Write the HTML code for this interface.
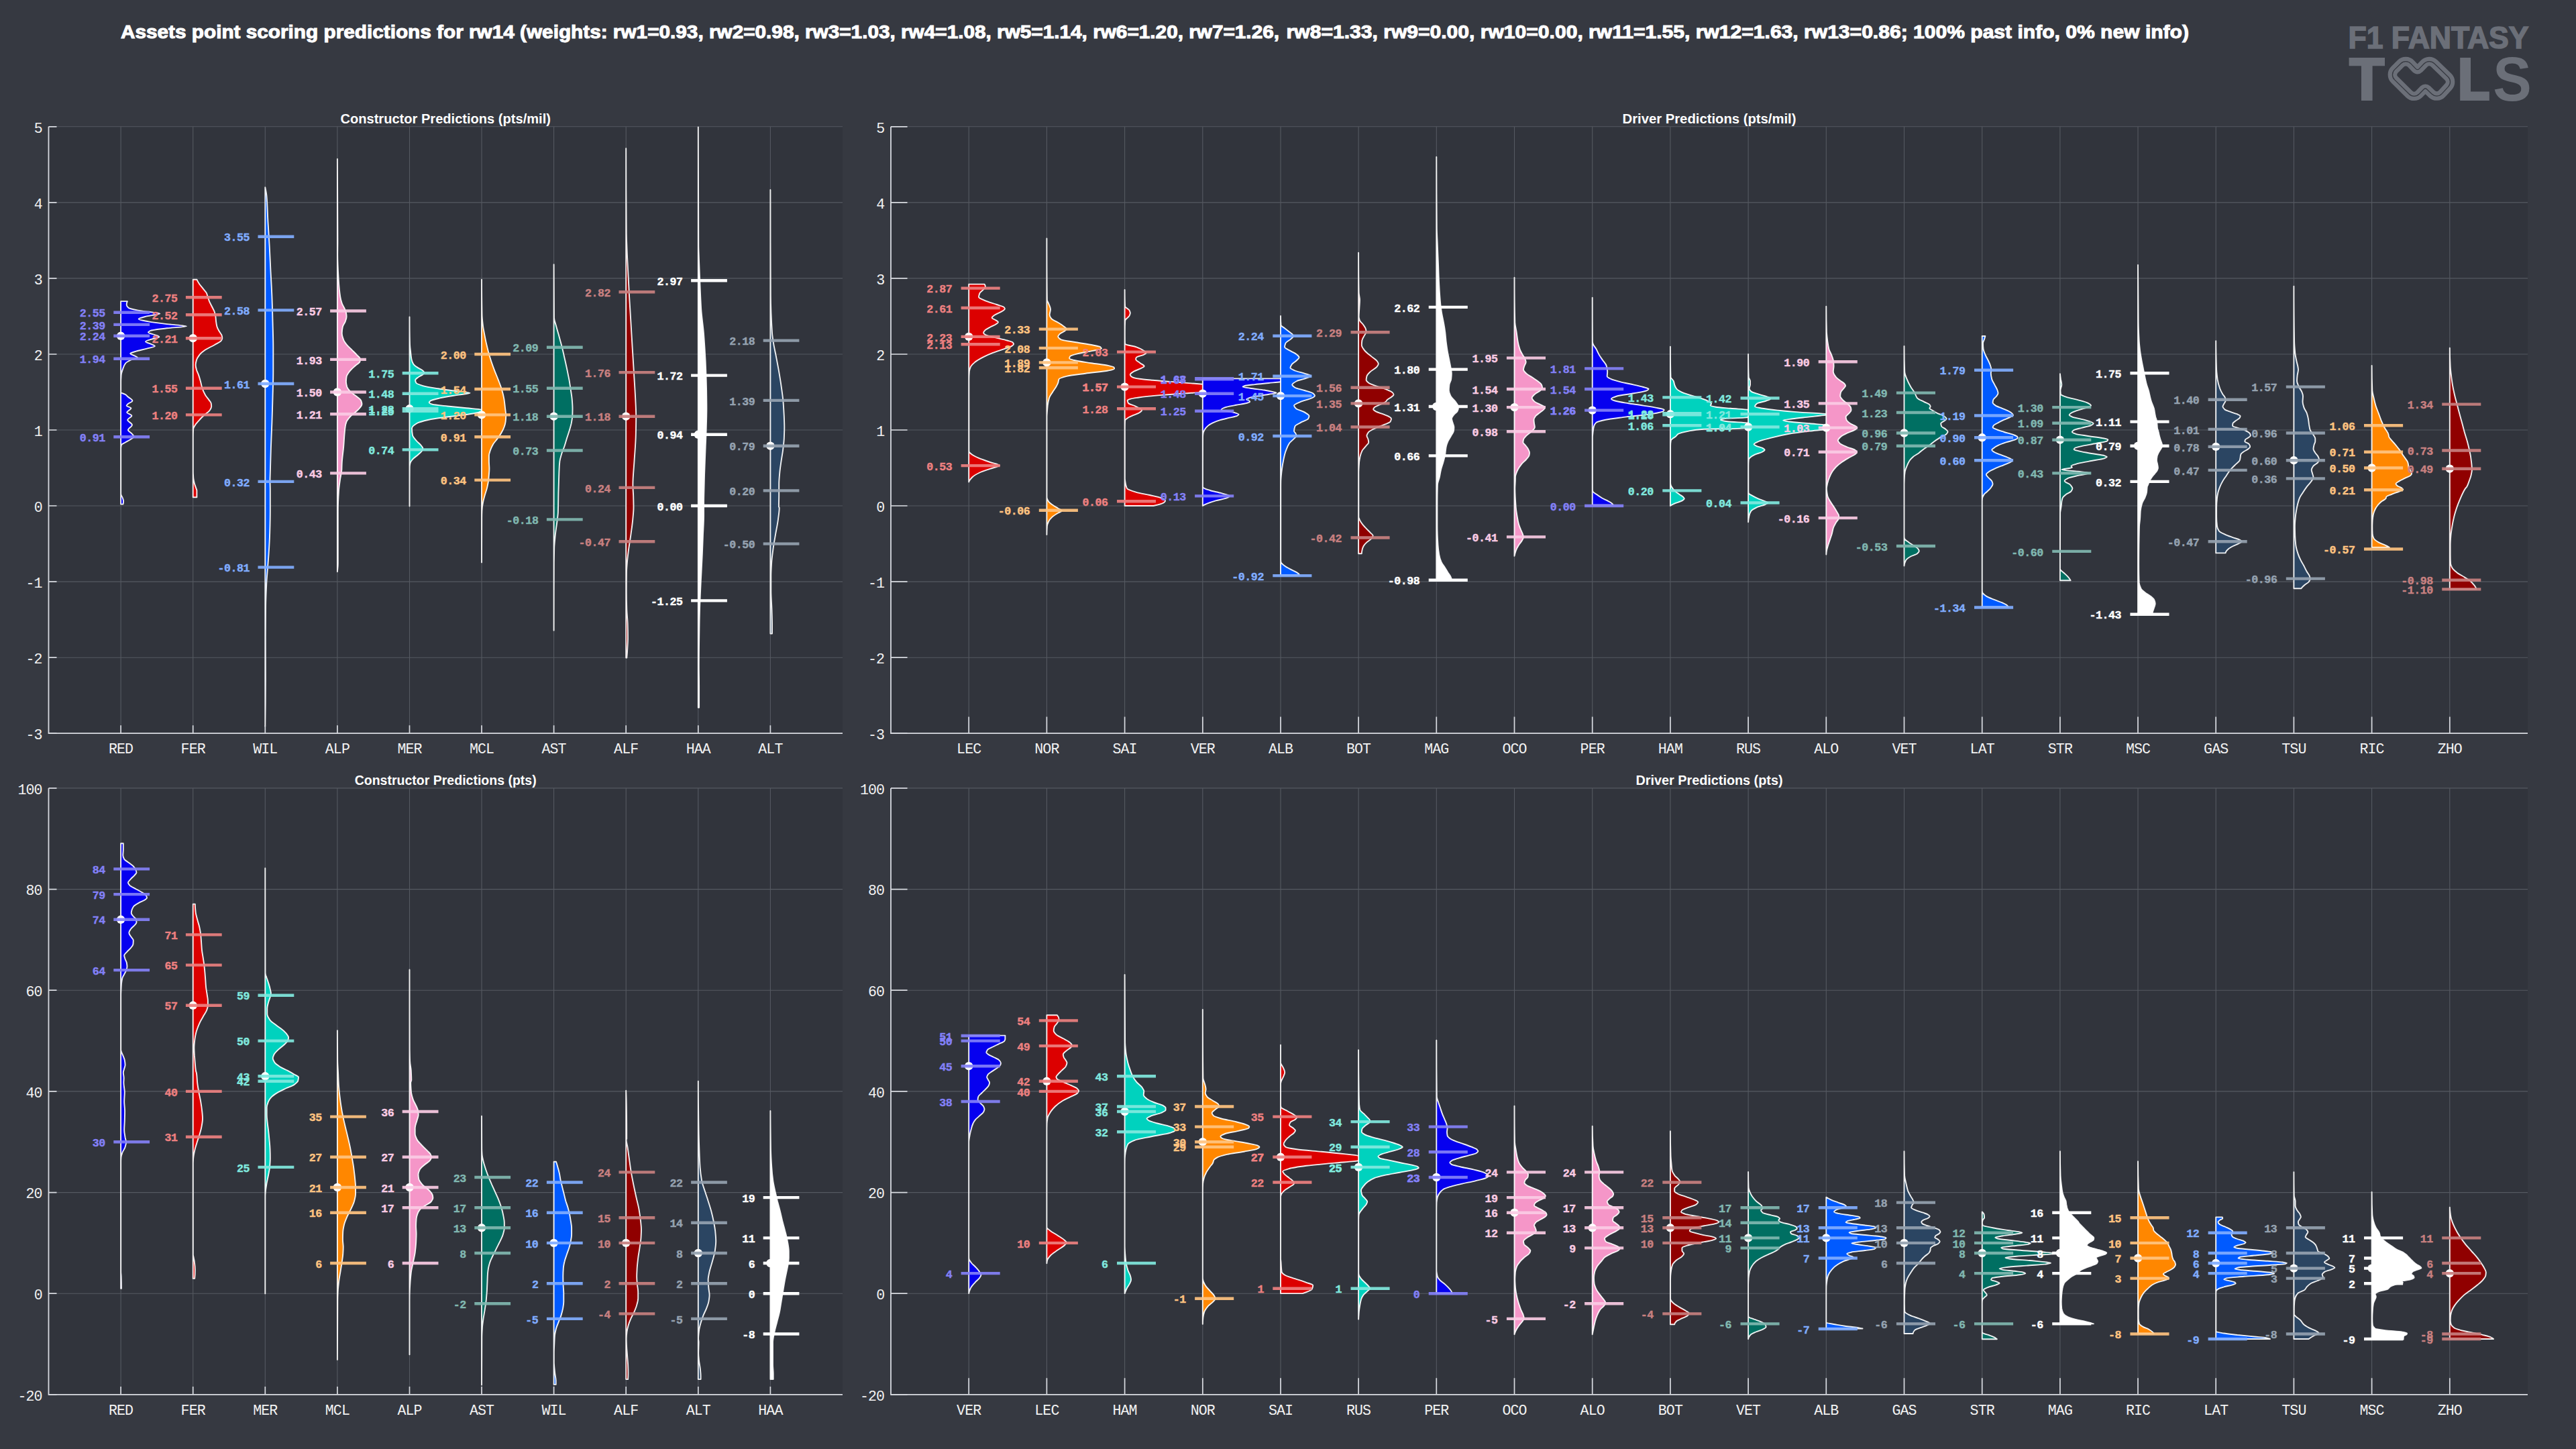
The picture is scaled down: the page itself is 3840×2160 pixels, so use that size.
<!DOCTYPE html><html><head><meta charset="utf-8"><title>F1 Fantasy Tools</title><style>html,body{margin:0;padding:0;background:#363941}svg{display:block}.q{font-family:"Liberation Mono",monospace;font-weight:bold;font-size:16.6px;letter-spacing:-0.45px;text-anchor:end;stroke-width:0.45px}.t{font-family:"Liberation Mono",monospace;font-size:21.6px;letter-spacing:-0.9px;fill:#f2f2f2}.st{font-family:"Liberation Sans",sans-serif;font-weight:bold;font-size:20px;fill:#fff}</style></head><body>
<svg width="3840" height="2160" viewBox="0 0 3840 2160">
<rect width="3840" height="2160" fill="#363941"/>
<g font-family="Liberation Sans" font-weight="bold" font-size="26.8" fill="#fff" stroke="#fff" stroke-width="1.0"><text x="180" y="56.7" textLength="1727" lengthAdjust="spacingAndGlyphs">Assets point scoring predictions for rw14 (weights: rw1=0.93, rw2=0.98, rw3=1.03, rw4=1.08, rw5=1.14, rw6=1.20, rw7=1.26,</text><text x="1917.6" y="56.7" textLength="1345.4" lengthAdjust="spacingAndGlyphs">rw8=1.33, rw9=0.00, rw10=0.00, rw11=1.55, rw12=1.63, rw13=0.86; 100% past info, 0% new info)</text></g>
<text x="3500.5" y="71.5" font-family="Liberation Sans" font-weight="bold" font-size="45.5" fill="#6b6f78" stroke="#6b6f78" stroke-width="1.6" textLength="269" lengthAdjust="spacingAndGlyphs">F1 FANTASY</text>
<path d="M3501.6 86H3555V98.2H3536.6V150H3520V98.2H3501.6Z" fill="#6b6f78"/>
<path d="M3667.2 86H3683V136.5H3710.8V150H3667.2Z" fill="#6b6f78"/>
<text x="3716.3" y="150.4" font-family="Liberation Sans" font-weight="bold" font-size="93" fill="#6b6f78" textLength="57.5" lengthAdjust="spacingAndGlyphs">S</text>
<path d="M3569.6 118.9A10.5 10.5 0 0 1 3569.5 103.9L3578.8 94.7A10.5 10.5 0 0 1 3593.8 94.9L3601.2 102.6A3.5 3.5 0 0 0 3606.2 102.6L3613.7 94.8A10.5 10.5 0 0 1 3628.6 94.5L3649.3 114.5A10.5 10.5 0 0 1 3649.8 129.1L3640.2 139.6A10.5 10.5 0 0 1 3625.2 140.2L3617.9 133.2A3.5 3.5 0 0 0 3613 133.2L3606.1 140.2A10.5 10.5 0 0 1 3591.3 140.3Z" fill="none" stroke="#6b6f78" stroke-width="13.6" stroke-linejoin="round"/>
<path d="M3569.6 118.9A10.5 10.5 0 0 1 3569.5 103.9L3578.8 94.7A10.5 10.5 0 0 1 3593.8 94.9L3601.2 102.6A3.5 3.5 0 0 0 3606.2 102.6L3613.7 94.8A10.5 10.5 0 0 1 3628.6 94.5L3649.3 114.5A10.5 10.5 0 0 1 3649.8 129.1L3640.2 139.6A10.5 10.5 0 0 1 3625.2 140.2L3617.9 133.2A3.5 3.5 0 0 0 3613 133.2L3606.1 140.2A10.5 10.5 0 0 1 3591.3 140.3Z" fill="none" stroke="#363941" stroke-width="1.3"/>
<rect x="72.5" y="188.8" width="1183.5" height="904.4" fill="#31343c"/>
<path d="M180.1 188.8V1093.2M287.7 188.8V1093.2M395.3 188.8V1093.2M502.9 188.8V1093.2M610.5 188.8V1093.2M718 188.8V1093.2M825.6 188.8V1093.2M933.2 188.8V1093.2M1040.8 188.8V1093.2M1148.4 188.8V1093.2M72.5 188.8H1256M72.5 301.9H1256M72.5 414.9H1256M72.5 528H1256M72.5 641H1256M72.5 754H1256M72.5 867.1H1256M72.5 980.2H1256M72.5 1093.2H1256" stroke="#555961" stroke-width="1.1" fill="none"/>
<clipPath id="cp1"><rect x="72.5" y="188.8" width="1223.5" height="904.4"/></clipPath>
<g clip-path="url(#cp1)">
<path d="M180.1 449.1L189.9 449.1C188.7 450.9 188.7 452.7 188.7 454.5C188.7 456 190 457.5 191.7 459C193.3 460.4 201.8 461.8 209.1 463.2C216.3 464.6 238.4 466 238.4 467.5C238.4 468.8 223.9 470.1 219 471.4C213.8 472.8 206.6 474.2 206.6 475.7C206.6 476.9 215.1 478.1 221.5 479.4C227.9 480.6 238.7 481.9 248.8 483.1C257.6 484.2 278.1 485.3 278.1 486.3C278.1 487.3 256.8 488.3 248.8 489.3C238.9 490.6 226.4 491.8 224 493C222.4 493.9 221 494.7 221 495.5C221 496.8 228.5 498 231.4 499.3C233.7 500.2 237.4 501.2 237.4 502.2C237.4 503.3 229.6 504.4 226.5 505.5C222.8 506.7 217 508 217 509.2C217 510.4 222.8 511.7 225.2 512.9C227.3 514 230.9 515.1 230.9 516.1C230.9 517.3 223.3 518.5 219 519.6C214.1 521 206.9 522.3 202.9 523.6C199.3 524.8 194.2 525.9 194.2 527.1C194.2 528.2 198.5 529.2 200.4 530.3C202.1 531.3 205.1 532.3 205.1 533.3C205.1 534.4 197.7 535.4 195.4 536.5C191.8 538.2 188.5 539.8 187.2 541.5C185.2 544 184.4 546.5 183.5 548.9C182.3 552.3 181 555.6 180.7 558.9C180.5 562.2 180.2 565.5 180.2 568.8C180.2 574.2 180.2 579.6 180.2 585C180.2 586 185.7 587.1 187.2 588.2C188.6 589.2 189.3 590.2 190.4 591.2C192.7 593.3 197.4 595.3 197.4 597.4C197.4 599 191.9 600.7 190.4 602.4C189.7 603.2 188.7 604 188.7 604.8C188.7 606.1 195.4 607.3 195.4 608.6C195.4 610.6 189.2 612.7 189.2 614.8C189.2 616.4 196.4 618.1 196.4 619.8C196.4 621.8 190.2 623.9 190.2 626C190.2 628.4 196.9 630.9 196.9 633.4C196.9 635.9 190.9 638.4 190.9 640.9C190.9 642.9 195.5 645 197.1 647.1C198.1 648.3 199.6 649.6 199.6 650.8C199.6 652 197.1 653.3 195.4 654.5C193.1 656.2 189.4 657.8 186.7 659.5C184.7 660.7 181.3 662 181 663.2C180.5 664.9 180.3 666.5 180.2 668.2C180.2 690.3 180.2 712.3 180.2 734.4C180.2 735.2 180.2 736 180.3 736.9C180.5 738.6 182.2 740.4 182.8 742.2C183.3 743.8 184.1 745.3 184.1 746.9C184.1 748.4 184 750 183.4 751.6L180.1 751.6Z" fill="#0600ef" stroke="rgba(255,255,255,0.92)" stroke-width="1.9" stroke-linejoin="round"/>
<circle cx="180.1" cy="500.8" r="6.2" fill="#fff"/>
<path d="M169.3 465.8H223.1M169.3 483.9H223.1M169.3 500.8H223.1M169.3 534.7H223.1M169.3 651.2H223.1" stroke="#8380f7" stroke-width="4.4" fill="none" opacity="0.92"/>
<g class="q" fill="#8380f7" stroke="#8380f7"><text x="156.9" y="472.4">2.55</text><text x="156.9" y="490.5">2.39</text><text x="156.9" y="507.4">2.24</text><text x="156.9" y="541.3">1.94</text><text x="156.9" y="657.8">0.91</text></g>
<path d="M287.7 416.8L293.5 416.8C294.5 419 295.8 421.2 297.3 423.5C298.6 425.5 300.6 427.6 302.2 429.7C304.2 432.2 306.8 434.7 308 437.1C308.7 438.8 309.1 440.5 309.7 442.1C310.5 444.6 311.2 447.1 312.2 449.6C313.2 452 314.7 454.5 315.9 457C317.1 459.5 318.8 462 319.6 464.5C320.4 467 321 469.4 321.4 471.9C321.7 474.4 321.8 476.9 322.1 479.4C322.4 481.9 322.7 484.3 323.4 486.8C324 489.3 325.7 491.8 327.1 494.3C328.2 496.4 330.4 498.4 330.8 500.5C331.1 501.7 331.3 503 331.3 504.2C331.3 505.5 330.4 506.7 329.6 508C328.1 510 323.2 512.1 319.6 514.2C315.4 516.6 309.5 519.1 306 521.6C302.4 524.1 299.2 526.6 297.3 529.1C295.4 531.6 293.8 534 293 536.5C292.3 539 291.6 541.5 291.6 544C291.6 546.5 292.4 548.9 293 551.4C293.7 553.9 295.2 556.4 296 558.9C297.2 562.2 298.1 565.5 299 568.8C299.9 572.1 300.4 575.4 301.5 578.8C302.6 582.1 304.1 585.4 306 588.7C307.4 591.2 309.7 593.7 311.4 596.1C312.6 597.8 314.4 599.5 314.7 601.1C314.9 602.8 315.2 604.4 315.2 606.1C315.2 608.2 313.6 610.2 312.2 612.3C310.8 614.4 307 616.4 304.7 618.5C302 621 299.5 623.5 297.3 626C295 628.4 292.6 630.9 291.1 633.4C289.8 635.5 288.2 637.6 288.1 639.6C287.9 644.2 287.8 648.7 287.8 653.3C287.8 669.9 287.8 686.4 287.8 703C287.8 706.3 288.1 709.6 288.3 712.9C288.5 715.4 289.2 717.9 289.8 720.4C290.4 722.9 291.5 725.3 292.3 727.8C292.7 729 293.4 730.1 293.4 731.2C293.4 734.6 293.4 737.9 293.4 741.2L287.7 741.2Z" fill="#dc0000" stroke="rgba(255,255,255,0.92)" stroke-width="1.9" stroke-linejoin="round"/>
<circle cx="287.7" cy="504.2" r="6.2" fill="#fff"/>
<path d="M276.9 443.2H330.7M276.9 469.2H330.7M276.9 504.2H330.7M276.9 578.8H330.7M276.9 618.4H330.7" stroke="#ed8080" stroke-width="4.4" fill="none" opacity="0.92"/>
<g class="q" fill="#ed8080" stroke="#ed8080"><text x="264.5" y="449.8">2.75</text><text x="264.5" y="475.8">2.52</text><text x="264.5" y="510.8">2.21</text><text x="264.5" y="585.4">1.55</text><text x="264.5" y="625">1.20</text></g>
<path d="M395.3 279.3L395.3 279.3C396.2 283.6 397.2 288 397.5 292.4C398.6 304.9 398.7 317.4 399.4 329.8C400.1 342.3 401 354.8 401.7 367.3C402.3 379.8 402.9 392.3 403.5 404.8C404.2 417.3 404.9 429.7 405.4 442.2C405.9 454.7 406.2 467.2 406.5 479.7C406.8 492.2 407.3 504.7 407.3 517.2C407.3 529.6 407.3 542.1 407.3 554.6C407.3 567.1 406.8 579.6 406.5 592.1C406.2 604.6 405.8 617 405.4 629.5C405 642 404.3 654.5 403.9 667C403.5 679.5 403.1 692 402.8 704.5C402.7 708.2 402.5 711.9 402.5 715.6C402.5 720.8 402.8 726 402.8 731.2C402.8 741.7 402.8 752.1 402.8 762.5C402.8 772.9 402.5 783.3 402.2 793.8C401.9 804.2 401.3 814.6 400.6 825C400.2 831.8 399.6 838.5 399.1 845.3C398.4 854.2 397.6 863 397.2 871.9C396.7 882.3 396.2 892.7 396.1 903.1C395.9 918.8 395.8 934.4 395.8 950C395.8 970.8 395.9 991.7 395.9 1012.5C395.9 1035.9 395.6 1059.4 395.3 1082.8L395.3 1082.8Z" fill="#005aff" stroke="rgba(255,255,255,0.92)" stroke-width="1.9" stroke-linejoin="round"/>
<circle cx="395.3" cy="572" r="6.2" fill="#fff"/>
<path d="M384.5 352.7H438.3M384.5 462.4H438.3M384.5 572H438.3M384.5 717.9H438.3M384.5 845.6H438.3" stroke="#80acff" stroke-width="4.4" fill="none" opacity="0.92"/>
<g class="q" fill="#80acff" stroke="#80acff"><text x="372.1" y="359.3">3.55</text><text x="372.1" y="469">2.58</text><text x="372.1" y="578.6">1.61</text><text x="372.1" y="724.5">0.32</text><text x="372.1" y="852.2">-0.81</text></g>
<path d="M502.9 236.9L502.9 236.9C503.4 277.9 503.4 318.9 503.4 359.8C503.4 366.5 503.2 373.3 503.2 380C503.2 392.4 504 404.8 504.7 417.3C505.2 425.5 505.9 433.8 507.2 442.1C507.7 445.4 508.6 448.7 509.7 452C510.5 454.5 512.3 457 513.4 459.5C514.3 461.6 515.5 463.6 515.9 465.7C516.3 467.8 516.6 469.9 516.6 471.9C516.6 474.4 515.5 476.9 514.7 479.4C513.8 481.9 511.4 484.3 510.9 486.8C510.2 490.1 509.7 493.5 509.7 496.8C509.7 500.1 510.9 503.4 512.2 506.7C513.1 509.2 515.2 511.7 517.1 514.2C519.1 516.6 522.1 519.1 524.6 521.6C527.1 524.1 529.8 526.6 532 529.1C533.9 531.1 537 533.2 537 535.3C537 536.5 536.8 537.8 536.5 539C536.1 541.1 531.8 543.1 529.6 545.2C526.5 548.1 523 551 520.9 553.9C519.1 556.4 517.1 558.9 516.6 561.4C516.2 563.9 515.9 566.3 515.9 568.8C515.9 571.3 516.5 573.8 517.1 576.3C517.8 578.8 519.9 581.2 522.1 583.7C524.3 586.2 529.2 588.7 532 591.2C534.4 593.3 537.5 595.3 538.3 597.4C538.9 599 539.5 600.7 539.5 602.4C539.5 604 538.1 605.7 537 607.3C535.7 609.4 533 611.5 530.8 613.5C528.1 616 524.3 618.5 522.1 621C519.9 623.5 517.6 626 516.6 628.4C515.7 630.9 515 633.4 514.7 635.9C514 640 513.8 644.2 513.4 648.3C512.9 654.1 512.7 659.9 512.2 665.7C511.5 674 510.1 682.3 509.7 690.6C509.5 693.7 509.5 696.9 509.4 700C509.1 705.2 507.6 710.4 506.9 715.6C506.2 720.8 505.3 726 505 731.2C504.3 741.7 503.8 752.1 503.8 762.5C503.8 778.1 503.8 793.8 503.8 809.4C503.8 819.8 503.8 830.2 503.8 840.6C503.8 844.5 503.2 848.3 502.9 852.2L502.9 852.2Z" fill="#f596c8" stroke="rgba(255,255,255,0.92)" stroke-width="1.9" stroke-linejoin="round"/>
<circle cx="502.9" cy="584.5" r="6.2" fill="#fff"/>
<path d="M492.1 463.5H545.9M492.1 535.9H545.9M492.1 584.5H545.9M492.1 617.3H545.9M492.1 705.4H545.9" stroke="#facbe4" stroke-width="4.4" fill="none" opacity="0.92"/>
<g class="q" fill="#facbe4" stroke="#facbe4"><text x="479.7" y="470.1">2.57</text><text x="479.7" y="542.5">1.93</text><text x="479.7" y="591.1">1.50</text><text x="479.7" y="623.9">1.21</text><text x="479.7" y="712">0.43</text></g>
<path d="M610.5 472.4L610.5 472.4C610.5 485.9 610.6 499.5 611 513C611.1 516.8 611.6 520.6 612.1 524.4C612.5 528.2 612.7 531.9 613.5 535.7C613.9 538 614.8 540.4 616.3 542.7C617.4 544.6 620.5 546.5 623.3 548.4C625.3 549.8 628.9 551.2 630.4 552.6C631.3 553.5 632.6 554.5 632.6 555.4C632.6 556.3 631.3 557.3 630.4 558.2C628.9 559.6 625 561 623.3 562.4C621.5 563.8 619.1 565.3 619.1 566.7C619.1 568.1 619.6 569.5 620.5 570.9C621.3 572.3 625.8 573.7 630.4 575.1C634.9 576.5 644 577.9 652.9 579.3C660.6 580.5 672 581.8 681 583C687.8 583.9 700.7 584.9 700.7 585.8C700.7 586.7 689.3 587.7 683.8 588.6C674.2 590.2 662.4 591.8 655.7 593.4C649.7 594.8 643.3 596.2 641.6 597.6C640.6 598.4 639.7 599.1 639.7 599.9C639.7 600.8 641.8 601.8 644.4 602.7C646.9 603.6 658.6 604.6 667 605.5C675.3 606.4 685.8 607.4 695.1 608.3C702.6 609.1 713.6 609.8 717.5 610.6C719.8 611.1 722.5 611.5 722.5 612C722.5 612.7 719.7 613.3 717.5 614C713.8 615.1 706.9 616.2 700 617.3C692.1 618.5 679.5 619.8 670.5 621C659 622.6 645.9 624.1 639 625.7C631.1 627.5 624.3 629.2 621.5 631C617.5 633.5 614 635.9 614 638.4C614 641.7 614.3 645 614.9 648.3C615.3 651.1 618.2 653.9 620.5 656.7C622.3 659.1 625.7 661.4 627.5 663.8C628.6 665.4 630.4 666.9 630.4 668.5C630.4 669.7 629.6 671 629 672.2C628 674.1 625.3 675.9 623.3 677.8C620.7 680.2 616.7 682.5 614.9 684.9C613.4 686.8 611.9 688.6 611.5 690.5C611 692.3 610.7 694.2 610.7 696C610.5 715.5 610.5 735.1 610.5 754.6L610.5 754.6Z" fill="#00d2be" stroke="rgba(255,255,255,0.92)" stroke-width="1.9" stroke-linejoin="round"/>
<circle cx="610.5" cy="609.3" r="6.2" fill="#fff"/>
<path d="M599.7 556.2H653.5M599.7 586.7H653.5M599.7 609.3H653.5M599.7 612.7H653.5M599.7 670.4H653.5" stroke="#80e8de" stroke-width="4.4" fill="none" opacity="0.92"/>
<g class="q" fill="#80e8de" stroke="#80e8de"><text x="587.2" y="562.8">1.75</text><text x="587.2" y="593.3">1.48</text><text x="587.2" y="615.9">1.28</text><text x="587.2" y="619.3">1.25</text><text x="587.2" y="677">0.74</text></g>
<path d="M718 416.8L718 416.8C718 433.9 718.2 451 718.5 468.1C718.5 473.8 719.2 479.4 719.9 485C720.3 488.8 721.1 492.5 721.8 496.3C722.7 501 723.6 505.7 724.6 510.4C725.7 515.1 726.8 519.7 728 524.4C729.3 529.1 730.7 533.8 732.2 538.5C733.8 543.2 735.5 547.9 737.3 552.6C739.1 557.3 741.2 562 742.9 566.6C744.7 571.3 746.7 576 748 580.7C749.4 585.4 750.6 590.1 751.4 594.8C752.1 599.5 752.6 604.2 753.1 608.9C753.5 612.6 754.2 616.4 754.2 620.1C754.2 622.9 753.9 625.8 753.6 628.6C753.3 631.4 752.4 634.2 751.4 637C750.4 639.8 748.8 642.6 747.2 645.5C745.6 648.3 743.5 651.1 741.5 653.9C739.5 656.7 736.7 659.5 735.1 662.3C733.4 665.2 732.1 668 731.1 670.8C730.2 673.6 728.9 676.4 728.9 679.2C728.9 682 728.9 684.9 728.9 687.7C728.9 691.4 729.4 695.2 729.4 698.9C729.4 701.7 729.1 704.6 728.9 707.4C728.6 710.7 728.4 713.9 728 717.2C727.6 720.5 726.8 723.8 726.1 727.1C725.2 730.8 723.7 734.6 722.7 738.3C721.7 742.1 720.5 745.8 719.9 749.6C719.2 753.3 718.6 757.1 718.5 760.8C718.3 764.6 718.2 768.4 718.2 772.1C718.1 794.2 718 816.3 718 838.4L718 838.4Z" fill="#ff8700" stroke="rgba(255,255,255,0.92)" stroke-width="1.9" stroke-linejoin="round"/>
<circle cx="718" cy="618.4" r="6.2" fill="#fff"/>
<path d="M707.3 528H761.1M707.3 580H761.1M707.3 618.4H761.1M707.3 651.2H761.1M707.3 715.6H761.1" stroke="#ffc380" stroke-width="4.4" fill="none" opacity="0.92"/>
<g class="q" fill="#ffc380" stroke="#ffc380"><text x="694.8" y="534.6">2.00</text><text x="694.8" y="586.6">1.54</text><text x="694.8" y="625">1.20</text><text x="694.8" y="657.8">0.91</text><text x="694.8" y="722.2">0.34</text></g>
<path d="M825.6 394.3L825.6 394.3C825.6 420.8 825.7 447.3 826 473.8C826 477.5 827.8 481.3 828.8 485C830.3 490.7 832 496.3 833.6 501.9C835.1 507.5 836.7 513.2 838.1 518.8C839.5 524.4 840.7 530.1 842 535.7C843.3 541.3 844.5 546.9 845.7 552.6C846.6 557.3 847.6 562 848.5 566.6C849.3 571.3 850 576 850.7 580.7C851.4 585.4 852.3 590.1 852.7 594.8C853.1 599.5 853.5 604.2 853.5 608.9C853.5 612.6 853.4 616.4 853.3 620.1C853.1 623.9 852.3 627.6 851.6 631.4C850.8 635.1 849.6 638.9 848.5 642.6C847.4 646.4 846 650.1 844.8 653.9C843.7 657.7 842.7 661.4 841.4 665.2C840.2 668.9 838.3 672.7 837.2 676.4C836.1 680.2 834.8 683.9 834.4 687.7C834 691.4 833.7 695.2 833.6 698.9C833.3 704.6 833.2 710.2 833 715.8C832.8 722.4 832.6 728.9 832.4 735.5C832.3 740.2 832.3 744.9 832.2 749.6C832.1 754.3 832 759 831.9 763.7C831.7 767.5 831.2 771.3 830.7 775.2C830 782.2 828.7 789.3 827.9 796.3C827.3 802.9 826.5 809.4 826.2 816C826 823.5 825.9 831 825.8 838.5C825.7 872.3 825.6 906 825.6 939.8L825.6 939.8Z" fill="#006f62" stroke="rgba(255,255,255,0.92)" stroke-width="1.9" stroke-linejoin="round"/>
<circle cx="825.6" cy="620.7" r="6.2" fill="#fff"/>
<path d="M814.9 517.8H868.7M814.9 578.8H868.7M814.9 620.7H868.7M814.9 671.5H868.7M814.9 774.4H868.7" stroke="#80b7b0" stroke-width="4.4" fill="none" opacity="0.92"/>
<g class="q" fill="#80b7b0" stroke="#80b7b0"><text x="802.4" y="524.4">2.09</text><text x="802.4" y="585.4">1.55</text><text x="802.4" y="627.3">1.18</text><text x="802.4" y="678.1">0.73</text><text x="802.4" y="781">-0.18</text></g>
<path d="M933.2 221.2L933.2 221.2C933.2 263.7 933.4 306.1 933.8 348.6C933.9 354.8 934.1 361.1 934.4 367.3C934.8 379.8 935.6 392.3 936.2 404.8C936.9 417.3 937.4 429.7 938.1 442.2C938.8 454.7 939.6 467.2 940.4 479.7C941.1 492.2 941.9 504.7 942.6 517.2C943.4 529.6 944.1 542.1 944.9 554.6C945.6 567.1 946.5 579.6 947.1 592.1C947.6 602.1 948.2 612.1 948.2 622C948.2 630.8 948 639.5 947.8 648.3C947.6 660.8 946.4 673.2 945.6 685.7C944.9 698.1 943.4 710.5 943.4 722.8C943.4 728.5 944 734.3 944.2 740C944.3 745.6 944.5 751.3 944.5 756.9C944.5 762.5 943.8 768.1 943.3 773.8C942.7 781.3 941.5 788.8 940.5 796.3C939.5 803.8 938.1 811.3 937.1 818.8C936.3 825.4 935.4 831.9 934.9 838.5C934.5 843.2 934.1 847.9 934 852.6C933.9 862 933.8 871.3 933.8 880.7C933.8 890.1 934 899.5 934.3 908.9C934.6 916.4 935.6 923.9 935.7 931.4C935.9 937.9 936 944.5 936 951.1C936 955.8 935.7 960.5 935.4 965.2C935.2 970.3 934.8 975.5 934.3 980.6L933.2 980.6Z" fill="#900000" stroke="rgba(255,255,255,0.92)" stroke-width="1.9" stroke-linejoin="round"/>
<circle cx="933.2" cy="620.7" r="6.2" fill="#fff"/>
<path d="M922.5 435.2H976.3M922.5 555.1H976.3M922.5 620.7H976.3M922.5 726.9H976.3M922.5 807.2H976.3" stroke="#c88080" stroke-width="4.4" fill="none" opacity="0.92"/>
<g class="q" fill="#c88080" stroke="#c88080"><text x="910" y="441.8">2.82</text><text x="910" y="561.7">1.76</text><text x="910" y="627.3">1.18</text><text x="910" y="733.5">0.24</text><text x="910" y="813.8">-0.47</text></g>
<path d="M1040.8 188.2L1040.8 188.2C1040.8 247.9 1040.9 307.6 1041.3 367.3C1041.4 373.5 1041.7 379.8 1041.9 386C1042.3 398.5 1042.8 411 1043.4 423.5C1043.9 436 1044.4 448.5 1045.2 461C1046 472.7 1047.9 484.5 1048.9 496.3C1049.6 505.7 1050.3 515.1 1050.8 524.4C1051.4 533.8 1051.9 543.2 1052.2 552.6C1052.6 562 1052.9 571.3 1053.1 580.7C1053.2 590.1 1053.4 599.5 1053.4 608.9C1053.4 618.2 1053.1 627.6 1052.8 637C1052.6 646.4 1052.1 655.8 1051.7 665.2C1051.3 674.5 1050.9 683.9 1050.6 693.3C1050.2 702.7 1049.9 712.1 1049.7 721.4C1049.5 730.8 1049.1 740.2 1049.1 749.6C1049.1 755.8 1049.1 762 1049.1 768.1C1049.1 777.5 1048.4 786.9 1048 796.3C1047.6 805.7 1047.3 815.1 1046.9 824.4C1046.5 833.8 1046 843.2 1045.5 852.6C1045 862 1044.5 871.3 1044.1 880.7C1043.7 890.1 1043.2 899.5 1043 908.9C1042.7 918.2 1042.5 927.6 1042.4 937C1042.1 955.8 1041.8 974.5 1041.8 993.3C1041.8 1002.7 1042.1 1012.1 1042.1 1021.4C1042.1 1032.5 1042.1 1043.6 1042.1 1054.7L1040.8 1054.7Z" fill="#ffffff" stroke="rgba(255,255,255,0.92)" stroke-width="1.9" stroke-linejoin="round"/>
<circle cx="1040.8" cy="647.8" r="6.2" fill="#fff"/>
<path d="M1030.1 418.3H1083.9M1030.1 559.6H1083.9M1030.1 647.8H1083.9M1030.1 754H1083.9M1030.1 895.4H1083.9" stroke="#ffffff" stroke-width="4.4" fill="none" opacity="1"/>
<g class="q" fill="#ffffff" stroke="#ffffff"><text x="1017.6" y="424.9">2.97</text><text x="1017.6" y="566.2">1.72</text><text x="1017.6" y="654.4">0.94</text><text x="1017.6" y="760.6">0.00</text><text x="1017.6" y="902">-1.25</text></g>
<path d="M1148.4 283L1148.4 283C1148.4 335.3 1148.5 387.7 1148.8 440C1148.9 458.8 1149.8 477.5 1151 496.3C1151.4 501.9 1152.4 507.5 1153.3 513.2C1154.2 518.8 1155.6 524.4 1156.7 530.1C1158.1 537.6 1159.6 545.1 1160.9 552.6C1162.2 560.1 1163.5 567.6 1164.5 575.1C1165.6 582.6 1166.7 590.1 1167.4 597.6C1168 605.1 1168.4 612.6 1168.8 620.1C1169 625.8 1169.3 631.4 1169.3 637C1169.3 642.6 1169 648.3 1168.8 653.9C1168.5 659.5 1167.8 665.2 1167.1 670.8C1166.4 676.4 1165.3 682 1164.5 687.7C1163.7 693.3 1162.8 698.9 1162.3 704.6C1161.8 710.2 1161.2 715.8 1161.2 721.4C1161.2 727.1 1161.2 732.7 1161.2 738.3C1161.2 744 1160.9 749.6 1160.9 755.2C1160.9 755.8 1161.7 756.3 1161.7 756.9C1161.7 762.5 1160.7 768.1 1160 773.8C1159.1 781.3 1157.4 788.8 1156.1 796.3C1154.8 803.8 1153.4 811.3 1152.4 818.8C1151.6 825.4 1150.6 831.9 1150.2 838.5C1149.8 845.1 1149.3 851.6 1149.3 858.2C1149.3 865.7 1149.3 873.2 1149.3 880.7C1149.3 890.1 1150.2 899.5 1150.5 908.9C1150.7 916.4 1151 923.9 1151 931.4C1151 935.8 1151 940.2 1151 944.6L1148.4 944.6Z" fill="#2b4562" stroke="rgba(255,255,255,0.92)" stroke-width="1.9" stroke-linejoin="round"/>
<circle cx="1148.4" cy="664.7" r="6.2" fill="#fff"/>
<path d="M1137.7 507.6H1191.4M1137.7 596.9H1191.4M1137.7 664.7H1191.4M1137.7 731.4H1191.4M1137.7 810.6H1191.4" stroke="#95a2b0" stroke-width="4.4" fill="none" opacity="0.92"/>
<g class="q" fill="#95a2b0" stroke="#95a2b0"><text x="1125.2" y="514.2">2.18</text><text x="1125.2" y="603.5">1.39</text><text x="1125.2" y="671.3">0.79</text><text x="1125.2" y="738">0.20</text><text x="1125.2" y="817.2">-0.50</text></g>
</g>
<path d="M72.5 188.8V1093.2H1256" stroke="#d8dae0" stroke-width="1.8" fill="none" stroke-linejoin="miter"/>
<path d="M72.5 188.8h12M72.5 301.9h12M72.5 414.9h12M72.5 528h12M72.5 641h12M72.5 754h12M72.5 867.1h12M72.5 980.2h12M72.5 1093.2h12M180.1 1093.2v-12M287.7 1093.2v-12M395.3 1093.2v-12M502.9 1093.2v-12M610.5 1093.2v-12M718 1093.2v-12M825.6 1093.2v-12M933.2 1093.2v-12M1040.8 1093.2v-12M1148.4 1093.2v-12" stroke="#d8dae0" stroke-width="1.7" fill="none"/>
<g class="t"><text x="62.7" y="197.6" text-anchor="end">5</text><text x="62.7" y="310.7" text-anchor="end">4</text><text x="62.7" y="423.7" text-anchor="end">3</text><text x="62.7" y="536.8" text-anchor="end">2</text><text x="62.7" y="649.8" text-anchor="end">1</text><text x="62.7" y="762.8" text-anchor="end">0</text><text x="62.7" y="875.9" text-anchor="end">-1</text><text x="62.7" y="989" text-anchor="end">-2</text><text x="62.7" y="1102" text-anchor="end">-3</text><text x="180.1" y="1122.8" text-anchor="middle">RED</text><text x="287.7" y="1122.8" text-anchor="middle">FER</text><text x="395.3" y="1122.8" text-anchor="middle">WIL</text><text x="502.9" y="1122.8" text-anchor="middle">ALP</text><text x="610.5" y="1122.8" text-anchor="middle">MER</text><text x="718" y="1122.8" text-anchor="middle">MCL</text><text x="825.6" y="1122.8" text-anchor="middle">AST</text><text x="933.2" y="1122.8" text-anchor="middle">ALF</text><text x="1040.8" y="1122.8" text-anchor="middle">HAA</text><text x="1148.4" y="1122.8" text-anchor="middle">ALT</text></g>
<text class="st" x="664.2" y="184.2" text-anchor="middle" textLength="313.4" lengthAdjust="spacingAndGlyphs">Constructor Predictions (pts/mil)</text>
<rect x="1328" y="188.8" width="2440" height="904.4" fill="#31343c"/>
<path d="M1444.2 188.8V1093.2M1560.4 188.8V1093.2M1676.6 188.8V1093.2M1792.8 188.8V1093.2M1909 188.8V1093.2M2025.1 188.8V1093.2M2141.3 188.8V1093.2M2257.5 188.8V1093.2M2373.7 188.8V1093.2M2489.9 188.8V1093.2M2606.1 188.8V1093.2M2722.3 188.8V1093.2M2838.5 188.8V1093.2M2954.7 188.8V1093.2M3070.9 188.8V1093.2M3187 188.8V1093.2M3303.2 188.8V1093.2M3419.4 188.8V1093.2M3535.6 188.8V1093.2M3651.8 188.8V1093.2M1328 188.8H3768M1328 301.9H3768M1328 414.9H3768M1328 528H3768M1328 641H3768M1328 754H3768M1328 867.1H3768M1328 980.2H3768M1328 1093.2H3768" stroke="#555961" stroke-width="1.1" fill="none"/>
<clipPath id="cp2"><rect x="1328" y="188.8" width="2480" height="904.4"/></clipPath>
<g clip-path="url(#cp2)">
<path d="M1444.2 423.6L1467.5 423.6C1468.5 424.8 1468.9 426 1468.9 427.2C1468.9 428.7 1467.2 430.1 1466.1 431.5C1464.6 433.3 1461.2 435.2 1460.4 437.1C1459.7 439 1459 440.9 1459 442.7C1459 444.6 1464.7 446.5 1468.9 448.4C1473 450.2 1480.5 452.1 1485.8 454C1489.7 455.4 1496.2 456.8 1497 458.2C1497.5 459 1497.9 459.7 1497.9 460.5C1497.9 461.6 1495.7 462.7 1494.2 463.8C1491.6 465.7 1485.4 467.6 1482.9 469.5C1481.1 470.9 1478.7 472.3 1478.7 473.7C1478.7 474.9 1482.6 476.1 1484.3 477.3C1485.7 478.3 1488 479.2 1488 480.2C1488 481.3 1485.9 482.4 1484.3 483.5C1482.4 484.9 1478.3 486.4 1475.9 487.8C1472.7 489.6 1468.8 491.5 1467.5 493.4C1466.8 494.3 1466.1 495.3 1466.1 496.2C1466.1 497.1 1467.5 498.1 1468.9 499C1471 500.4 1477.6 501.8 1482.9 503.2C1488.2 504.6 1496.3 506.1 1501.2 507.5C1504.5 508.4 1508.9 509.3 1509.7 510.3C1510.5 511.2 1511.1 512.1 1511.1 513.1C1511.1 514 1509.6 515 1508.3 515.9C1506.3 517.3 1501 518.7 1497 520.1C1491.7 522 1484.9 523.9 1480.1 525.8C1474.1 528.1 1469 530.4 1464.6 532.8C1460.3 535.1 1456.1 537.5 1453.4 539.8C1450.6 542.2 1447.9 544.5 1446.9 546.9C1445.9 549.2 1445.2 551.6 1444.9 553.9C1444.6 557.7 1444.4 561.4 1444.4 565.2C1444.4 600.8 1444.4 636.5 1444.4 672.1C1444.4 672.6 1444.5 673 1444.7 673.5C1445.1 674.9 1447.2 676.3 1449.2 677.7C1451.7 679.6 1456.1 681.5 1460.4 683.4C1464.8 685.2 1470.6 687.1 1475.9 689C1480.4 690.6 1490 692.2 1490 693.8C1490 695.5 1480.6 697.2 1475.9 698.8C1470.7 700.7 1464.3 702.6 1460.4 704.5C1455.6 706.8 1451.5 709.2 1449.2 711.5C1446.9 713.9 1444.8 716.2 1444.2 718.5L1444.2 718.5Z" fill="#dc0000" stroke="rgba(255,255,255,0.92)" stroke-width="1.9" stroke-linejoin="round"/>
<circle cx="1444.2" cy="501.9" r="6.2" fill="#fff"/>
<path d="M1432.6 429.6H1490.7M1432.6 459H1490.7M1432.6 501.9H1490.7M1432.6 513.3H1490.7M1432.6 694.1H1490.7" stroke="#ed8080" stroke-width="4.4" fill="none" opacity="0.92"/>
<g class="q" fill="#ed8080" stroke="#ed8080"><text x="1419.2" y="436.2">2.87</text><text x="1419.2" y="465.6">2.61</text><text x="1419.2" y="508.5">2.23</text><text x="1419.2" y="519.9">2.13</text><text x="1419.2" y="700.7">0.53</text></g>
<path d="M1560.4 355.5L1560.4 355.5C1560.4 386 1560.4 416.5 1560.9 446.9C1560.9 448.8 1562.5 450.7 1563.2 452.6C1564.2 455.4 1566 458.2 1566 461C1566 463.8 1564.6 466.6 1564.6 469.5C1564.6 471.3 1565.9 473.2 1567.4 475.1C1568.8 477 1574.2 478.8 1577.2 480.7C1580.3 482.6 1583.4 484.5 1585.7 486.4C1587.3 487.8 1589.9 489.2 1589.9 490.6C1589.9 491.5 1588.2 492.4 1587.1 493.4C1585.3 494.8 1581.4 496.2 1580 497.6C1578.7 499 1577.2 500.4 1577.2 501.8C1577.2 503.2 1579.1 504.6 1581.4 506.1C1583.8 507.5 1596 508.9 1604 510.3C1611.9 511.7 1622.6 513.1 1629.3 514.5C1633.7 515.4 1639.6 516.4 1640.5 517.3C1641.3 518.1 1642 518.8 1642 519.6C1642 520.7 1634.2 521.8 1629.3 522.9C1623.1 524.3 1611.9 525.8 1606.8 527.2C1601.6 528.6 1595.7 530 1595 531.4C1594.5 532.3 1594.1 533.3 1594.1 534.2C1594.1 535.1 1597.9 536.1 1601.1 537C1606 538.4 1617.4 539.8 1626.5 541.2C1634.3 542.5 1646.6 543.7 1651.8 544.9C1655.8 545.8 1660.6 546.8 1660.8 547.7C1661 548.4 1661.1 549 1661.1 549.7C1661.1 550.6 1656.1 551.6 1651.8 552.5C1645.4 553.9 1628.3 555.3 1618 556.7C1607.8 558.1 1595.2 559.5 1589.9 560.9C1584.5 562.3 1579.3 563.7 1578.6 565.2C1577.7 567 1577.8 568.9 1577.2 570.8C1576.6 572.7 1575.5 574.5 1574.4 576.4C1572.8 579.2 1570.5 582 1568.8 584.9C1567.1 587.7 1564.8 590.5 1564 593.3C1562.9 597.1 1562.2 600.8 1561.7 604.6C1561.4 607.8 1561.1 611.1 1560.9 614.4C1560.7 616.8 1560.5 619.1 1560.5 621.4C1560.5 660.8 1560.5 700.1 1560.5 739.4C1560.5 740.3 1560.5 741.3 1560.6 742.2C1560.8 744.1 1561.9 746 1563.2 747.8C1564.4 749.7 1567.5 751.6 1570.2 753.5C1572.2 754.9 1575 756.3 1577.2 757.7C1579.2 758.9 1582.9 760.1 1582.9 761.4C1582.9 762.5 1579 763.6 1577.2 764.7C1574.2 766.6 1570.8 768.5 1568.8 770.4C1566.3 772.7 1564.2 775.1 1563.2 777.4C1562.1 779.7 1561.1 782.1 1560.9 784.4C1560.6 788.7 1560.4 792.9 1560.4 797.1L1560.4 797.1Z" fill="#ff8700" stroke="rgba(255,255,255,0.92)" stroke-width="1.9" stroke-linejoin="round"/>
<circle cx="1560.4" cy="540.4" r="6.2" fill="#fff"/>
<path d="M1548.8 490.6H1606.9M1548.8 518.9H1606.9M1548.8 540.4H1606.9M1548.8 548.3H1606.9M1548.8 760.8H1606.9" stroke="#ffc380" stroke-width="4.4" fill="none" opacity="0.92"/>
<g class="q" fill="#ffc380" stroke="#ffc380"><text x="1535.3" y="497.2">2.33</text><text x="1535.3" y="525.5">2.08</text><text x="1535.3" y="547">1.89</text><text x="1535.3" y="554.9">1.82</text><text x="1535.3" y="767.4">-0.06</text></g>
<path d="M1676.6 432L1676.6 432C1676.6 440.3 1676.7 448.5 1677.1 456.8C1677.2 458.7 1682.5 460.5 1683.4 462.4C1684.1 463.8 1684.8 465.3 1684.8 466.7C1684.8 468.1 1684 469.5 1683.4 470.9C1682.3 473.2 1677.3 475.6 1677.2 477.9C1676.9 483.6 1676.8 489.3 1676.8 495C1676.8 500.6 1676.8 506.1 1677 511.7C1677 512.2 1677.3 512.6 1677.7 513.1C1678.8 514.5 1690.2 515.9 1694 517.3C1699 519.2 1702.9 521.1 1705.3 523C1706.7 524.1 1708.5 525.2 1708.5 526.3C1708.5 527.1 1706.6 527.8 1705.3 528.6C1702.8 530 1694.8 531.4 1694 532.8C1693.5 533.7 1693.1 534.5 1693.1 535.4C1693.1 537.3 1697.2 539.3 1699.6 541.2C1701.5 542.8 1705.7 544.3 1705.7 545.9C1705.7 546.7 1703.8 547.5 1702.5 548.3C1699.4 550.2 1692.6 552 1689.8 553.9C1687.5 555.4 1684.7 556.9 1684.7 558.4C1684.7 559.6 1685.9 560.7 1687.5 561.9C1688.7 562.8 1693.3 563.8 1698.7 564.7C1702.7 565.4 1710.8 566.1 1718.3 566.8C1725.8 567.5 1736 568.2 1744.8 568.9C1751.8 569.5 1758.8 570 1765.8 570.6C1774.8 571.3 1785.2 572.1 1792.8 572.8C1802.1 573.7 1812.4 574.6 1816.6 575.5C1821.6 576.6 1826.6 577.6 1826.6 578.7C1826.6 579.6 1821.2 580.6 1816.6 581.5C1811.5 582.5 1802.5 583.6 1791.6 584.6C1785.2 585.2 1774.1 585.8 1765.8 586.4C1756.1 587.1 1746.6 587.8 1737.8 588.5C1728.9 589.2 1719.4 589.9 1712.7 590.6C1706 591.3 1700.4 592 1695.9 592.7C1691.4 593.4 1686.7 594.1 1684.7 594.8C1682.7 595.5 1680.6 596.2 1680.6 596.9C1680.6 598.3 1681.2 599.6 1682 601C1682.8 602.4 1688.7 603.8 1691.7 605.2C1694.7 606.6 1698.3 608 1700.1 609.4C1701 610.1 1702.2 610.8 1702.2 611.5C1702.2 612.7 1700.3 613.8 1698.7 615C1696.7 616.4 1691.9 617.8 1688.9 619.2C1685.9 620.6 1682.4 622 1680.6 623.4C1679 624.6 1677.1 625.7 1677.1 626.9C1676.8 631.3 1676.8 635.6 1676.8 640C1676.8 664.3 1676.8 688.7 1676.8 713C1676.8 714.3 1677 715.6 1677.2 716.9C1677.7 720.6 1678.1 724.4 1680 728.1C1680.9 730 1687.7 731.9 1694 733.8C1698.6 735.2 1707.7 736.6 1713.8 738C1719.8 739.4 1727.4 740.8 1730.6 742.2C1733.7 743.6 1737.1 745 1737.1 746.4C1737.1 747.4 1736 748.3 1734.9 749.3C1733 750.9 1727 752.4 1719.4 754L1676.6 754Z" fill="#dc0000" stroke="rgba(255,255,255,0.92)" stroke-width="1.9" stroke-linejoin="round"/>
<circle cx="1676.6" cy="576.6" r="6.2" fill="#fff"/>
<path d="M1665 524.6H1723M1665 576.6H1723M1665 576.6H1723M1665 609.3H1723M1665 747.3H1723" stroke="#ed8080" stroke-width="4.4" fill="none" opacity="0.92"/>
<g class="q" fill="#ed8080" stroke="#ed8080"><text x="1651.5" y="531.2">2.03</text><text x="1651.5" y="583.2">1.57</text><text x="1651.5" y="583.2">1.57</text><text x="1651.5" y="615.9">1.28</text><text x="1651.5" y="753.9">0.06</text></g>
<path d="M1792.8 564.4L1926.8 564.4C1926.4 565.1 1924.7 565.8 1922.8 566.5C1920.3 567.4 1914.9 568.3 1908.8 569.2C1904.6 569.8 1897.4 570.4 1891.6 571C1884.7 571.7 1876.5 572.4 1870.6 573.1C1864.7 573.8 1857.4 574.5 1855.3 575.2C1853.9 575.7 1852.5 576.1 1852.5 576.6C1852.5 577.3 1859.3 578 1863.6 578.7C1869.3 579.6 1879 580.6 1884.6 581.5C1890.2 582.4 1895.2 583.4 1898.6 584.3C1900.3 584.8 1902.8 585.2 1902.8 585.7C1902.8 586.4 1895.7 587.1 1891.6 587.8C1887.4 588.5 1881.6 589.2 1877.6 589.9C1872.2 590.8 1866.2 591.8 1863.6 592.7C1860.9 593.6 1858.1 594.6 1858.1 595.5C1858.1 596.2 1861.6 596.9 1862.3 597.6C1862.7 598.1 1863.2 598.5 1863.2 599C1863.2 599.7 1860.3 600.3 1858.1 601C1854.9 601.9 1847.6 602.9 1842.7 603.8C1837.8 604.7 1831.8 605.7 1828.7 606.6C1825.6 607.5 1822.6 608.5 1821.7 609.4C1820.9 610.1 1820.3 610.8 1820.3 611.5C1820.3 612 1826 612.4 1828.7 612.9C1832.6 613.6 1837.5 614.3 1839.9 615C1843 615.9 1846.6 616.9 1846.6 617.8C1846.6 618.5 1845.3 619.2 1844.1 619.9C1842.4 620.8 1836.6 621.8 1832.9 622.7C1828.2 623.9 1822.6 625 1818.9 626.2C1814.4 627.6 1810.6 629 1807.8 630.4C1804.9 631.8 1802.4 633.2 1800.8 634.6C1798.6 636.5 1796.9 638.3 1795.9 640.2C1794.8 642.1 1793.7 643.9 1793.5 645.8C1793.2 647.9 1793 649.9 1793 652C1792.9 676.4 1792.9 700.9 1792.9 725.3C1792.9 725.8 1793.1 726.3 1793.4 726.7C1794.2 728.1 1799.5 729.6 1803.8 731C1808.1 732.4 1816 733.8 1820.7 735.2C1825.4 736.6 1832.8 738 1832.8 739.4C1832.8 740.3 1830.9 741.3 1829.1 742.2C1826.4 743.6 1817.1 745 1812.2 746.4C1807.4 747.8 1802.9 749.3 1799.6 750.7C1796.9 751.8 1794.5 752.9 1792.8 754L1792.8 754Z" fill="#0600ef" stroke="rgba(255,255,255,0.92)" stroke-width="1.9" stroke-linejoin="round"/>
<circle cx="1792.8" cy="586.7" r="6.2" fill="#fff"/>
<path d="M1781.1 564.1H1839.2M1781.1 565.3H1839.2M1781.1 586.7H1839.2M1781.1 612.7H1839.2M1781.1 739.4H1839.2" stroke="#8380f7" stroke-width="4.4" fill="none" opacity="0.92"/>
<g class="q" fill="#8380f7" stroke="#8380f7"><text x="1767.7" y="570.7">1.68</text><text x="1767.7" y="571.9">1.67</text><text x="1767.7" y="593.3">1.48</text><text x="1767.7" y="619.3">1.25</text><text x="1767.7" y="746">0.13</text></g>
<path d="M1909 470.9L1909 470.9C1909 475.6 1909.1 480.3 1909.6 484.9C1909.8 486.4 1913.2 487.8 1915 489.2C1917.3 491 1919.7 492.9 1922 494.8C1923.7 496.2 1926.6 497.6 1927.1 499C1927.4 500 1927.6 500.9 1927.6 501.8C1927.6 503.2 1925 504.6 1923.4 506.1C1921.3 507.9 1917.1 509.8 1916.4 511.7C1915.6 513.6 1915 515.4 1915 517.3C1915 519.2 1920.4 521.1 1923.4 522.9C1926.4 524.8 1931.2 526.7 1933.2 528.6C1934.8 530 1936.6 531.4 1936.6 532.8C1936.6 534.2 1934.6 535.6 1933.2 537C1931.4 538.9 1927.6 540.8 1926.2 542.6C1924.9 544.5 1923.4 546.4 1923.4 548.3C1923.4 549.7 1927.3 551.1 1930.4 552.5C1933.6 553.9 1940.3 555.3 1944.5 556.7C1948.1 557.9 1954.4 559.2 1954.4 560.4C1954.4 561.5 1950.2 562.6 1947.3 563.7C1943.7 565.2 1935.9 566.6 1933.2 568C1929.8 569.8 1926.2 571.7 1926.2 573.6C1926.2 575 1928.3 576.4 1930.4 577.8C1932.6 579.2 1940.1 580.6 1944.5 582C1949 583.4 1955.5 584.9 1957.2 586.3C1958.6 587.5 1960 588.7 1960 589.9C1960 591 1957.7 592.2 1955.8 593.3C1952.6 595.2 1943 597.1 1938.9 598.9C1934.7 600.8 1929 602.7 1929 604.6C1929 606 1930.4 607.4 1931.8 608.8C1933.7 610.7 1941.5 612.5 1944.5 614.4C1947.5 616.3 1951.5 618.2 1951.5 620C1951.5 621.4 1950.9 622.9 1950.1 624.3C1949.1 626.1 1942.1 628 1938.9 629.9C1935.7 631.8 1931.1 633.6 1930.4 635.5C1929.6 637.9 1929 640.2 1929 642.6C1929 644 1931.3 645.4 1931.8 646.8C1932.2 647.7 1932.7 648.7 1932.7 649.6C1932.7 651 1930.3 652.4 1929 653.8C1926.9 656.2 1923.6 658.5 1922 660.8C1920.1 663.7 1918.9 666.5 1917.8 669.3C1916.6 672.1 1915.7 674.9 1915 677.7C1913.8 682.4 1912.9 687.1 1912.1 691.8C1911.4 696.5 1910.6 701.2 1910.2 705.9C1909.8 709.6 1909.4 713.4 1909.3 717.1C1909.2 720.8 1909.2 724.5 1909.2 728.1C1909.2 763.8 1909.2 799.4 1909.2 835.1C1909.2 836 1909.4 837 1909.6 837.9C1910.1 839.8 1912.6 841.7 1915 843.5C1917.3 845.4 1921.3 847.3 1924.8 849.2C1927.4 850.6 1931.2 852 1933.2 853.4C1935 854.6 1936.5 855.8 1937.5 857L1909 857Z" fill="#005aff" stroke="rgba(255,255,255,0.92)" stroke-width="1.9" stroke-linejoin="round"/>
<circle cx="1909" cy="590.1" r="6.2" fill="#fff"/>
<path d="M1897.3 500.8H1955.4M1897.3 560.7H1955.4M1897.3 590.1H1955.4M1897.3 650H1955.4M1897.3 858.1H1955.4" stroke="#80acff" stroke-width="4.4" fill="none" opacity="0.92"/>
<g class="q" fill="#80acff" stroke="#80acff"><text x="1883.9" y="507.4">2.24</text><text x="1883.9" y="567.3">1.71</text><text x="1883.9" y="596.7">1.45</text><text x="1883.9" y="656.6">0.92</text><text x="1883.9" y="864.7">-0.92</text></g>
<path d="M2025.1 376.6L2025.1 376.6C2025.1 396.3 2025.2 416 2025.6 435.7C2025.6 439.4 2027 443.2 2027 446.9C2027 450.7 2026.6 454.5 2026.4 458.2C2026.2 462.9 2025.6 467.6 2025.6 472.3C2025.6 474.2 2026.3 476 2027 477.9C2027.7 479.8 2030.4 481.7 2031.8 483.5C2033.4 485.9 2035.5 488.2 2036 490.6C2036.3 492 2036.6 493.4 2036.6 494.8C2036.6 496.7 2034.7 498.5 2033.7 500.4C2032.6 502.8 2030.7 505.1 2030.4 507.5C2030 509.8 2029.8 512.1 2029.8 514.5C2029.8 517.3 2032.4 520.1 2034.6 522.9C2036.7 525.8 2041.1 528.6 2044.4 531.4C2047.2 533.7 2051.4 536.1 2052.9 538.4C2053.8 539.8 2054.8 541.2 2054.8 542.6C2054.8 544 2053.4 545.5 2052.3 546.9C2050.4 549.2 2045.4 551.6 2043 553.9C2040.7 556.2 2038 558.6 2037.4 560.9C2036.9 562.8 2036.6 564.7 2036.6 566.6C2036.6 568 2038.4 569.4 2040.2 570.8C2042.4 572.5 2048.3 574.2 2052.9 575.9C2057.2 577.4 2063.2 579 2066.9 580.6C2070.3 582 2074 583.4 2075.4 584.9C2076.5 586 2077.6 587.1 2077.6 588.2C2077.6 589.5 2075.5 590.7 2074 591.9C2072.5 593.1 2069.7 594.3 2068.4 595.6C2067.1 596.7 2066.8 597.8 2065.5 598.9C2063.9 600.3 2059.9 601.7 2057.1 603.2C2054.3 604.6 2049.7 606 2048.7 607.4C2047.9 608.3 2047.2 609.2 2047.2 610.2C2047.2 611.3 2049.6 612.4 2051.5 613.6C2053.5 614.8 2058.3 616 2061.3 617.2C2064.8 618.6 2069.3 620 2071.2 621.4C2072.4 622.4 2074 623.3 2074 624.3C2074 625.7 2073.4 627.1 2072.6 628.5C2071.8 629.9 2067.2 631.3 2064.1 632.7C2060 634.6 2053.9 636.5 2050.1 638.3C2046.2 640.2 2041.7 642.1 2040.2 644C2038.8 645.8 2037.4 647.7 2037.4 649.6C2037.4 651.5 2039.3 653.3 2039.6 655.2C2039.9 656.6 2040.2 658 2040.2 659.4C2040.2 661.3 2037.4 663.2 2036 665.1C2034.2 667.4 2031.5 669.8 2030.4 672.1C2029 674.9 2028.2 677.7 2027.5 680.5C2026.9 683.4 2026.4 686.2 2026.1 689C2025.7 694.6 2025.3 700.2 2025.3 705.9C2025.3 713.3 2025.3 720.7 2025.3 728.1C2025.3 742.2 2025.3 756.3 2025.3 770.4C2025.3 770.8 2025.5 771.3 2025.6 771.8C2026.2 774.1 2027.5 776.5 2029 778.8C2030.7 781.6 2033.4 784.4 2036 787.2C2038.1 789.6 2040.9 791.9 2043 794.3C2044.3 795.7 2046.7 797.1 2046.7 798.5C2046.7 799.9 2045.5 801.3 2044.4 802.7C2043.1 804.6 2039.3 806.5 2037.4 808.4C2035.5 810.2 2033.6 812.1 2032.6 814C2031.9 815.4 2031.3 816.8 2030.9 818.2C2030.4 820.6 2029.8 822.9 2029.8 825.2L2025.1 825.2Z" fill="#900000" stroke="rgba(255,255,255,0.92)" stroke-width="1.9" stroke-linejoin="round"/>
<circle cx="2025.1" cy="601.4" r="6.2" fill="#fff"/>
<path d="M2013.5 495.2H2071.6M2013.5 577.7H2071.6M2013.5 601.4H2071.6M2013.5 636.5H2071.6M2013.5 801.5H2071.6" stroke="#c88080" stroke-width="4.4" fill="none" opacity="0.92"/>
<g class="q" fill="#c88080" stroke="#c88080"><text x="2000.1" y="501.8">2.29</text><text x="2000.1" y="584.3">1.56</text><text x="2000.1" y="608">1.35</text><text x="2000.1" y="643.1">1.04</text><text x="2000.1" y="808.1">-0.42</text></g>
<path d="M2141.3 234L2141.3 234C2141.3 269.3 2141.5 304.7 2141.8 340C2141.9 349.4 2142.6 358.8 2142.9 368.1C2143.3 377.5 2143.7 386.9 2144.1 396.3C2144.4 405.7 2144.7 415.1 2145.2 424.4C2145.7 433.8 2146.3 443.2 2147.2 452.6C2147.6 457.3 2148.4 462 2149.1 466.6C2149.9 471.3 2151.1 476 2151.9 480.7C2152.8 485.4 2153.6 490.1 2154.2 494.8C2154.8 499.5 2155.1 504.2 2155.6 508.9C2156.2 513.6 2156.8 518.2 2157.6 522.9C2158.3 527.6 2159.5 532.3 2160.4 537C2161.1 540.8 2162 544.5 2162.6 548.3C2163.1 551.1 2163.8 553.9 2163.8 556.7C2163.8 559.5 2163.5 562.3 2163.2 565.2C2162.9 568 2160.7 570.8 2160.4 573.6C2160.1 576.4 2159.8 579.2 2159.8 582C2159.8 584.9 2161.3 587.7 2162.6 590.5C2164 593.3 2167.6 596.1 2169.7 598.9C2171 600.8 2172.9 602.7 2173.3 604.6C2173.6 606 2173.9 607.4 2173.9 608.8C2173.9 610.2 2173.2 611.6 2172.5 613C2171.6 614.9 2168.1 616.8 2166.9 618.6C2165.6 620.5 2164 622.4 2164 624.3C2164 626.1 2165 628 2165.5 629.9C2166.1 632.2 2167.4 634.6 2167.4 636.9C2167.4 638.8 2167.2 640.7 2166.9 642.6C2166.5 644.9 2164.5 647.2 2163.2 649.6C2161.7 652.4 2159.6 655.2 2158.4 658C2157.2 660.8 2156.1 663.7 2155.6 666.5C2154.9 670.2 2154.8 674 2154.2 677.7C2153.6 681.5 2152.4 685.2 2151.4 689C2150.4 692.7 2148.9 696.5 2148 700.2C2147.1 704 2146.6 707.8 2145.8 711.5C2144.9 715.2 2143.1 718.8 2142.9 722.5C2142.5 733.8 2142.4 745 2142.4 756.3C2142.4 765.7 2142.4 775.1 2142.4 784.4C2142.4 793.8 2142.9 803.2 2143.5 812.6C2143.8 817.3 2144.4 822 2145.2 826.6C2145.8 830.4 2147 834.2 2148.6 837.9C2149.8 840.7 2152.4 843.5 2154.2 846.4C2155.7 848.7 2157 851 2158.4 853.4C2159.6 855.3 2161.2 857.1 2162.1 859C2162.9 860.7 2163.6 862.4 2164 864.1L2141.3 864.1Z" fill="#ffffff" stroke="rgba(255,255,255,0.92)" stroke-width="1.9" stroke-linejoin="round"/>
<circle cx="2141.3" cy="606" r="6.2" fill="#fff"/>
<path d="M2129.7 457.9H2187.8M2129.7 550.6H2187.8M2129.7 606H2187.8M2129.7 679.4H2187.8M2129.7 864.8H2187.8" stroke="#ffffff" stroke-width="4.4" fill="none" opacity="1"/>
<g class="q" fill="#ffffff" stroke="#ffffff"><text x="2116.3" y="464.5">2.62</text><text x="2116.3" y="557.2">1.80</text><text x="2116.3" y="612.6">1.31</text><text x="2116.3" y="686">0.66</text><text x="2116.3" y="871.4">-0.98</text></g>
<path d="M2257.5 413.7L2257.5 413.7C2257.5 436 2257.7 458.4 2258.3 480.7C2258.5 485.4 2259.9 490.1 2260.6 494.8C2261.3 499.5 2261.7 504.2 2262.6 508.9C2263.2 512.6 2264.1 516.4 2265.4 520.1C2266.3 522.9 2268 525.8 2269.6 528.6C2270.6 530.4 2272.2 532.3 2273 534.2C2273.7 536.1 2274.7 537.9 2274.7 539.8C2274.7 541.7 2273 543.6 2272.4 545.5C2271.8 547.3 2271 549.2 2271 551.1C2271 553 2273.3 554.8 2275.2 556.7C2277.1 558.6 2280.8 560.5 2283.7 562.3C2286.5 564.2 2289.7 566.1 2292.1 568C2294.3 569.7 2297 571.3 2297.7 573C2298.5 574.6 2299.1 576.2 2299.1 577.8C2299.1 579.2 2297.6 580.6 2296.3 582C2294.6 583.9 2289.8 585.8 2287.9 587.7C2286 589.5 2283.7 591.4 2283.7 593.3C2283.7 595.2 2285.8 597.1 2287.9 598.9C2289.5 600.3 2293.7 601.7 2296.3 603.2C2298.6 604.4 2302.8 605.6 2302.8 606.8C2302.8 607.7 2302.4 608.7 2302 609.6C2301.2 611.2 2298.3 612.8 2296.3 614.4C2294.1 616.3 2290.6 618.2 2289.3 620C2287.9 621.9 2286.5 623.8 2286.5 625.7C2286.5 627.5 2286.8 629.4 2287 631.3C2287.3 633.2 2287.9 635 2287.9 636.9C2287.9 638.8 2285.4 640.7 2283.7 642.6C2281.5 644.9 2277.4 647.2 2275.2 649.6C2273.5 651.5 2271.4 653.3 2271 655.2C2270.7 656.6 2270.4 658 2270.4 659.4C2270.4 660.8 2272.7 662.3 2273.8 663.7C2275.3 665.5 2277.1 667.4 2278 669.3C2278.9 671.2 2280 673 2280 674.9C2280 676.3 2279.7 677.7 2279.4 679.1C2279 681 2276.8 682.9 2275.2 684.8C2273.2 687.1 2270.1 689.5 2268.2 691.8C2265.9 694.6 2263.8 697.4 2262.6 700.2C2260.9 704 2258.9 707.8 2258.9 711.5C2258.9 712.4 2258.9 713.2 2258.9 714.1C2258.9 718.8 2258.3 723.5 2258.3 728.1C2258.3 737.5 2259 746.9 2259.7 756.3C2260.1 761 2260.9 765.7 2261.7 770.4C2262.3 774.1 2262.9 777.9 2264 781.6C2264.7 784.4 2266.2 787.2 2267.3 790.1C2268.3 792.4 2269.5 794.8 2270.2 797.1C2270.5 798.3 2271 799.5 2271 800.8C2271 802.4 2269.8 803.9 2269 805.5C2267.8 807.9 2265.4 810.2 2264 812.6C2262.3 815.4 2260.7 818.2 2259.7 821C2258.8 823.6 2258 826.3 2257.5 828.9L2257.5 828.9Z" fill="#f596c8" stroke="rgba(255,255,255,0.92)" stroke-width="1.9" stroke-linejoin="round"/>
<circle cx="2257.5" cy="607.1" r="6.2" fill="#fff"/>
<path d="M2245.9 533.6H2304M2245.9 580H2304M2245.9 607.1H2304M2245.9 643.3H2304M2245.9 800.4H2304" stroke="#facbe4" stroke-width="4.4" fill="none" opacity="0.92"/>
<g class="q" fill="#facbe4" stroke="#facbe4"><text x="2232.5" y="540.2">1.95</text><text x="2232.5" y="586.6">1.54</text><text x="2232.5" y="613.7">1.30</text><text x="2232.5" y="649.9">0.98</text><text x="2232.5" y="807">-0.41</text></g>
<path d="M2373.7 443.6L2373.7 443.6C2373.7 465.4 2373.7 487.1 2373.9 508.9C2373.9 509.8 2374.1 510.7 2374.3 511.7C2374.9 514.5 2377.8 517.3 2379.4 520.1C2380.9 522.9 2382 525.8 2383.6 528.6C2385.2 531.4 2387.3 534.2 2389.2 537C2391.1 539.8 2394.1 542.6 2394.8 545.5C2395.6 548.3 2396.2 551.1 2396.2 553.9C2396.2 556.2 2395.7 558.6 2395.7 560.9C2395.7 562.3 2399 563.7 2401.9 565.2C2404.7 566.6 2410.5 568 2415.9 569.4C2421.4 570.8 2429.5 572.2 2435.6 573.6C2440.6 574.7 2446 575.9 2449.7 577C2452.8 577.9 2457.6 578.9 2457.6 579.8C2457.6 580.5 2456.5 581.3 2455.3 582C2453.2 583.4 2443 584.9 2435.6 586.3C2428.3 587.7 2414.5 589.1 2410.3 590.5C2406.1 591.9 2401.9 593.3 2401.9 594.7C2401.9 595.6 2404.8 596.6 2407.5 597.5C2411 598.7 2419.9 600 2427.2 601.2C2433.9 602.3 2442.7 603.4 2449.7 604.6C2456.7 605.7 2464.1 606.8 2469.4 607.9C2473.8 608.9 2480.7 609.8 2480.7 610.7C2480.7 611.5 2480 612.3 2479.3 613C2477.8 614.4 2469.1 615.8 2461 617.2C2452.8 618.6 2435.6 620 2424.4 621.4C2413.2 622.9 2399.9 624.3 2393.4 625.7C2387 627.1 2380.8 628.5 2379.4 629.9C2377.4 631.8 2376.5 633.6 2376 635.5C2375.2 638.3 2374.9 641.1 2374.6 644C2374.3 646.8 2373.9 649.6 2373.9 652.4C2373.9 678.1 2373.9 703.8 2373.9 729.6C2373.9 730.5 2374 731.4 2374.3 732.4C2374.6 733.8 2377.5 735.2 2379.4 736.6C2381.8 738.5 2384.6 740.3 2387.8 742.2C2390.2 743.6 2393.6 745 2396.2 746.4C2398 747.4 2400.1 748.3 2401.3 749.3C2402.8 750.4 2404 751.5 2404.7 752.6L2373.7 752.6Z" fill="#0600ef" stroke="rgba(255,255,255,0.92)" stroke-width="1.9" stroke-linejoin="round"/>
<circle cx="2373.7" cy="611.6" r="6.2" fill="#fff"/>
<path d="M2362.1 549.4H2420.2M2362.1 580H2420.2M2362.1 611.6H2420.2M2362.1 611.6H2420.2M2362.1 754H2420.2" stroke="#8380f7" stroke-width="4.4" fill="none" opacity="0.92"/>
<g class="q" fill="#8380f7" stroke="#8380f7"><text x="2348.7" y="556">1.81</text><text x="2348.7" y="586.6">1.54</text><text x="2348.7" y="618.2">1.26</text><text x="2348.7" y="618.2">1.26</text><text x="2348.7" y="760.6">0.00</text></g>
<path d="M2489.9 516.7L2489.9 516.7C2489.9 531.9 2490 547.1 2490.5 562.3C2490.6 564.2 2494.1 566.1 2494.8 568C2495.5 569.9 2495.6 571.7 2496.2 573.6C2496.8 575.5 2497.6 577.3 2499 579.2C2500.4 581.1 2503.6 583 2507.4 584.9C2510.2 586.3 2515.7 587.7 2520.1 589.1C2524.6 590.5 2530 591.9 2534.2 593.3C2538.4 594.7 2542.9 596.1 2545.4 597.5C2547.9 598.9 2551.1 600.3 2551.1 601.7C2551.1 602.7 2549.7 603.6 2549.7 604.6C2549.7 605.3 2553.8 606.1 2557.9 606.8C2561.6 607.5 2572 608.1 2579.9 608.8C2587.8 609.5 2599.9 610.1 2605.9 610.8C2614.4 611.7 2622.6 612.7 2624.9 613.6C2627.7 614.7 2629.9 615.9 2629.9 617C2629.9 618.1 2625 619.2 2619.9 620.3C2616.4 621.1 2609 621.8 2599.9 622.6C2593.2 623.2 2572.8 623.7 2569.9 624.3C2567 624.9 2564.9 625.4 2564.9 626C2564.9 626.7 2569.9 627.5 2574.9 628.2C2580.1 629 2599.3 629.7 2605.9 630.5C2612.2 631.2 2617 632 2619.9 632.7C2622.1 633.3 2624.9 633.8 2624.9 634.4C2624.9 635.2 2619.7 635.9 2614.9 636.7C2610.3 637.4 2605.7 638.2 2589.9 638.9C2584.2 639.2 2544.2 639.4 2539.9 639.7C2524.2 640.7 2522.3 641.6 2517.3 642.6C2510.1 644 2504 645.4 2501.8 646.8C2499.6 648.2 2499.3 649.6 2497.6 651C2496.5 651.9 2494.5 652.9 2493.4 653.8C2492.3 654.7 2491 655.7 2490.8 656.6C2490.3 659.4 2490.1 662.2 2490.1 665C2490.1 683.3 2490.1 701.7 2490.1 720C2490.1 720.9 2490.3 721.9 2490.5 722.8C2491 725.1 2492.9 727.5 2494.8 729.8C2496.7 732.1 2500.1 734.5 2503.2 736.8C2505.1 738.2 2508.3 739.7 2509.4 741.1C2510.1 741.9 2510.8 742.8 2510.8 743.6C2510.8 744.5 2508.9 745.5 2507.4 746.4C2505.1 747.8 2499.3 749.3 2496.2 750.7C2493.8 751.8 2491.7 752.9 2489.9 754L2489.9 754Z" fill="#00d2be" stroke="rgba(255,255,255,0.92)" stroke-width="1.9" stroke-linejoin="round"/>
<circle cx="2489.9" cy="617.3" r="6.2" fill="#fff"/>
<path d="M2478.3 592.4H2536.4M2478.3 616.1H2536.4M2478.3 618.4H2536.4M2478.3 634.2H2536.4M2478.3 731.4H2536.4" stroke="#80e8de" stroke-width="4.4" fill="none" opacity="0.92"/>
<g class="q" fill="#80e8de" stroke="#80e8de"><text x="2464.9" y="599">1.43</text><text x="2464.9" y="622.7">1.22</text><text x="2464.9" y="625">1.20</text><text x="2464.9" y="640.8">1.06</text><text x="2464.9" y="738">0.20</text></g>
<path d="M2606.1 528L2606.1 528C2606.1 539.4 2606.2 550.9 2606.7 562.3C2606.8 564.2 2609 566.1 2609 568C2609 569.9 2609 571.7 2609 573.6C2609 575.5 2607.6 577.3 2607.6 579.2C2607.6 580.6 2608.9 582.1 2610.4 583.5C2611.9 584.9 2617.4 586.3 2621.6 587.7C2625.8 589.1 2633.3 590.5 2635.7 591.9C2637.3 592.8 2639.1 593.8 2639.1 594.7C2639.1 595.6 2635.4 596.6 2632.9 597.5C2629.2 598.9 2620.3 600.3 2618.8 601.7C2617.2 603.1 2616 604.6 2616 606C2616 606.9 2622.3 607.9 2627.3 608.8C2632.3 609.7 2641.1 610.7 2649.8 611.6C2658.5 612.5 2668.1 613.5 2680.7 614.4C2689.7 615.1 2704.8 615.7 2714.1 616.4C2720.6 616.9 2731.1 617.3 2731.1 617.8C2731.1 618.4 2719.4 618.9 2714.1 619.5C2708.2 620.1 2703.1 620.8 2697.6 621.4C2689.2 622.4 2679.4 623.3 2672.3 624.3C2666.9 625 2658.1 625.8 2658.1 626.5C2658.1 627.2 2662.7 627.8 2666.7 628.5C2672.3 629.4 2687.5 630.4 2697.6 631.3C2705.9 632.1 2717.3 632.8 2722.1 633.6C2728.9 634.7 2736.1 635.8 2736.1 636.9C2736.1 637.9 2728.5 639 2722.1 640C2716.7 640.9 2704.8 641.7 2697.6 642.6C2685.9 644 2674.6 645.4 2666.7 646.8C2656.1 648.7 2648.7 650.5 2641.3 652.4C2633.9 654.3 2625.7 656.1 2621.6 658C2618.5 659.4 2614.6 660.9 2614.6 662.3C2614.6 663.2 2616.9 664.2 2618.8 665.1C2620.7 666 2625.7 667 2627.3 667.9C2628.9 668.8 2630.6 669.8 2630.6 670.7C2630.6 671.6 2628.8 672.6 2627.3 673.5C2625.1 674.9 2618.8 676.3 2616 677.7C2613.1 679.1 2610.5 680.6 2609 682C2608 682.9 2606.8 683.9 2606.7 684.8C2606.4 688.2 2606.3 691.6 2606.3 695C2606.3 707.3 2606.3 719.7 2606.3 732C2606.3 733.1 2606.4 734.1 2606.6 735.2C2606.8 736.6 2610.6 738 2613 739.4C2615.4 740.8 2618.3 742.2 2621.5 743.6C2624.3 744.8 2628.6 746.1 2631.3 747.3C2632.9 748 2635.5 748.8 2635.5 749.5C2635.5 750.4 2633.1 751.2 2631.3 752.1C2628.4 753.5 2621.6 754.9 2618.7 756.3C2614.9 758.2 2611.4 760 2610.2 761.9C2608.7 764.3 2607.9 766.6 2607.4 769C2606.7 772.1 2606.1 775.1 2606.1 778.2L2606.1 778.2Z" fill="#00d2be" stroke="rgba(255,255,255,0.92)" stroke-width="1.9" stroke-linejoin="round"/>
<circle cx="2606.1" cy="636.5" r="6.2" fill="#fff"/>
<path d="M2594.5 593.5H2652.6M2594.5 617.3H2652.6M2594.5 636.5H2652.6M2594.5 636.5H2652.6M2594.5 749.5H2652.6" stroke="#80e8de" stroke-width="4.4" fill="none" opacity="0.92"/>
<g class="q" fill="#80e8de" stroke="#80e8de"><text x="2581.1" y="600.1">1.42</text><text x="2581.1" y="623.9">1.21</text><text x="2581.1" y="643.1">1.04</text><text x="2581.1" y="643.1">1.04</text><text x="2581.1" y="756.1">0.04</text></g>
<path d="M2722.3 456.8L2722.3 456.8C2722.3 469.5 2722.5 482.1 2722.9 494.8C2723.1 499.5 2723.7 504.2 2724.3 508.9C2724.8 512.6 2725.4 516.4 2726.3 520.1C2727 522.9 2728.9 525.8 2730 528.6C2731 531.4 2732.4 534.2 2732.8 537C2733.2 539.8 2733.6 542.6 2733.6 545.5C2733.6 548.3 2732.8 551.1 2732.8 553.9C2732.8 556.7 2734.9 559.5 2737 562.3C2738.4 564.2 2741.6 566.1 2744 568C2745.9 569.4 2748.7 570.8 2749.7 572.2C2750.3 573.1 2751.1 574.1 2751.1 575C2751.1 576.4 2749.3 577.8 2748.3 579.2C2746.9 581.1 2744.5 583 2744 584.9C2743.6 586.7 2743.2 588.6 2743.2 590.5C2743.2 592.4 2745.3 594.2 2746.9 596.1C2748.5 598 2751.9 599.9 2753.9 601.7C2755.9 603.6 2758.5 605.5 2759 607.4C2759.3 608.8 2759.5 610.2 2759.5 611.6C2759.5 613 2757.8 614.4 2756.7 615.8C2755.3 617.7 2751.6 619.6 2751.6 621.4C2751.6 622.9 2752 624.3 2752.5 625.7C2753.1 627.5 2755.6 629.4 2758.1 631.3C2760 632.7 2764.9 634.1 2766.6 635.5C2767.4 636.3 2768.5 637 2768.5 637.8C2768.5 638.7 2766.6 639.6 2765.2 640.6C2762.7 642.2 2757.1 643.8 2753.9 645.4C2750.1 647.2 2746 649.1 2744 651C2742.1 652.9 2739.8 654.7 2739.8 656.6C2739.8 658 2741.3 659.4 2742.6 660.8C2744.5 662.7 2749.6 664.6 2753.9 666.5C2757.1 667.9 2763.2 669.3 2765.2 670.7C2766.5 671.6 2768 672.6 2768 673.5C2768 674.4 2767.2 675.4 2766.6 676.3C2765.2 678.2 2759.9 680.1 2756.7 682C2752.8 684.3 2748.7 686.6 2745.5 689C2742.2 691.3 2739.3 693.7 2737 696C2734.8 698.4 2732.8 700.7 2731.4 703.1C2729.6 705.9 2728.3 708.7 2727.2 711.5C2726 714.3 2725 717.1 2724.3 719.9C2723.7 722.8 2722.9 725.6 2722.9 728.4C2722.9 732.1 2723.6 735.7 2724.3 739.4C2724.9 742.2 2727 745 2728.6 747.8C2730.2 750.7 2732.4 753.5 2734.2 756.3C2735.7 758.6 2737.1 761 2738.4 763.3C2739.4 765.2 2741.2 767.1 2741.2 769C2741.2 770.4 2741 771.8 2740.7 773.2C2740.3 775.1 2738.1 776.9 2737 778.8C2735.4 781.6 2733.7 784.4 2732.8 787.2C2731.9 790.1 2731.6 792.9 2730.8 795.7C2730 798.5 2728.9 801.3 2728 804.1C2727.1 806.9 2726 809.8 2725.2 812.6C2724.4 815.4 2723.4 818.2 2722.9 821C2722.6 822.9 2722.4 824.8 2722.3 826.6L2722.3 826.6Z" fill="#f596c8" stroke="rgba(255,255,255,0.92)" stroke-width="1.9" stroke-linejoin="round"/>
<circle cx="2722.3" cy="637.6" r="6.2" fill="#fff"/>
<path d="M2710.7 539.3H2768.8M2710.7 601.4H2768.8M2710.7 637.6H2768.8M2710.7 673.8H2768.8M2710.7 772.1H2768.8" stroke="#facbe4" stroke-width="4.4" fill="none" opacity="0.92"/>
<g class="q" fill="#facbe4" stroke="#facbe4"><text x="2697.3" y="545.9">1.90</text><text x="2697.3" y="608">1.35</text><text x="2697.3" y="644.2">1.03</text><text x="2697.3" y="680.4">0.71</text><text x="2697.3" y="778.7">-0.16</text></g>
<path d="M2838.5 515.9L2838.5 515.9C2838.5 528.6 2838.7 541.2 2839.2 553.9C2839.3 557.7 2841.1 561.4 2842.6 565.2C2844 568.9 2846 572.7 2848.2 576.4C2849.8 579.2 2852.2 582 2853.8 584.9C2855.4 587.7 2855.8 590.5 2858 593.3C2859.5 595.2 2864.4 597.1 2867.9 598.9C2870.5 600.3 2875.2 601.7 2876.3 603.2C2877 604.1 2877.7 605 2877.7 606C2877.7 606.9 2876.3 607.8 2876.3 608.8C2876.3 609.7 2879.1 610.7 2880.5 611.6C2882.8 613 2884.8 614.4 2887.6 615.8C2890.3 617.2 2895.5 618.6 2897.4 620C2899.4 621.4 2901.7 622.9 2901.7 624.3C2901.7 625.2 2899.9 626.1 2898.8 627.1C2897.2 628.5 2893.2 629.9 2893.2 631.3C2893.2 632.7 2893.6 634.1 2894.1 635.5C2894.6 636.9 2898.7 638.3 2900.2 639.7C2901.6 641 2903.6 642.2 2903.6 643.4C2903.6 644.5 2902.6 645.6 2901.7 646.8C2900.1 648.7 2894.8 650.5 2891.8 652.4C2888.8 654.3 2885.9 656.2 2883.4 658C2880.8 659.9 2878.9 661.8 2876.3 663.7C2873.8 665.5 2870.4 667.4 2867.9 669.3C2865.3 671.2 2863.4 673 2860.8 674.9C2858.3 676.8 2854.7 678.7 2852.4 680.5C2850.2 682.4 2848.1 684.3 2846.8 686.2C2844.9 689 2843.7 691.8 2842.6 694.6C2841.4 697.4 2840.2 700.2 2839.7 703.1C2839.3 705.9 2839 708.7 2838.9 711.5C2838.7 715.3 2838.5 719 2838.5 722.8C2838.5 748.5 2838.5 774.2 2838.5 799.9C2838.5 800.9 2838.7 801.8 2838.9 802.7C2839.3 804.6 2842.9 806.5 2845.4 808.4C2847.8 810.2 2851.2 812.1 2853.8 814C2855.8 815.4 2858.6 816.8 2859.4 818.2C2860.1 819.3 2860.8 820.5 2860.8 821.6C2860.8 822.8 2859.4 824 2858 825.2C2856.4 826.6 2850.5 828.1 2848.2 829.5C2845.1 831.3 2842.1 833.2 2841.1 835.1C2839.7 837.9 2838.5 840.7 2838.5 843.5L2838.5 843.5Z" fill="#006f62" stroke="rgba(255,255,255,0.92)" stroke-width="1.9" stroke-linejoin="round"/>
<circle cx="2838.5" cy="645.5" r="6.2" fill="#fff"/>
<path d="M2826.9 585.6H2885M2826.9 615H2885M2826.9 645.5H2885M2826.9 664.7H2885M2826.9 814H2885" stroke="#80b7b0" stroke-width="4.4" fill="none" opacity="0.92"/>
<g class="q" fill="#80b7b0" stroke="#80b7b0"><text x="2813.4" y="592.2">1.49</text><text x="2813.4" y="621.6">1.23</text><text x="2813.4" y="652.1">0.96</text><text x="2813.4" y="671.3">0.79</text><text x="2813.4" y="820.6">-0.53</text></g>
<path d="M2954.7 501L2959.4 501C2958.9 502.7 2958.5 504.4 2957.9 506.1C2957.4 507.9 2956 509.8 2956 511.7C2956 514.5 2956.2 517.3 2956.5 520.1C2956.8 522.9 2958.2 525.8 2959.4 528.6C2960.5 531.4 2962.3 534.2 2963.6 537C2964.9 539.8 2966.5 542.6 2967.2 545.5C2967.7 547.3 2968.4 549.2 2968.4 551.1C2968.4 553 2967.8 554.8 2967.8 556.7C2967.8 559.5 2968.5 562.3 2969.2 565.2C2969.9 568 2972 570.8 2973.4 573.6C2974.8 576.4 2976.9 579.2 2977.6 582C2978 583.4 2978.5 584.9 2978.5 586.3C2978.5 587.7 2977.2 589.1 2976.2 590.5C2975 592.4 2971.6 594.2 2971.2 596.1C2970.9 597.5 2970.6 598.9 2970.6 600.3C2970.6 601.7 2972.9 603.2 2974.8 604.6C2976.8 606 2981.4 607.4 2984.7 608.8C2988 610.2 2992.1 611.6 2994.5 613C2996.9 614.4 2999.3 615.8 3000.2 617.2C3000.6 617.9 3001 618.5 3001 619.2C3001 619.9 2998.8 620.7 2997.3 621.4C2994.7 622.9 2990.5 624.3 2987.5 625.7C2984.5 627.1 2981.6 628.5 2979.1 629.9C2976.5 631.3 2973.1 632.7 2972 634.1C2971.3 635 2970.6 636 2970.6 636.9C2970.6 637.9 2973 638.8 2974.8 639.7C2977.6 641.1 2983.1 642.6 2987.5 644C2991.9 645.4 2998.1 646.8 3001.6 648.2C3003.9 649.1 3006.7 650.1 3007.2 651C3007.5 651.7 3007.8 652.3 3007.8 653C3007.8 653.7 3005.9 654.5 3004.4 655.2C3001.6 656.6 2994.5 658 2990.3 659.4C2986.1 660.8 2981.9 662.3 2979.1 663.7C2976.2 665.1 2973.7 666.5 2972 667.9C2970.9 668.8 2969.2 669.8 2969.2 670.7C2969.2 671.6 2970.7 672.6 2972 673.5C2973.9 674.9 2978.4 676.3 2981.9 677.7C2985.4 679.1 2990.2 680.5 2993.1 682C2995.6 683.2 2999.3 684.4 2999.3 685.6C2999.3 686.3 2999.1 686.9 2998.8 687.6C2998.1 689 2993.4 690.4 2990.3 691.8C2986.2 693.7 2980.4 695.6 2976.2 697.4C2972.1 699.3 2967.4 701.2 2965 703.1C2963.1 704.5 2960.8 705.9 2960.8 707.3C2960.8 708.7 2962.5 710.1 2963.6 711.5C2965.1 713.4 2968.3 715.3 2969.2 717.1C2969.9 718.5 2970.6 719.9 2970.6 721.4C2970.6 723.2 2969 725.1 2967.8 727C2966.3 729.3 2963.2 731.7 2960.8 734C2959.9 734.9 2958.6 735.7 2957.9 736.6C2956.6 738.5 2955.4 740.3 2955.1 742.2C2954.9 744.1 2954.7 746 2954.7 747.8C2954.7 791.9 2954.7 836 2954.7 880.1C2954.7 881.1 2954.9 882 2955.1 882.9C2955.6 884.8 2958.2 886.7 2960.8 888.6C2963.4 890.4 2968.8 892.3 2973.4 894.2C2976.9 895.6 2981.5 897 2984.7 898.4C2987.4 899.6 2990.4 900.9 2991.7 902.1C2992.6 902.9 2993.4 903.8 2993.7 904.6L2954.7 904.6Z" fill="#005aff" stroke="rgba(255,255,255,0.92)" stroke-width="1.9" stroke-linejoin="round"/>
<circle cx="2954.7" cy="652.3" r="6.2" fill="#fff"/>
<path d="M2943 551.7H3001.1M2943 619.5H3001.1M2943 652.3H3001.1M2943 686.2H3001.1M2943 905.5H3001.1" stroke="#80acff" stroke-width="4.4" fill="none" opacity="0.92"/>
<g class="q" fill="#80acff" stroke="#80acff"><text x="2929.6" y="558.3">1.79</text><text x="2929.6" y="626.1">1.19</text><text x="2929.6" y="658.9">0.90</text><text x="2929.6" y="692.8">0.60</text><text x="2929.6" y="912.1">-1.34</text></g>
<path d="M3070.9 557.3L3070.9 557.3C3071.2 559.9 3071.5 562.5 3071.9 565.2C3072.4 568 3073.3 570.8 3073.3 573.6C3073.3 576.4 3071.4 579.2 3071.4 582C3071.4 583.9 3071.6 585.8 3071.9 587.7C3072.2 589.1 3076.6 590.5 3080.4 591.9C3084.1 593.3 3092.1 594.7 3097.3 596.1C3102.4 597.5 3108.7 598.9 3111.3 600.3C3114 601.7 3117 603.2 3117 604.6C3117 605.5 3113.6 606.4 3111.3 607.4C3107.9 608.8 3101.1 610.2 3097.3 611.6C3093.4 613 3089.3 614.4 3087.4 615.8C3086.1 616.8 3084.6 617.7 3084.6 618.6C3084.6 619.6 3086.8 620.5 3088.8 621.4C3091.3 622.6 3098.6 623.7 3102.9 624.8C3107.5 626 3112.7 627.3 3115.6 628.5C3117.7 629.4 3120.6 630.4 3120.6 631.3C3120.6 632.2 3118.7 633.2 3117 634.1C3114.6 635.3 3107.2 636.5 3102.9 637.8C3098.9 638.9 3093.3 640 3091.6 641.1C3090.2 642.1 3088.8 643 3088.8 644C3088.8 644.9 3091.7 645.8 3094.4 646.8C3097.7 647.9 3107 649 3114.1 650.2C3120.1 651.1 3129.3 652 3133.8 653C3137.5 653.7 3142.3 654.5 3142.3 655.2C3142.3 656 3141.7 656.7 3140.9 657.5C3139.7 658.6 3130.9 659.7 3125.4 660.8C3118.5 662.3 3108.8 663.7 3102.9 665.1C3099 666 3094.1 666.9 3093 667.9C3092.3 668.5 3091.6 669.2 3091.6 669.9C3091.6 670.8 3096.5 671.7 3100.1 672.7C3104.7 673.9 3112.8 675.1 3119.8 676.3C3125.1 677.3 3133.8 678.2 3136.7 679.1C3138.7 679.8 3140.9 680.5 3140.9 681.1C3140.9 681.9 3138.6 682.6 3136.7 683.4C3132.9 684.8 3121.2 686.2 3114.1 687.6C3107.1 689 3098.9 690.4 3094.4 691.8C3091.5 692.7 3087.4 693.7 3087.4 694.6C3087.4 695.4 3088.8 696.1 3088.8 696.9C3088.8 697.9 3073.3 699 3073.3 700C3073.3 700.9 3089.5 701.9 3097.3 702.8C3103.5 703.6 3115.6 704.3 3115.6 705.1C3115.6 706.2 3104.9 707.3 3100.1 708.4C3094 709.9 3086 711.3 3083.2 712.7C3080.4 714.1 3077.6 715.5 3077.6 716.9C3077.6 718.8 3084.4 720.6 3086 722.5C3087.6 724.4 3089.4 726.3 3089.4 728.1C3089.4 729.6 3088.4 731 3087.4 732.4C3086.4 733.8 3082.2 735.2 3080.4 736.6C3078 738.5 3075.5 740.3 3074.7 742.2C3074 744.1 3073.6 746 3073.3 747.8C3073.1 749.7 3073 751.6 3072.8 753.5C3072.5 755.4 3072.2 757.2 3071.9 759.1C3071.6 761 3071.1 762.9 3071.1 764.7C3071 792.4 3070.9 820.1 3070.9 847.8C3070.9 848.2 3071.2 848.7 3071.4 849.2C3072.2 851 3075.6 852.9 3077.6 854.8C3079.5 856.7 3081.6 858.5 3083.2 860.4C3084.5 862 3085.7 863.6 3086.6 865.2L3070.9 865.2Z" fill="#006f62" stroke="rgba(255,255,255,0.92)" stroke-width="1.9" stroke-linejoin="round"/>
<circle cx="3070.9" cy="655.7" r="6.2" fill="#fff"/>
<path d="M3059.2 607.1H3117.3M3059.2 630.8H3117.3M3059.2 655.7H3117.3M3059.2 705.4H3117.3M3059.2 821.9H3117.3" stroke="#80b7b0" stroke-width="4.4" fill="none" opacity="0.92"/>
<g class="q" fill="#80b7b0" stroke="#80b7b0"><text x="3045.8" y="613.7">1.30</text><text x="3045.8" y="637.4">1.09</text><text x="3045.8" y="662.3">0.87</text><text x="3045.8" y="712">0.43</text><text x="3045.8" y="828.5">-0.60</text></g>
<path d="M3187 394.9L3187 394.9C3187 423.5 3187.2 452.1 3187.6 480.7C3187.7 490.1 3188.2 499.5 3188.7 508.9C3189 513.6 3189.6 518.2 3190.1 522.9C3190.7 527.6 3191.6 532.3 3192.4 537C3193.2 541.7 3194.3 546.4 3195.2 551.1C3196.1 555.8 3197 560.5 3198 565.2C3198.6 568 3199.2 570.8 3200 573.6C3200.8 576.4 3202 579.2 3202.8 582C3203.6 584.9 3204.1 587.7 3204.8 590.5C3205.5 593.3 3206.1 596.1 3207 598.9C3207.6 600.8 3208.6 602.7 3209.3 604.6C3210 606.4 3210.9 608.3 3211.2 610.2C3211.6 612.1 3211.8 613.9 3212.1 615.8C3212.4 617.7 3212.8 619.6 3213.2 621.4C3213.7 623.3 3214.6 625.2 3214.9 627.1C3215.2 628.9 3215.3 630.8 3215.5 632.7C3215.7 634.6 3215.7 636.5 3216 638.3C3216.3 640.2 3217.3 642.1 3217.7 644C3218.2 645.8 3218.4 647.7 3218.8 649.6C3219.3 651.5 3219.9 653.3 3220.5 655.2C3221.1 657.1 3222 659 3222.5 660.8C3222.9 662.3 3223.3 663.7 3223.3 665.1C3223.3 666.5 3221.9 667.9 3221.1 669.3C3220 671.2 3218.6 673 3217.7 674.9C3216.8 676.8 3215.8 678.7 3215.5 680.5C3215.2 682.4 3214.9 684.3 3214.9 686.2C3214.9 688.1 3215.7 689.9 3216 691.8C3216.4 693.7 3216.9 695.6 3216.9 697.4C3216.9 698.8 3216.1 700.2 3215.5 701.7C3214.8 703.1 3213.2 704.5 3212.1 705.9C3210.6 707.8 3208.9 709.6 3207.6 711.5C3206.3 713.4 3205.1 715.3 3204.2 717.1C3203.3 719 3202.7 720.9 3202 722.8C3201.6 723.6 3201 724.5 3200.8 725.3C3200.3 728.1 3200.4 731 3200 733.8C3199.6 736.6 3198.3 739.4 3197.2 742.2C3196 745 3193.8 747.8 3193 750.7C3191.9 754.4 3191 758.2 3190.7 761.9C3190.4 765.7 3190.4 769.4 3190.1 773.2C3189.9 776.9 3189.1 780.7 3189 784.4C3188.7 793.8 3188.6 803.2 3188.4 812.6C3188.3 822 3188.2 831.3 3188.2 840.7C3188.2 850.1 3188.3 859.5 3188.7 868.9C3188.9 871.7 3190.1 874.5 3191.5 877.3C3192.5 879.2 3194.9 881.1 3197.2 882.9C3199.4 884.8 3203.4 886.7 3205.6 888.6C3207.9 890.4 3210.5 892.3 3211.2 894.2C3212 896.1 3212.7 897.9 3212.7 899.8C3212.7 901.7 3211.8 903.6 3211.2 905.5C3210.7 907.3 3209.8 909.2 3209.3 911.1C3209 912.2 3208.7 913.3 3208.4 914.5L3187 914.5Z" fill="#ffffff" stroke="rgba(255,255,255,0.92)" stroke-width="1.9" stroke-linejoin="round"/>
<circle cx="3187" cy="664.7" r="6.2" fill="#fff"/>
<path d="M3175.4 556.2H3233.5M3175.4 628.6H3233.5M3175.4 664.7H3233.5M3175.4 717.9H3233.5M3175.4 915.7H3233.5" stroke="#ffffff" stroke-width="4.4" fill="none" opacity="1"/>
<g class="q" fill="#ffffff" stroke="#ffffff"><text x="3162" y="562.8">1.75</text><text x="3162" y="635.2">1.11</text><text x="3162" y="671.3">0.79</text><text x="3162" y="724.5">0.32</text><text x="3162" y="922.3">-1.43</text></g>
<path d="M3303.2 508.3L3303.2 508.3C3303.2 522.6 3303.6 536.8 3304.1 551.1C3304.3 555.8 3304.9 560.5 3305.5 565.2C3306.2 569.8 3307.5 574.5 3309.2 579.2C3310.2 582 3311.8 584.9 3313.4 587.7C3314.5 589.5 3316.7 591.4 3317.1 593.3C3317.4 594.7 3317.6 596.1 3317.6 597.5C3317.6 598.9 3316.1 600.3 3315.4 601.7C3314.7 603.2 3313.4 604.6 3313.4 606C3313.4 607.4 3314.8 608.8 3316.2 610.2C3317.7 611.6 3322.4 613 3326.1 614.4C3328.6 615.3 3332.4 616.3 3334.5 617.2C3336.6 618.2 3339.6 619.1 3339.6 620C3339.6 621 3339.2 621.9 3338.7 622.9C3338.1 624.3 3334.8 625.7 3333.1 627.1C3331.4 628.5 3328.5 629.9 3328.3 631.3C3328.2 632.5 3328.1 633.7 3328.1 635C3328.1 636.1 3334.3 637.2 3337.3 638.3C3341.2 639.7 3346.1 641.1 3348.6 642.6C3351.1 644 3353.8 645.4 3354.2 646.8C3354.5 647.7 3354.8 648.7 3354.8 649.6C3354.8 650.5 3352.7 651.5 3351.4 652.4C3350.2 653.3 3347.7 654.3 3347.2 655.2C3346.7 656.2 3346.3 657.1 3346.3 658C3346.3 659.4 3352 660.8 3352.8 662.3C3353.6 663.5 3354.2 664.7 3354.2 665.9C3354.2 667 3352.6 668.2 3351.4 669.3C3349.9 670.7 3346.1 672.1 3344.4 673.5C3342.6 674.9 3340.5 676.3 3340.2 677.7C3339.8 679.1 3339.8 680.5 3339.6 682C3339.4 683.4 3339.2 684.8 3338.7 686.2C3338.1 688.1 3335 689.9 3333.1 691.8C3331.2 693.7 3329.2 695.6 3327.5 697.4C3325.8 699.3 3324.1 701.2 3322.7 703.1C3321.3 704.9 3320.3 706.8 3319 708.7C3317.2 711.5 3315 714.3 3313.4 717.1C3311.8 719.9 3310.3 722.8 3309.2 725.6C3308.1 728.4 3307 731.2 3306.4 734C3305.8 736.8 3305.2 739.5 3305 742.2C3304.5 746.9 3304.1 751.6 3304.1 756.3C3304.1 761 3304.1 765.7 3304.1 770.4C3304.1 775.1 3304.4 779.7 3305 784.4C3305.2 786.8 3306.2 789.1 3307.8 791.5C3309 793.3 3313.6 795.2 3317.6 797.1C3320.6 798.5 3325 799.9 3328.9 801.3C3332 802.4 3336.8 803.6 3338.7 804.7C3340 805.4 3341.6 806.2 3341.6 806.9C3341.6 808.1 3339.2 809.2 3337.3 810.3C3335.4 811.5 3331.3 812.8 3328.9 814C3326.2 815.4 3323.5 816.8 3321.9 818.2C3320.3 819.6 3318.8 821 3318.2 822.4C3317.9 823.1 3317.7 823.7 3317.6 824.4L3303.2 824.4Z" fill="#2b4562" stroke="rgba(255,255,255,0.92)" stroke-width="1.9" stroke-linejoin="round"/>
<circle cx="3303.2" cy="665.9" r="6.2" fill="#fff"/>
<path d="M3291.6 595.8H3349.7M3291.6 639.9H3349.7M3291.6 665.9H3349.7M3291.6 700.9H3349.7M3291.6 807.2H3349.7" stroke="#95a2b0" stroke-width="4.4" fill="none" opacity="0.92"/>
<g class="q" fill="#95a2b0" stroke="#95a2b0"><text x="3278.2" y="602.4">1.40</text><text x="3278.2" y="646.5">1.01</text><text x="3278.2" y="672.5">0.78</text><text x="3278.2" y="707.5">0.47</text><text x="3278.2" y="813.8">-0.47</text></g>
<path d="M3419.4 426.7L3419.4 426.7C3419.4 454.1 3419.6 481.5 3420.1 508.9C3420.2 514.5 3420.7 520.1 3421.2 525.8C3421.6 529.5 3422.4 533.3 3423.2 537C3423.7 539.8 3424.6 542.6 3425.2 545.5C3425.5 547.3 3426 549.2 3426 551.1C3426 553.9 3424.9 556.7 3424.6 559.5C3424.3 562.3 3424 565.2 3424 568C3424 570.8 3425.7 573.6 3426.8 576.4C3428 579.2 3430.7 582 3431.6 584.9C3432.3 586.7 3433 588.6 3433 590.5C3433 593.3 3432.5 596.1 3432.5 598.9C3432.5 601.7 3433.5 604.6 3434.4 607.4C3435.3 610.2 3437.7 613 3438.7 615.8C3439.6 618.6 3440.4 621.4 3440.9 624.3C3441.4 627.1 3441.6 629.9 3442 632.7C3442.5 635.5 3442.8 638.3 3443.7 641.1C3444.5 643.5 3447.2 645.8 3448.5 648.2C3449.6 650.1 3451.3 651.9 3451.3 653.8C3451.3 655.2 3451.3 656.6 3451.3 658C3451.3 659.9 3449.7 661.8 3449.4 663.7C3449 665.5 3448.5 667.4 3448.5 669.3C3448.5 671.2 3450.2 673 3451.3 674.9C3452.5 676.8 3454.7 678.7 3455.5 680.5C3456.2 682 3457 683.4 3457 684.8C3457 686.2 3456.3 687.6 3455.5 689C3454.6 690.9 3449.9 692.7 3448.5 694.6C3447.2 696.5 3445.7 698.4 3445.7 700.2C3445.7 702.1 3446.6 704 3447.1 705.9C3447.6 707.8 3448.5 709.6 3448.5 711.5C3448.5 713.4 3446.9 715.3 3445.7 717.1C3444 719.9 3440.7 722.8 3438.7 725.6C3436.6 728.4 3434.8 731.2 3433 734C3431.3 736.8 3429.1 739.5 3428 742.2C3426.1 746.9 3425 751.6 3424 756.3C3423.1 761 3422.2 765.7 3421.8 770.4C3421.4 775.1 3420.9 779.7 3420.9 784.4C3420.9 789.1 3421.1 793.8 3421.2 798.5C3421.4 803.2 3421.8 807.9 3422.3 812.6C3422.9 817.3 3424.4 822 3426 826.6C3426.9 829.5 3428.3 832.3 3429.7 835.1C3431 837.9 3432.9 840.7 3434.4 843.5C3435.9 846.4 3437.1 849.2 3438.7 852C3439.9 854.3 3442.2 856.7 3442.9 859C3443.3 860.4 3443.7 861.8 3443.7 863.2C3443.7 864.6 3442.5 866.1 3441.5 867.5C3440.4 868.9 3437.5 870.3 3435.8 871.7C3433.7 873.6 3431.7 875.4 3430.2 877.3L3419.4 877.3Z" fill="#2b4562" stroke="rgba(255,255,255,0.92)" stroke-width="1.9" stroke-linejoin="round"/>
<circle cx="3419.4" cy="686.2" r="6.2" fill="#fff"/>
<path d="M3407.8 576.6H3465.9M3407.8 645.5H3465.9M3407.8 686.2H3465.9M3407.8 713.4H3465.9M3407.8 862.6H3465.9" stroke="#95a2b0" stroke-width="4.4" fill="none" opacity="0.92"/>
<g class="q" fill="#95a2b0" stroke="#95a2b0"><text x="3394.4" y="583.2">1.57</text><text x="3394.4" y="652.1">0.96</text><text x="3394.4" y="692.8">0.60</text><text x="3394.4" y="720">0.36</text><text x="3394.4" y="869.2">-0.96</text></g>
<path d="M3535.6 544.9L3535.6 544.9C3535.6 557.3 3535.8 569.7 3536.3 582C3536.5 585.8 3537.7 589.5 3538.6 593.3C3539.4 597.1 3540.3 600.8 3541.4 604.6C3542.5 608.3 3544.2 612.1 3545.6 615.8C3547 619.6 3548.3 623.3 3549.8 627.1C3551 629.9 3552.1 632.7 3553.5 635.5C3554.4 637.4 3555.7 639.3 3556.9 641.1C3558 643 3559.7 644.9 3560.2 646.8C3560.7 648.2 3560.7 649.6 3561.1 651C3561.7 652.9 3563.8 654.7 3565.3 656.6C3566.8 658.5 3568.8 660.4 3570.4 662.3C3571.6 663.7 3572.7 665.1 3573.8 666.5C3575.2 668.4 3576.7 670.2 3578 672.1C3579.3 674 3580.4 675.9 3581.6 677.7C3582.9 679.6 3584.3 681.5 3585.6 683.4C3586.8 685.2 3588.7 687.1 3589.2 689C3589.7 690.4 3589.9 691.8 3590.1 693.2C3590.3 694.6 3590.3 696 3590.6 697.4C3591 698.8 3592.8 700.2 3593.5 701.7C3594.2 703.1 3595.1 704.5 3595.1 705.9C3595.1 706.8 3594.3 707.8 3593.5 708.7C3592.2 710.1 3587.8 711.5 3585 712.9C3582.2 714.3 3578.7 715.7 3576.6 717.1C3574.5 718.5 3571.5 719.9 3571.5 721.4C3571.5 722.3 3572.7 723.2 3573.8 724.2C3575.1 725.4 3579.6 726.6 3580.8 727.8C3581.4 728.5 3582.2 729.1 3582.2 729.8C3582.2 730.7 3578.7 731.7 3576.6 732.6C3573.4 734 3568.5 735.4 3565.3 736.8C3562.1 738.2 3556.9 739.7 3556.9 741.1C3556.9 741.4 3556.9 741.8 3556.9 742.2C3556.9 744.1 3551.9 746 3549.8 747.8C3547.7 749.7 3545.6 751.6 3544.2 753.5C3542.4 755.8 3541 758.2 3540 760.5C3539 762.9 3538.2 765.2 3537.7 767.5C3537.2 770.4 3536.8 773.2 3536.6 776C3536.5 778.8 3536.3 781.6 3536.3 784.4C3536.3 788.2 3536.4 791.9 3536.6 795.7C3536.7 798 3537.5 800.4 3538.6 802.7C3539.5 804.6 3542.5 806.5 3545.6 808.4C3547.9 809.8 3552.5 811.2 3555.5 812.6C3557.8 813.7 3560 814.8 3561.9 816L3535.6 816Z" fill="#ff8700" stroke="rgba(255,255,255,0.92)" stroke-width="1.9" stroke-linejoin="round"/>
<circle cx="3535.6" cy="697.5" r="6.2" fill="#fff"/>
<path d="M3524 634.2H3582.1M3524 673.8H3582.1M3524 697.5H3582.1M3524 730.3H3582.1M3524 818.5H3582.1" stroke="#ffc380" stroke-width="4.4" fill="none" opacity="0.92"/>
<g class="q" fill="#ffc380" stroke="#ffc380"><text x="3510.6" y="640.8">1.06</text><text x="3510.6" y="680.4">0.71</text><text x="3510.6" y="704.1">0.50</text><text x="3510.6" y="736.9">0.21</text><text x="3510.6" y="825.1">-0.57</text></g>
<path d="M3651.8 518.7L3651.8 518.7C3651.8 527.6 3652.1 536.5 3652.6 545.5C3652.8 550.1 3653.4 554.8 3654 559.5C3654.5 564.2 3655.2 568.9 3655.9 573.6C3656.7 578.3 3657.7 583 3658.8 587.7C3659.8 592.4 3661.2 597.1 3662.4 601.7C3663.6 606.4 3664.8 611.1 3666.1 615.8C3667.3 620.5 3668.7 625.2 3670 629.9C3671.3 634.6 3672.4 639.3 3673.7 644C3675 648.7 3676.6 653.3 3677.9 658C3678.9 661.8 3679.9 665.5 3680.7 669.3C3681.5 673 3682.4 676.8 3683 680.5C3683.5 684.3 3684 688.1 3684.4 691.8C3684.6 694.6 3684.9 697.4 3684.9 700.2C3684.9 703.1 3684.1 705.9 3683.5 708.7C3682.9 711.5 3681.7 714.3 3680.7 717.1C3679.7 719.9 3679 722.8 3677.3 725.6C3676.8 726.4 3675.7 727.3 3675.1 728.1C3671.9 732.8 3670.1 737.5 3668 742.2C3666 746.9 3664 751.6 3662.4 756.3C3660.8 761 3659.3 765.7 3658.2 770.4C3657.1 775.1 3656.1 779.7 3655.4 784.4C3654.6 789.1 3653.8 793.8 3653.4 798.5C3653 803.2 3652.6 807.9 3652.6 812.6C3652.6 817.3 3652.6 822 3652.6 826.6C3652.6 831.3 3652.7 836 3653.1 840.7C3653.3 842.6 3654.3 844.5 3655.4 846.4C3656.7 848.7 3659.5 851 3662.4 853.4C3665.3 855.7 3670 858.1 3673.7 860.4C3676.6 862.3 3679.9 864.2 3682.1 866.1C3684.4 867.9 3686.3 869.8 3687.7 871.7C3688.9 873.1 3689.9 874.5 3690.6 875.9C3690.9 876.7 3691.2 877.4 3691.4 878.2L3651.8 878.2Z" fill="#900000" stroke="rgba(255,255,255,0.92)" stroke-width="1.9" stroke-linejoin="round"/>
<circle cx="3651.8" cy="698.7" r="6.2" fill="#fff"/>
<path d="M3640.2 602.6H3698.3M3640.2 671.5H3698.3M3640.2 698.7H3698.3M3640.2 864.8H3698.3M3640.2 878.4H3698.3" stroke="#c88080" stroke-width="4.4" fill="none" opacity="0.92"/>
<g class="q" fill="#c88080" stroke="#c88080"><text x="3626.8" y="609.2">1.34</text><text x="3626.8" y="678.1">0.73</text><text x="3626.8" y="705.3">0.49</text><text x="3626.8" y="871.4">-0.98</text><text x="3626.8" y="885">-1.10</text></g>
</g>
<path d="M1328 188.8V1093.2H3768" stroke="#d8dae0" stroke-width="1.8" fill="none" stroke-linejoin="miter"/>
<path d="M1328 188.8h24.6M1328 301.9h24.6M1328 414.9h24.6M1328 528h24.6M1328 641h24.6M1328 754h24.6M1328 867.1h24.6M1328 980.2h24.6M1328 1093.2h24.6M1444.2 1093.2v-24.6M1560.4 1093.2v-24.6M1676.6 1093.2v-24.6M1792.8 1093.2v-24.6M1909 1093.2v-24.6M2025.1 1093.2v-24.6M2141.3 1093.2v-24.6M2257.5 1093.2v-24.6M2373.7 1093.2v-24.6M2489.9 1093.2v-24.6M2606.1 1093.2v-24.6M2722.3 1093.2v-24.6M2838.5 1093.2v-24.6M2954.7 1093.2v-24.6M3070.9 1093.2v-24.6M3187 1093.2v-24.6M3303.2 1093.2v-24.6M3419.4 1093.2v-24.6M3535.6 1093.2v-24.6M3651.8 1093.2v-24.6" stroke="#d8dae0" stroke-width="1.7" fill="none"/>
<g class="t"><text x="1318.2" y="197.6" text-anchor="end">5</text><text x="1318.2" y="310.7" text-anchor="end">4</text><text x="1318.2" y="423.7" text-anchor="end">3</text><text x="1318.2" y="536.8" text-anchor="end">2</text><text x="1318.2" y="649.8" text-anchor="end">1</text><text x="1318.2" y="762.8" text-anchor="end">0</text><text x="1318.2" y="875.9" text-anchor="end">-1</text><text x="1318.2" y="989" text-anchor="end">-2</text><text x="1318.2" y="1102" text-anchor="end">-3</text><text x="1444.2" y="1122.8" text-anchor="middle">LEC</text><text x="1560.4" y="1122.8" text-anchor="middle">NOR</text><text x="1676.6" y="1122.8" text-anchor="middle">SAI</text><text x="1792.8" y="1122.8" text-anchor="middle">VER</text><text x="1909" y="1122.8" text-anchor="middle">ALB</text><text x="2025.1" y="1122.8" text-anchor="middle">BOT</text><text x="2141.3" y="1122.8" text-anchor="middle">MAG</text><text x="2257.5" y="1122.8" text-anchor="middle">OCO</text><text x="2373.7" y="1122.8" text-anchor="middle">PER</text><text x="2489.9" y="1122.8" text-anchor="middle">HAM</text><text x="2606.1" y="1122.8" text-anchor="middle">RUS</text><text x="2722.3" y="1122.8" text-anchor="middle">ALO</text><text x="2838.5" y="1122.8" text-anchor="middle">VET</text><text x="2954.7" y="1122.8" text-anchor="middle">LAT</text><text x="3070.9" y="1122.8" text-anchor="middle">STR</text><text x="3187" y="1122.8" text-anchor="middle">MSC</text><text x="3303.2" y="1122.8" text-anchor="middle">GAS</text><text x="3419.4" y="1122.8" text-anchor="middle">TSU</text><text x="3535.6" y="1122.8" text-anchor="middle">RIC</text><text x="3651.8" y="1122.8" text-anchor="middle">ZHO</text></g>
<text class="st" x="2548" y="184.2" text-anchor="middle" textLength="259" lengthAdjust="spacingAndGlyphs">Driver Predictions (pts/mil)</text>
<rect x="72.5" y="1174.9" width="1183.5" height="904" fill="#31343c"/>
<path d="M180.1 1174.9V2078.9M287.7 1174.9V2078.9M395.3 1174.9V2078.9M502.9 1174.9V2078.9M610.5 1174.9V2078.9M718 1174.9V2078.9M825.6 1174.9V2078.9M933.2 1174.9V2078.9M1040.8 1174.9V2078.9M1148.4 1174.9V2078.9M72.5 1174.9H1256M72.5 1325.6H1256M72.5 1476.2H1256M72.5 1626.9H1256M72.5 1777.6H1256M72.5 1928.2H1256M72.5 2078.9H1256" stroke="#555961" stroke-width="1.1" fill="none"/>
<clipPath id="cp3"><rect x="72.5" y="1174.9" width="1223.5" height="904"/></clipPath>
<g clip-path="url(#cp3)">
<path d="M180.1 1257.3L183.8 1257.3C183.8 1260.4 183.8 1263.5 183.8 1266.6C183.8 1269.4 183.3 1272.2 183.3 1275C183.3 1276.9 184.2 1278.8 185.2 1280.7C186.3 1282.5 189.9 1284.4 192.3 1286.3C194.6 1288.2 197.7 1290 199.3 1291.9C200.5 1293.3 201.5 1294.7 202.1 1296.1C202.8 1297.5 203.5 1299 203.5 1300.4C203.5 1301.8 201.8 1303.2 200.7 1304.6C199.2 1306.5 196.7 1308.3 195.1 1310.2C193.5 1312.1 190.9 1314 190.9 1315.8C190.9 1317.2 192.4 1318.7 193.7 1320.1C195.5 1321.9 200.3 1323.8 203.5 1325.7C206.8 1327.6 210.8 1329.4 213.4 1331.3C215.3 1332.7 217.5 1334.1 218.2 1335.5C218.6 1336.5 219 1337.4 219 1338.4C219 1339.3 217.4 1340.2 216.2 1341.2C214.4 1342.6 210.2 1344 207.8 1345.4C204.5 1347.3 200.7 1349.1 199.3 1351C197.9 1352.9 197 1354.8 196.5 1356.6C196.1 1358.1 195.7 1359.5 195.7 1360.9C195.7 1362.3 197 1363.7 197.9 1365.1C199.1 1367 202.6 1368.8 203 1370.7C203.3 1372.1 203.5 1373.5 203.5 1374.9C203.5 1376.4 201.8 1377.8 200.7 1379.2C199.2 1381 196.3 1382.9 195.1 1384.8C193.8 1386.7 192.3 1388.5 192.3 1390.4C192.3 1392.3 194 1394.2 195.1 1396.1C196.2 1397.9 198.8 1399.8 198.8 1401.7C198.8 1403.6 198.6 1405.4 198.5 1407.3C198.3 1409.2 196.5 1411.1 195.1 1412.9C193.7 1414.8 191.1 1416.7 189.5 1418.6C187.9 1420.4 185.2 1422.3 185.2 1424.2C185.2 1426.1 186.1 1427.9 186.6 1429.8C187.2 1431.7 188.6 1433.6 188.9 1435.5C189.2 1437.3 189.5 1439.2 189.5 1441.1C189.5 1443 188.7 1444.8 188.1 1446.7C187.4 1448.6 186.2 1450.5 185.2 1452.3C184.3 1454.2 182.9 1456.1 182.4 1458C181.7 1460.8 181.3 1463.6 181 1466.4C180.8 1469.2 180.6 1472 180.5 1474.9C180.4 1477.7 180.2 1480.5 180.2 1483.3C180.2 1510.5 180.2 1537.7 180.2 1564.9C180.2 1565.4 180.4 1565.9 180.5 1566.3C180.9 1568.7 182.4 1571 183.3 1573.4C184.2 1575.7 185.4 1578.1 185.8 1580.4C186.2 1582.7 186.6 1585.1 186.6 1587.4C186.6 1589.3 185.7 1591.2 185.2 1593.1C184.8 1594.9 183.8 1596.8 183.8 1598.7C183.8 1601.5 184.7 1604.3 184.7 1607.1C184.7 1609.4 184.4 1611.8 184.4 1614.1C184.4 1618.8 185.8 1623.5 185.8 1628.1C185.8 1632.8 185.2 1637.5 185.2 1642.2C185.2 1646.9 186.1 1651.6 186.1 1656.3C186.1 1661 185.9 1665.7 185.8 1670.4C185.7 1675.1 185.2 1679.7 185.2 1684.4C185.2 1688.2 186.1 1691.9 186.6 1695.7C187 1698 188.1 1700.4 188.1 1702.7C188.1 1705.1 187.3 1707.4 186.6 1709.8C185.9 1712.6 183.4 1715.4 182.4 1718.2C181.6 1720.6 180.6 1722.9 180.5 1725.2C180.3 1727.6 180.2 1729.9 180.2 1732.3C180.2 1786.7 180.2 1841.1 180.2 1895.5C180.2 1898.3 180.7 1901.1 180.7 1904C180.9 1909.6 181 1915.2 181 1920.8L180.1 1920.8Z" fill="#0600ef" stroke="rgba(255,255,255,0.92)" stroke-width="1.9" stroke-linejoin="round"/>
<circle cx="180.1" cy="1370.8" r="6.2" fill="#fff"/>
<path d="M169.3 1295.4H223.1M169.3 1333.1H223.1M169.3 1370.8H223.1M169.3 1446.1H223.1M169.3 1702.2H223.1" stroke="#8380f7" stroke-width="4.4" fill="none" opacity="0.92"/>
<g class="q" fill="#8380f7" stroke="#8380f7"><text x="156.9" y="1302">84</text><text x="156.9" y="1339.7">79</text><text x="156.9" y="1377.4">74</text><text x="156.9" y="1452.7">64</text><text x="156.9" y="1708.8">30</text></g>
<path d="M287.7 1347.6L290.8 1347.6C290.8 1351.6 291.2 1355.5 291.6 1359.5C292 1363.2 293.2 1367 294.2 1370.7C295.1 1374.5 296.5 1378.2 297.3 1382C298.1 1385.7 298.8 1389.5 299.2 1393.2C299.6 1397 299.8 1400.7 300.1 1404.5C300.4 1408.2 300.5 1412 300.9 1415.8C301.3 1419.5 302 1423.3 302.6 1427C303.2 1430.8 303.8 1434.5 304.3 1438.3C304.7 1442 305.1 1445.8 305.4 1449.5C305.7 1453.3 306 1457 306.3 1460.8C306.5 1464.5 306.7 1468.3 307.1 1472C307.5 1475.8 308.3 1479.5 308.8 1483.3C309.2 1486.1 309.9 1488.9 309.9 1491.7C309.9 1494.1 309.9 1496.4 309.9 1498.8C309.9 1501.1 309 1503.5 308.2 1505.8C307.3 1508.6 305 1511.4 303.4 1514.3C301.9 1517.1 300 1519.9 298.7 1522.7C297.3 1525.5 296.1 1528.3 295 1531.1C293.9 1534 292.8 1536.8 292.2 1539.6C291.3 1543.3 290.6 1547.1 290.2 1550.8C289.8 1554.6 289.4 1558.4 289.4 1562.1C289.4 1565.9 289.7 1569.6 289.9 1573.4C290.2 1577.1 290.5 1580.9 290.8 1584.6C291.1 1588.4 291.3 1592.1 291.9 1595.9C292.1 1597.3 292.8 1598.6 293 1600C293.7 1604.7 293.7 1609.4 294.2 1614.1C294.7 1618.8 295.6 1623.5 296.4 1628.1C297.2 1632.8 298.5 1637.5 299.2 1642.2C300 1646.9 300.7 1651.6 301.2 1656.3C301.6 1660 302 1663.8 302 1667.5C302 1671.3 301.3 1675.1 300.6 1678.8C300 1682.6 298.9 1686.3 297.8 1690.1C296.8 1693.8 295.3 1697.6 294.2 1701.3C293 1705.1 291.7 1708.8 290.8 1712.6C289.9 1716.3 289 1720.1 288.5 1723.8C288.3 1725.7 288 1727.6 288 1729.5C287.9 1731.3 287.8 1733.2 287.8 1735.1C287.8 1780.1 287.8 1825.2 287.8 1870.2C287.8 1871.1 288.1 1872.1 288.3 1873C288.7 1875.8 289.6 1878.6 289.9 1881.4C290.4 1885.2 290.8 1888.9 290.8 1892.7C290.8 1897.1 290.7 1901.5 290.2 1905.9L287.7 1905.9Z" fill="#dc0000" stroke="rgba(255,255,255,0.92)" stroke-width="1.9" stroke-linejoin="round"/>
<circle cx="287.7" cy="1498.8" r="6.2" fill="#fff"/>
<path d="M276.9 1393.4H330.7M276.9 1438.6H330.7M276.9 1498.8H330.7M276.9 1626.9H330.7M276.9 1694.7H330.7" stroke="#ed8080" stroke-width="4.4" fill="none" opacity="0.92"/>
<g class="q" fill="#ed8080" stroke="#ed8080"><text x="264.5" y="1400">71</text><text x="264.5" y="1445.2">65</text><text x="264.5" y="1505.4">57</text><text x="264.5" y="1633.5">40</text><text x="264.5" y="1701.3">31</text></g>
<path d="M395.3 1294.2L395.3 1294.2C395.3 1346 395.3 1397.7 395.5 1449.5C395.5 1450.5 395.6 1451.4 395.8 1452.3C396 1454.2 397.1 1456.1 397.7 1458C398.7 1460.8 399.7 1463.6 400.5 1466.4C401.4 1469.2 402.2 1472 402.8 1474.9C403.2 1476.7 403.9 1478.6 403.9 1480.5C403.9 1482.4 403.3 1484.2 402.8 1486.1C402.1 1488.9 400.7 1491.7 400 1494.6C399.3 1497.4 398.3 1500.2 398.3 1503C398.3 1505.8 398.3 1508.6 398.3 1511.4C398.3 1514.3 400.2 1517.1 402 1519.9C403.7 1522.7 408.3 1525.5 411.8 1528.3C415.3 1531.1 420.1 1534 423.1 1536.8C425.1 1538.7 427 1540.5 428.1 1542.4C429 1543.8 430.1 1545.2 430.1 1546.6C430.1 1548 429.7 1549.4 429.3 1550.8C428.7 1552.7 426.3 1554.6 424.5 1556.5C421.7 1559.3 417.4 1562.1 414.6 1564.9C412.3 1567.3 409.5 1569.6 408.4 1572C407.6 1573.8 406.7 1575.7 406.7 1577.6C406.7 1579.5 407.9 1581.3 409 1583.2C410.4 1585.6 413.9 1587.9 417.4 1590.2C420.3 1592.1 425.2 1594 428.7 1595.9C432.2 1597.8 435.4 1599.6 438.5 1601.5C440.8 1602.9 445 1604.3 445 1605.6C445 1607.5 444.7 1609.4 444.2 1611.3C443.7 1613.1 441.1 1615 438.5 1616.9C435.9 1618.8 429.9 1620.6 425.9 1622.5C421.9 1624.4 417.7 1626.3 414.6 1628.1C410.7 1630.5 406.9 1632.8 404.8 1635.2C402.6 1637.5 400.9 1639.9 400 1642.2C398.9 1645 397.7 1647.8 397.7 1650.7C397.7 1654.4 397.7 1658.2 397.7 1661.9C397.7 1665.7 398.2 1669.4 398.6 1673.2C398.9 1676.9 399.6 1680.7 400 1684.4C400.5 1689.1 401 1693.8 401.4 1698.5C401.8 1703.2 402.4 1707.9 402.5 1712.6C402.7 1717.3 402.8 1722 402.8 1726.6C402.8 1731.3 402.4 1736 402 1740.7C401.6 1744.5 400.7 1748.2 400 1752C399.3 1755.7 398.4 1759.5 397.7 1763.2C397.1 1767 396.4 1770.7 396 1774.5C395.8 1777.3 395.4 1780.1 395.4 1782.9C395.3 1831.4 395.3 1879.9 395.3 1928.4L395.3 1928.4Z" fill="#00d2be" stroke="rgba(255,255,255,0.92)" stroke-width="1.9" stroke-linejoin="round"/>
<circle cx="395.3" cy="1604.3" r="6.2" fill="#fff"/>
<path d="M384.5 1483.8H438.3M384.5 1551.6H438.3M384.5 1604.3H438.3M384.5 1611.8H438.3M384.5 1739.9H438.3" stroke="#80e8de" stroke-width="4.4" fill="none" opacity="0.92"/>
<g class="q" fill="#80e8de" stroke="#80e8de"><text x="372.1" y="1490.4">59</text><text x="372.1" y="1558.2">50</text><text x="372.1" y="1610.9">43</text><text x="372.1" y="1618.4">42</text><text x="372.1" y="1746.5">25</text></g>
<path d="M502.9 1536.1L502.9 1536.1C502.9 1551.3 503 1566.4 503.2 1581.5C503.3 1587.7 503.8 1593.8 504.1 1600C504.3 1604.7 504.4 1609.4 504.7 1614.1C504.9 1618.8 505.4 1623.5 505.8 1628.1C506.3 1632.8 506.9 1637.5 507.5 1642.2C508.1 1646.9 508.9 1651.6 509.7 1656.3C510.6 1661 511.5 1665.7 512.6 1670.4C513.6 1675.1 514.8 1679.7 515.9 1684.4C517.1 1689.1 518.2 1693.8 519.3 1698.5C520.4 1703.2 521.5 1707.9 522.4 1712.6C523.3 1717.3 524.2 1722 524.9 1726.6C525.7 1731.3 526.6 1736 527.2 1740.7C527.8 1745.4 528.4 1750.1 528.9 1754.8C529.3 1759.5 530 1764.2 530 1768.9C530 1772.6 530 1776.4 530 1780.1C530 1783.9 528.8 1787.6 527.8 1791.4C526.7 1795.1 524.7 1798.9 523 1802.6C521.3 1806.4 519 1810.1 517.3 1813.9C515.7 1817.7 514 1821.4 513.1 1825.2C512.2 1828.9 511.3 1832.7 511.2 1836.4C511 1840.2 510.9 1843.9 510.9 1847.7C510.9 1851.4 511.7 1855.2 511.7 1858.9C511.7 1862.7 511.4 1866.4 511.2 1870.2C510.9 1873.9 510.3 1877.7 509.7 1881.4C509.1 1886.1 508.2 1890.8 507.5 1895.5C506.7 1900.2 505.8 1904.9 505.2 1909.6C504.7 1914.3 504.1 1919 503.8 1923.7C503.6 1928.4 503.3 1933 503.3 1937.7C503 1967.5 502.9 1997.2 502.9 2026.9L502.9 2026.9Z" fill="#ff8700" stroke="rgba(255,255,255,0.92)" stroke-width="1.9" stroke-linejoin="round"/>
<circle cx="502.9" cy="1770" r="6.2" fill="#fff"/>
<path d="M492.1 1664.6H545.9M492.1 1724.8H545.9M492.1 1770H545.9M492.1 1807.7H545.9M492.1 1883H545.9" stroke="#ffc380" stroke-width="4.4" fill="none" opacity="0.92"/>
<g class="q" fill="#ffc380" stroke="#ffc380"><text x="479.7" y="1671.2">35</text><text x="479.7" y="1731.4">27</text><text x="479.7" y="1776.6">21</text><text x="479.7" y="1814.3">16</text><text x="479.7" y="1889.6">6</text></g>
<path d="M610.5 1445.5L610.5 1445.5C610.5 1485.2 610.5 1525 610.7 1564.7C610.8 1570.4 610.9 1576.1 611.1 1581.8C611.2 1586.5 612.5 1591.2 612.8 1595.9C613 1600.6 613.3 1605.3 613.3 1609.9C613.3 1611.3 612.2 1612.7 612.2 1614.1C612.2 1618.8 612.6 1623.5 613 1628.1C613.4 1631.9 614.6 1635.6 615.9 1639.4C616.8 1642.2 618.8 1645 620.1 1647.8C621.1 1650.2 622.5 1652.5 622.9 1654.9C623.3 1657.2 623.7 1659.6 623.7 1661.9C623.7 1664.7 622.2 1667.5 621.5 1670.4C620.5 1674.1 618.7 1677.9 618.7 1681.6C618.7 1684.4 618.7 1687.2 618.7 1690.1C618.7 1692.9 620.1 1695.7 621.5 1698.5C622.8 1701.3 626 1704.1 628.5 1706.9C631.1 1709.8 634.3 1712.6 637 1715.4C638.7 1717.3 641.3 1719.1 642 1721C642.6 1722.4 643.2 1723.8 643.2 1725.2C643.2 1726.6 642.1 1728.1 641.2 1729.5C639.7 1731.8 635.3 1734.2 632.7 1736.5C630.2 1738.8 626.8 1741.2 625.7 1743.5C624.6 1745.9 623.5 1748.2 623.5 1750.6C623.5 1752.9 623.8 1755.3 624.3 1757.6C624.9 1760.4 627.5 1763.2 629.9 1766.1C632.3 1768.9 637.3 1771.7 639.8 1774.5C641.8 1776.8 644.3 1779.2 644.8 1781.5C645.1 1782.9 645.4 1784.3 645.4 1785.8C645.4 1787.6 644 1789.5 642.6 1791.4C641.2 1793.3 636.9 1795.1 634.1 1797C631.4 1798.9 627.8 1800.8 626.3 1802.6C624.4 1805 623.1 1807.3 622.3 1809.7C621.5 1812 620.8 1814.4 620.6 1816.7C620.3 1820.5 620.1 1824.2 620.1 1828C620.1 1831.7 620.6 1835.5 620.6 1839.2C620.6 1843.9 620.3 1848.6 620.1 1853.3C619.8 1858 619.3 1862.7 618.7 1867.4C618 1872.1 616.8 1876.8 615.9 1881.4C614.9 1886.1 613.7 1890.8 613 1895.5C612.4 1900.2 612 1904.9 611.6 1909.6C611.3 1914.3 610.9 1919 610.8 1923.7C610.6 1928.4 610.5 1933 610.5 1937.7C610.5 1964.9 610.5 1992 610.5 2019.2L610.5 2019.2Z" fill="#f596c8" stroke="rgba(255,255,255,0.92)" stroke-width="1.9" stroke-linejoin="round"/>
<circle cx="610.5" cy="1770" r="6.2" fill="#fff"/>
<path d="M599.7 1657H653.5M599.7 1724.8H653.5M599.7 1770H653.5M599.7 1800.2H653.5M599.7 1883H653.5" stroke="#facbe4" stroke-width="4.4" fill="none" opacity="0.92"/>
<g class="q" fill="#facbe4" stroke="#facbe4"><text x="587.2" y="1663.6">36</text><text x="587.2" y="1731.4">27</text><text x="587.2" y="1776.6">21</text><text x="587.2" y="1806.8">17</text><text x="587.2" y="1889.6">6</text></g>
<path d="M718 1663.7L718 1663.7C718 1680 718.1 1696.3 718.2 1712.6C718.2 1715.4 718.4 1718.2 718.6 1721C718.9 1724.8 719.9 1728.5 720.8 1732.3C721.7 1736 723 1739.8 724.2 1743.5C725.5 1747.3 726.9 1751 728.4 1754.8C729.9 1758.5 731.6 1762.3 733.2 1766.1C734.9 1769.8 736.6 1773.6 738.3 1777.3C740 1781.1 741.9 1784.8 743.3 1788.6C744.8 1792.3 746.2 1796.1 747.3 1799.8C748.4 1803.6 749.4 1807.3 750.1 1811.1C750.8 1814.8 751.8 1818.6 751.8 1822.3C751.8 1825.2 751.8 1828 751.8 1830.8C751.8 1833.6 750.9 1836.4 750.1 1839.2C749.4 1842 748 1844.9 746.7 1847.7C745.5 1850.5 743.9 1853.3 742.5 1856.1C741.1 1858.9 739.7 1861.7 738.3 1864.6C736.9 1867.4 735.4 1870.2 734.1 1873C732.8 1875.8 731.3 1878.6 730.4 1881.4C729.5 1884.3 728.6 1887.1 728.1 1889.9C727.6 1892.7 727.2 1895.5 727 1898.3C726.7 1902.1 726.6 1905.8 726.5 1909.6C726.3 1914.3 726.1 1919 725.9 1923.7C725.6 1928.4 725.2 1933 724.8 1937.7C724.3 1942.4 723.5 1947.1 722.8 1951.8C722.1 1956.5 721.2 1961.2 720.5 1965.9C719.9 1970.6 719.1 1975.3 718.9 1979.9C718.6 1984.6 718.3 1989.3 718.3 1994C718.1 2017.5 718 2041 718 2064.5L718 2064.5Z" fill="#006f62" stroke="rgba(255,255,255,0.92)" stroke-width="1.9" stroke-linejoin="round"/>
<circle cx="718" cy="1830.3" r="6.2" fill="#fff"/>
<path d="M707.3 1755H761.1M707.3 1800.2H761.1M707.3 1830.3H761.1M707.3 1868H761.1M707.3 1943.3H761.1" stroke="#80b7b0" stroke-width="4.4" fill="none" opacity="0.92"/>
<g class="q" fill="#80b7b0" stroke="#80b7b0"><text x="694.8" y="1761.6">23</text><text x="694.8" y="1806.8">17</text><text x="694.8" y="1836.9">13</text><text x="694.8" y="1874.6">8</text><text x="694.8" y="1949.9">-2</text></g>
<path d="M825.6 1731.8L829 1731.8C829.9 1734.6 830.8 1737.3 831.5 1740.1C832.5 1743.4 833.4 1746.8 834.1 1750.1C834.7 1753.4 835.1 1756.8 835.8 1760.1C836.5 1763.4 837.5 1766.8 838.3 1770.1C839.1 1773.5 840 1776.8 840.8 1780.1C841.6 1783.5 842.4 1786.8 843.3 1790.2C844.3 1793.5 845.6 1796.8 846.6 1800.2C847.5 1803.5 848.4 1806.8 849.1 1810.2C849.8 1813.5 850.3 1816.9 850.8 1820.2C851.3 1823.5 852.1 1826.9 852.1 1830.2C852.1 1833.6 852.1 1836.9 852.1 1840.2C852.1 1843.6 851.4 1846.9 850.8 1850.2C850.3 1853.6 849.3 1856.9 848.3 1860.3C847.3 1863.6 845.9 1866.9 844.8 1870.3C843.7 1873.6 842.3 1877 841.6 1880.3C840.8 1883.6 840 1887 839.8 1890.3C839.5 1894.5 839.3 1898.7 839.3 1902.8C839.3 1907 839.4 1911.2 839.6 1915.3C839.7 1919.5 840.3 1923.7 840.3 1927.9C840.3 1932 840.3 1936.2 840.3 1940.4C840.3 1943.7 839.6 1947.1 839.1 1950.4C838.5 1953.7 837.6 1957.1 836.6 1960.4C835.6 1963.8 834.1 1967.1 832.8 1970.4C831.5 1973.8 829.9 1977.1 829 1980.5C828.2 1983.8 827.4 1987.1 827 1990.5C826.6 1994.6 826.5 1998.8 826.3 2003C826.1 2007.8 825.8 2012.7 825.8 2017.5C825.8 2022 825.8 2026.5 825.8 2031C825.8 2032.1 825.9 2033.2 826 2034.3C826.3 2038.8 826.8 2043.3 827.3 2047.7C827.7 2051.1 828.7 2054.5 828.7 2057.8C828.7 2059.8 828.7 2061.9 828.7 2063.9L825.6 2063.9Z" fill="#005aff" stroke="rgba(255,255,255,0.92)" stroke-width="1.9" stroke-linejoin="round"/>
<circle cx="825.6" cy="1852.9" r="6.2" fill="#fff"/>
<path d="M814.9 1762.5H868.7M814.9 1807.7H868.7M814.9 1852.9H868.7M814.9 1913.2H868.7M814.9 1965.9H868.7" stroke="#80acff" stroke-width="4.4" fill="none" opacity="0.92"/>
<g class="q" fill="#80acff" stroke="#80acff"><text x="802.4" y="1769.1">22</text><text x="802.4" y="1814.3">16</text><text x="802.4" y="1859.5">10</text><text x="802.4" y="1919.8">2</text><text x="802.4" y="1972.5">-5</text></g>
<path d="M933.2 1625.8L933.2 1625.8C934.2 1649.7 934.2 1673.6 934.2 1697.5C934.2 1698 933.6 1698.5 933.6 1699C933.6 1702.7 934.9 1706.4 935.5 1710C936.4 1715.9 937.1 1721.7 938 1727.6C938.8 1733.4 939.5 1739.2 940.5 1745.1C941.5 1751.8 942.9 1758.4 944.2 1765.1C945.6 1771.8 947 1778.5 948.5 1785.1C949.8 1791 951.5 1796.8 952.5 1802.7C953.5 1808.5 954.4 1814.4 955 1820.2C955.4 1824.4 956 1828.5 956 1832.7C956 1836.9 955.7 1841.1 955.5 1845.2C955.2 1850.2 954.2 1855.3 953.5 1860.3C952.8 1865.3 951.8 1870.3 951.2 1875.3C950.6 1880.3 950 1885.3 949.7 1890.3C949.5 1894.5 949.2 1898.7 949.2 1902.8C949.2 1907 949.6 1911.2 950 1915.3C950.3 1918.7 951.2 1922 951.2 1925.4C951.2 1928.7 951.2 1932 951.2 1935.4C951.2 1938.7 950.1 1942.1 949.2 1945.4C948.4 1948.7 946.9 1952.1 945.5 1955.4C944 1958.8 941.9 1962.1 940.5 1965.4C939 1968.8 937.6 1972.1 936.7 1975.4C935.8 1978.8 934.8 1982.1 934.5 1985.5C934.1 1988.8 933.7 1992.1 933.7 1995.5C933.7 1999.5 933.9 2003.5 934.1 2007.5C934.3 2011.9 934.8 2016.4 935.1 2020.9C935.4 2025.4 935.9 2029.8 936.1 2034.3C936.3 2038.8 936.4 2043.3 936.4 2047.7C936.4 2050.5 936.3 2053.3 936.1 2056.1L933.2 2056.1Z" fill="#900000" stroke="rgba(255,255,255,0.92)" stroke-width="1.9" stroke-linejoin="round"/>
<circle cx="933.2" cy="1852.9" r="6.2" fill="#fff"/>
<path d="M922.5 1747.4H976.3M922.5 1815.2H976.3M922.5 1852.9H976.3M922.5 1913.2H976.3M922.5 1958.4H976.3" stroke="#c88080" stroke-width="4.4" fill="none" opacity="0.92"/>
<g class="q" fill="#c88080" stroke="#c88080"><text x="910" y="1754">24</text><text x="910" y="1821.8">15</text><text x="910" y="1859.5">10</text><text x="910" y="1919.8">2</text><text x="910" y="1965">-4</text></g>
<path d="M1040.8 1611.7L1040.8 1611.7C1040.8 1637.8 1041.2 1663.9 1041.6 1690C1041.8 1698.3 1042.1 1706.7 1042.4 1715C1042.7 1723.4 1043 1731.7 1043.6 1740.1C1044.1 1746.8 1044.9 1753.4 1046.1 1760.1C1047 1765.1 1049.1 1770.1 1050.6 1775.1C1052.2 1780.1 1054.1 1785.1 1055.6 1790.2C1057.2 1795.2 1058.8 1800.2 1060.2 1805.2C1061.5 1810.2 1062.7 1815.2 1063.7 1820.2C1064.6 1825.2 1065.7 1830.2 1066.2 1835.2C1066.6 1840.2 1067.2 1845.2 1067.2 1850.2C1067.2 1855.3 1066.4 1860.3 1065.7 1865.3C1064.9 1870.3 1063.2 1875.3 1061.9 1880.3C1060.6 1885.3 1058.7 1890.3 1057.6 1895.3C1056.8 1899.5 1055.6 1903.7 1055.6 1907.8C1055.6 1912 1056.1 1916.2 1056.4 1920.4C1056.7 1923.7 1057.6 1927 1057.6 1930.4C1057.6 1933.7 1057 1937 1056.4 1940.4C1055.8 1943.7 1054.4 1947.1 1053.1 1950.4C1051.9 1953.7 1049.9 1957.1 1048.6 1960.4C1047.3 1963.8 1046.1 1967.1 1045.1 1970.4C1043.9 1974.6 1042.6 1978.8 1042.1 1983C1041.6 1987.1 1041.1 1991.3 1041.1 1995.5C1041.1 1997.2 1041.6 1999 1041.6 2000.7C1041.6 2006.3 1041.2 2011.9 1041.2 2017.5C1041.2 2020.9 1041.6 2024.2 1041.9 2027.6C1042.3 2032.1 1043.5 2036.6 1043.9 2041C1044.2 2044.4 1044.6 2047.7 1044.6 2051.1C1044.6 2052.8 1044.6 2054.5 1044.6 2056.1L1040.8 2056.1Z" fill="#2b4562" stroke="rgba(255,255,255,0.92)" stroke-width="1.9" stroke-linejoin="round"/>
<circle cx="1040.8" cy="1868" r="6.2" fill="#fff"/>
<path d="M1030.1 1762.5H1083.9M1030.1 1822.8H1083.9M1030.1 1868H1083.9M1030.1 1913.2H1083.9M1030.1 1965.9H1083.9" stroke="#95a2b0" stroke-width="4.4" fill="none" opacity="0.92"/>
<g class="q" fill="#95a2b0" stroke="#95a2b0"><text x="1017.6" y="1769.1">22</text><text x="1017.6" y="1829.4">14</text><text x="1017.6" y="1874.6">8</text><text x="1017.6" y="1919.8">2</text><text x="1017.6" y="1972.5">-5</text></g>
<path d="M1148.4 1656L1148.4 1656C1148.4 1675.7 1148.7 1695.4 1149 1715C1149.2 1723.4 1149.7 1731.7 1150.3 1740.1C1150.7 1746.8 1151.4 1753.4 1152.3 1760.1C1153 1765.1 1154.2 1770.1 1155.3 1775.1C1156.4 1780.1 1157.6 1785.1 1158.8 1790.2C1160.1 1795.2 1161.6 1800.2 1162.8 1805.2C1164.1 1810.2 1165.1 1815.2 1166.3 1820.2C1167.6 1825.2 1169.1 1830.2 1170.3 1835.2C1171.6 1840.2 1173 1845.2 1173.8 1850.2C1174.7 1855.3 1175.8 1860.3 1175.8 1865.3C1175.8 1868.6 1175.8 1871.9 1175.8 1875.3C1175.8 1878.6 1175.1 1882 1174.6 1885.3C1173.9 1889.5 1172.9 1893.6 1172.1 1897.8C1171.2 1902 1170.3 1906.2 1169.6 1910.3C1168.7 1915.3 1167.9 1920.4 1167.1 1925.4C1166.2 1930.4 1165.4 1935.4 1164.6 1940.4C1163.7 1945.4 1163.1 1950.4 1162.1 1955.4C1161.1 1960.4 1159.6 1965.4 1158.3 1970.4C1157.1 1975.4 1155.5 1980.5 1154.5 1985.5C1153.5 1990.5 1152.1 1995.5 1152 2000.5C1152 2006.2 1152 2011.8 1152 2017.5C1152 2023.1 1152 2028.7 1152 2034.3C1152 2038.8 1152.7 2043.3 1152.7 2047.7C1152.7 2050.5 1152.7 2053.3 1152.7 2056.1L1148.4 2056.1Z" fill="#ffffff" stroke="rgba(255,255,255,0.92)" stroke-width="1.9" stroke-linejoin="round"/>
<circle cx="1148.4" cy="1883" r="6.2" fill="#fff"/>
<path d="M1137.7 1785.1H1191.4M1137.7 1845.4H1191.4M1137.7 1883H1191.4M1137.7 1928.2H1191.4M1137.7 1988.5H1191.4" stroke="#ffffff" stroke-width="4.4" fill="none" opacity="1"/>
<g class="q" fill="#ffffff" stroke="#ffffff"><text x="1125.2" y="1791.7">19</text><text x="1125.2" y="1852">11</text><text x="1125.2" y="1889.6">6</text><text x="1125.2" y="1934.8">0</text><text x="1125.2" y="1995.1">-8</text></g>
</g>
<path d="M72.5 1174.9V2078.9H1256" stroke="#d8dae0" stroke-width="1.8" fill="none" stroke-linejoin="miter"/>
<path d="M72.5 1174.9h12M72.5 1325.6h12M72.5 1476.2h12M72.5 1626.9h12M72.5 1777.6h12M72.5 1928.2h12M72.5 2078.9h12M180.1 2078.9v-12M287.7 2078.9v-12M395.3 2078.9v-12M502.9 2078.9v-12M610.5 2078.9v-12M718 2078.9v-12M825.6 2078.9v-12M933.2 2078.9v-12M1040.8 2078.9v-12M1148.4 2078.9v-12" stroke="#d8dae0" stroke-width="1.7" fill="none"/>
<g class="t"><text x="62.7" y="1183.7" text-anchor="end">100</text><text x="62.7" y="1334.4" text-anchor="end">80</text><text x="62.7" y="1485" text-anchor="end">60</text><text x="62.7" y="1635.7" text-anchor="end">40</text><text x="62.7" y="1786.4" text-anchor="end">20</text><text x="62.7" y="1937" text-anchor="end">0</text><text x="62.7" y="2087.7" text-anchor="end">-20</text><text x="180.1" y="2108.5" text-anchor="middle">RED</text><text x="287.7" y="2108.5" text-anchor="middle">FER</text><text x="395.3" y="2108.5" text-anchor="middle">MER</text><text x="502.9" y="2108.5" text-anchor="middle">MCL</text><text x="610.5" y="2108.5" text-anchor="middle">ALP</text><text x="718" y="2108.5" text-anchor="middle">AST</text><text x="825.6" y="2108.5" text-anchor="middle">WIL</text><text x="933.2" y="2108.5" text-anchor="middle">ALF</text><text x="1040.8" y="2108.5" text-anchor="middle">ALT</text><text x="1148.4" y="2108.5" text-anchor="middle">HAA</text></g>
<text class="st" x="664.2" y="1170.3" text-anchor="middle" textLength="271" lengthAdjust="spacingAndGlyphs">Constructor Predictions (pts)</text>
<rect x="1328" y="1174.9" width="2440" height="904" fill="#31343c"/>
<path d="M1444.2 1174.9V2078.9M1560.4 1174.9V2078.9M1676.6 1174.9V2078.9M1792.8 1174.9V2078.9M1909 1174.9V2078.9M2025.1 1174.9V2078.9M2141.3 1174.9V2078.9M2257.5 1174.9V2078.9M2373.7 1174.9V2078.9M2489.9 1174.9V2078.9M2606.1 1174.9V2078.9M2722.3 1174.9V2078.9M2838.5 1174.9V2078.9M2954.7 1174.9V2078.9M3070.9 1174.9V2078.9M3187 1174.9V2078.9M3303.2 1174.9V2078.9M3419.4 1174.9V2078.9M3535.6 1174.9V2078.9M3651.8 1174.9V2078.9M1328 1174.9H3768M1328 1325.6H3768M1328 1476.2H3768M1328 1626.9H3768M1328 1777.6H3768M1328 1928.2H3768M1328 2078.9H3768" stroke="#555961" stroke-width="1.1" fill="none"/>
<clipPath id="cp4"><rect x="1328" y="1174.9" width="2480" height="904"/></clipPath>
<g clip-path="url(#cp4)">
<path d="M1444.2 1543.6L1498.4 1543.6C1498.4 1545.5 1498.4 1547.4 1498.4 1549.3C1498.4 1550.2 1497.7 1551.1 1497 1552.1C1495.9 1553.5 1491.4 1554.9 1488.6 1556.3C1485.8 1557.7 1482.8 1559.1 1480.1 1560.5C1477.4 1561.9 1473.3 1563.3 1472.2 1564.7C1471.2 1566.1 1470.3 1567.5 1470.3 1569C1470.3 1569.9 1471.9 1570.8 1473.1 1571.8C1474.9 1573.2 1478.9 1574.6 1481.5 1576C1484.2 1577.4 1487.8 1578.8 1489.1 1580.2C1490.5 1581.6 1491.9 1583 1491.9 1584.4C1491.9 1585.4 1491.7 1586.3 1491.4 1587.2C1490.9 1588.7 1488.8 1590.1 1487.2 1591.5C1484.9 1593.3 1481.4 1595.2 1478.7 1597.1C1476.7 1598.5 1474.1 1599.9 1473.1 1601.3C1472.1 1602.7 1471.1 1604.1 1471.1 1605.5C1471.1 1606.9 1472.4 1608.4 1473.1 1609.8C1473.7 1611.2 1475.1 1612.6 1475.1 1614C1475.1 1615.4 1474.5 1616.8 1473.9 1618.2C1473.2 1620.1 1470.6 1622 1468.9 1623.8C1467.1 1625.7 1465 1627.6 1463.2 1629.5C1461.5 1631.3 1458.6 1633.2 1458.2 1635.1C1457.9 1636.5 1457.6 1637.9 1457.6 1639.3C1457.6 1640.7 1459.3 1642.1 1460.4 1643.5C1461.9 1645.4 1465.1 1647.3 1466.1 1649.2C1466.7 1650.6 1467.5 1652 1467.5 1653.4C1467.5 1654.8 1466.7 1656.2 1466.1 1657.6C1465.1 1659.5 1462.4 1661.4 1460.4 1663.2C1458.5 1665.1 1455.8 1667 1454.2 1668.9C1452.7 1670.7 1451.4 1672.6 1450.6 1674.5C1449.3 1677.3 1448.5 1680.1 1447.8 1682.9C1447 1685.8 1446.3 1688.6 1445.8 1691.4C1445.1 1695.1 1444.3 1698.9 1444.2 1702.6C1444.2 1706.4 1444.2 1710.1 1444.2 1713.9C1444.2 1767.2 1444.2 1820.5 1444.2 1873.8C1444.2 1874.7 1444.3 1875.6 1444.4 1876.6C1444.6 1878.5 1446.4 1880.3 1447.8 1882.2C1449.5 1884.6 1452.7 1886.9 1454.8 1889.3C1456.9 1891.6 1459.1 1893.9 1460.4 1896.3C1461.2 1897.7 1462.4 1899.1 1462.4 1900.5C1462.4 1901.9 1461.3 1903.3 1460.4 1904.7C1459 1907.1 1455.4 1909.4 1453.4 1911.8C1450.9 1914.6 1448.2 1917.4 1446.9 1920.2C1445.7 1922.8 1444.6 1925.5 1444.2 1928.1L1444.2 1928.1Z" fill="#0600ef" stroke="rgba(255,255,255,0.92)" stroke-width="1.9" stroke-linejoin="round"/>
<circle cx="1444.2" cy="1589.2" r="6.2" fill="#fff"/>
<path d="M1432.6 1544H1490.7M1432.6 1551.6H1490.7M1432.6 1589.2H1490.7M1432.6 1642H1490.7M1432.6 1898.1H1490.7" stroke="#8380f7" stroke-width="4.4" fill="none" opacity="0.92"/>
<g class="q" fill="#8380f7" stroke="#8380f7"><text x="1419.2" y="1550.6">51</text><text x="1419.2" y="1558.2">50</text><text x="1419.2" y="1595.8">45</text><text x="1419.2" y="1648.6">38</text><text x="1419.2" y="1904.7">4</text></g>
<path d="M1560.4 1513.2L1575.8 1513.2C1577.8 1515.4 1578.6 1517.5 1578.6 1519.7C1578.6 1521.6 1576.9 1523.5 1575.8 1525.3C1574.7 1527.2 1572.1 1529.1 1571.6 1531C1571.1 1532.8 1570.7 1534.7 1570.7 1536.6C1570.7 1538.5 1572.6 1540.3 1574.4 1542.2C1576.2 1544.1 1581 1546 1584.3 1547.8C1587.5 1549.7 1592 1551.6 1594.1 1553.5C1595.7 1554.9 1597.8 1556.3 1597.8 1557.7C1597.8 1558.6 1597.3 1559.6 1596.9 1560.5C1596.1 1562.4 1591.9 1564.3 1589.9 1566.1C1587.9 1568 1584.8 1569.9 1584.8 1571.8C1584.8 1573.2 1585.2 1574.6 1585.7 1576C1586.1 1577.4 1587.7 1578.8 1588.5 1580.2C1589.3 1581.6 1590.5 1583 1590.5 1584.4C1590.5 1586.3 1589.5 1588.2 1588.5 1590.1C1587.5 1591.9 1584.7 1593.8 1582.9 1595.7C1581 1597.6 1578.7 1599.4 1577.2 1601.3C1576.1 1602.7 1574.4 1604.1 1574.4 1605.5C1574.4 1606.5 1575.1 1607.4 1575.8 1608.4C1576.9 1609.8 1581.3 1611.2 1584.3 1612.6C1588.2 1614.5 1593 1616.3 1596.9 1618.2C1599.9 1619.6 1603.8 1621 1605.4 1622.4C1606.7 1623.6 1608.2 1624.9 1608.2 1626.1C1608.2 1627.2 1607.2 1628.3 1606.2 1629.5C1604.6 1631.3 1599.2 1633.2 1595.5 1635.1C1591.9 1637 1587.3 1638.8 1584.3 1640.7C1579.7 1643.5 1575.9 1646.4 1573 1649.2C1570.1 1652 1567.7 1654.8 1566 1657.6C1564.2 1660.4 1562.3 1663.2 1561.7 1666.1C1561.2 1668.9 1560.7 1671.7 1560.6 1674.5C1560.5 1678.2 1560.4 1682 1560.4 1685.8C1560.4 1733.1 1560.4 1780.5 1560.4 1827.9C1560.4 1828.5 1560.5 1829.2 1560.6 1829.9C1560.9 1831.5 1563.8 1833.2 1566 1834.9C1568.9 1837.3 1573.7 1839.6 1577.2 1842C1580.7 1844.3 1584.7 1846.6 1587.1 1849C1588.2 1850.1 1589.9 1851.2 1589.9 1852.4C1589.9 1853.6 1588.2 1854.8 1587.1 1856C1584.8 1858.4 1580.4 1860.7 1577.2 1863.1C1573.4 1865.9 1568.5 1868.7 1566 1871.5C1563.9 1873.9 1561.8 1876.2 1561.2 1878.5C1560.8 1880.1 1560.4 1881.7 1560.4 1883.3L1560.4 1883.3Z" fill="#dc0000" stroke="rgba(255,255,255,0.92)" stroke-width="1.9" stroke-linejoin="round"/>
<circle cx="1560.4" cy="1611.8" r="6.2" fill="#fff"/>
<path d="M1548.8 1521.4H1606.9M1548.8 1559.1H1606.9M1548.8 1611.8H1606.9M1548.8 1626.9H1606.9M1548.8 1852.9H1606.9" stroke="#ed8080" stroke-width="4.4" fill="none" opacity="0.92"/>
<g class="q" fill="#ed8080" stroke="#ed8080"><text x="1535.3" y="1528">54</text><text x="1535.3" y="1565.7">49</text><text x="1535.3" y="1618.4">42</text><text x="1535.3" y="1633.5">40</text><text x="1535.3" y="1859.5">10</text></g>
<path d="M1676.6 1452.9L1676.6 1452.9C1676.6 1486.4 1676.7 1519.9 1677.1 1553.5C1677.2 1559.1 1677.9 1564.7 1678.5 1570.4C1679.1 1575.1 1680.2 1579.7 1681.4 1584.4C1682.3 1588.2 1683.7 1591.9 1685 1595.7C1686 1598.5 1687 1601.3 1688.4 1604.1C1689.8 1606.9 1691.8 1609.8 1694 1612.6C1696.3 1615.4 1700.6 1618.2 1702.5 1621C1703.7 1622.9 1705.3 1624.8 1705.3 1626.6C1705.3 1628.5 1704.7 1630.4 1704.7 1632.3C1704.7 1634.2 1707.3 1636 1709.5 1637.9C1711.7 1639.8 1716.2 1641.7 1720.8 1643.5C1724.2 1644.9 1731.1 1646.4 1733.4 1647.8C1735.4 1649 1737.6 1650.2 1737.6 1651.4C1737.6 1652.5 1737.6 1653.7 1737.6 1654.8C1737.6 1656.2 1733.7 1657.6 1730.6 1659C1727.5 1660.4 1719.7 1661.8 1716.5 1663.2C1713.4 1664.6 1709.5 1666.1 1709.5 1667.5C1709.5 1668.4 1711 1669.3 1712.3 1670.3C1714.4 1671.7 1720.2 1673.1 1725 1674.5C1729.8 1675.9 1737.6 1677.3 1741.9 1678.7C1745.6 1679.9 1750.2 1681.2 1750.9 1682.4C1751.4 1683.3 1751.7 1684.3 1751.7 1685.2C1751.7 1686.3 1747.9 1687.4 1744.7 1688.6C1739.3 1690.4 1725.4 1692.3 1716.5 1694.2C1707.6 1696.1 1695.9 1697.9 1691.2 1699.8C1686.5 1701.7 1682.5 1703.6 1681.4 1705.5C1679.7 1708.3 1679.2 1711.1 1678.5 1713.9C1677.9 1716.7 1677.4 1719.5 1677.1 1722.3C1676.9 1724.2 1676.7 1726.1 1676.7 1728C1676.6 1732.7 1676.6 1737.4 1676.6 1742C1676.6 1780.3 1676.6 1818.6 1676.6 1856.9C1676.6 1860.6 1676.9 1864.4 1677.1 1868.1C1677.4 1872.8 1677.9 1877.5 1678.5 1882.2C1679.1 1886 1680.2 1889.7 1681.4 1893.5C1682.3 1896.3 1684.3 1899.1 1685 1901.9C1685.5 1903.8 1686.1 1905.7 1686.1 1907.5C1686.1 1909.4 1685 1911.3 1684.2 1913.2C1683.1 1915.5 1681.1 1917.9 1679.9 1920.2C1678.6 1922.8 1677.5 1925.5 1676.6 1928.1L1676.6 1928.1Z" fill="#00d2be" stroke="rgba(255,255,255,0.92)" stroke-width="1.9" stroke-linejoin="round"/>
<circle cx="1676.6" cy="1657" r="6.2" fill="#fff"/>
<path d="M1665 1604.3H1723M1665 1649.5H1723M1665 1657H1723M1665 1687.2H1723M1665 1883H1723" stroke="#80e8de" stroke-width="4.4" fill="none" opacity="0.92"/>
<g class="q" fill="#80e8de" stroke="#80e8de"><text x="1651.5" y="1610.9">43</text><text x="1651.5" y="1656.1">37</text><text x="1651.5" y="1663.6">36</text><text x="1651.5" y="1693.8">32</text><text x="1651.5" y="1889.6">6</text></g>
<path d="M1792.8 1505L1792.8 1505C1792.8 1539 1792.8 1573 1793.4 1606.9C1793.4 1609.8 1795.2 1612.6 1795.9 1615.4C1796.6 1618.2 1797.6 1621 1797.6 1623.8C1797.6 1625.7 1796.7 1627.6 1796.7 1629.5C1796.7 1631.3 1798.2 1633.2 1799.6 1635.1C1801 1637 1805.2 1638.8 1808 1640.7C1810.8 1642.6 1815.6 1644.5 1816.4 1646.4C1816.9 1647.3 1817.3 1648.2 1817.3 1649.2C1817.3 1650.6 1813.8 1652 1812.2 1653.4C1810.2 1655.3 1806.6 1657.1 1806.6 1659C1806.6 1660.4 1807.6 1661.8 1808.9 1663.2C1810.1 1664.6 1815.7 1666.1 1820.7 1667.5C1825.6 1668.9 1834.6 1670.3 1840.4 1671.7C1846.2 1673.1 1852.4 1674.5 1855.9 1675.9C1858.7 1677 1862.3 1678.2 1862.3 1679.3C1862.3 1680 1862 1680.8 1861.5 1681.5C1860.6 1682.9 1851.8 1684.3 1846 1685.8C1840.2 1687.2 1829.8 1688.6 1826.3 1690C1822.8 1691.4 1819.3 1692.8 1819.3 1694.2C1819.3 1695.1 1820.6 1696.1 1822.1 1697C1823.9 1698.1 1831.8 1699.3 1837.6 1700.4C1843.8 1701.6 1852.4 1702.8 1858.7 1704C1864.4 1705.2 1871.7 1706.3 1874.1 1707.4C1875.8 1708.2 1877.5 1708.9 1877.5 1709.7C1877.5 1710.6 1875.9 1711.6 1874.1 1712.5C1871.6 1713.9 1861.8 1715.3 1854.4 1716.7C1847.1 1718.1 1835.1 1719.5 1829.1 1720.9C1823.1 1722.3 1817.7 1723.7 1815 1725.2C1812.4 1726.6 1810.2 1728 1809.4 1729.4C1808.7 1730.8 1808.6 1732.2 1808 1733.6C1807.2 1735.5 1805.1 1737.4 1803.8 1739.2C1801.8 1742 1799.6 1744.9 1798.2 1747.7C1796.7 1750.5 1795.5 1753.3 1794.8 1756.1C1794 1758.9 1793.2 1761.7 1793.1 1764.6C1792.9 1768.3 1792.8 1772.1 1792.8 1775.8C1792.8 1818.8 1792.8 1861.8 1792.8 1904.7C1792.8 1905.7 1793 1906.6 1793.1 1907.5C1793.5 1910.4 1795.1 1913.2 1796.7 1916C1798.4 1918.8 1801.4 1921.6 1803.8 1924.4C1805.8 1926.8 1808.7 1929.1 1810 1931.5C1810.7 1932.9 1811.7 1934.3 1811.7 1935.7C1811.7 1937.1 1810 1938.5 1808.9 1939.9C1806.9 1942.3 1802.9 1944.6 1801 1946.9C1798.6 1949.8 1796.3 1952.6 1795.3 1955.4C1794.4 1958.2 1793.7 1961 1793.4 1963.8C1793 1967.1 1792.8 1970.4 1792.8 1973.7L1792.8 1973.7Z" fill="#ff8700" stroke="rgba(255,255,255,0.92)" stroke-width="1.9" stroke-linejoin="round"/>
<circle cx="1792.8" cy="1702.2" r="6.2" fill="#fff"/>
<path d="M1781.1 1649.5H1839.2M1781.1 1679.6H1839.2M1781.1 1702.2H1839.2M1781.1 1709.8H1839.2M1781.1 1935.8H1839.2" stroke="#ffc380" stroke-width="4.4" fill="none" opacity="0.92"/>
<g class="q" fill="#ffc380" stroke="#ffc380"><text x="1767.7" y="1656.1">37</text><text x="1767.7" y="1686.2">33</text><text x="1767.7" y="1708.8">30</text><text x="1767.7" y="1716.4">29</text><text x="1767.7" y="1942.4">-1</text></g>
<path d="M1909 1557.7L1909 1557.7C1909 1566.6 1909 1575.5 1909 1584.4C1909 1584.9 1909.4 1585.4 1909.6 1585.8C1910.7 1588.2 1912.6 1590.5 1913.5 1592.9C1914.3 1594.8 1915.2 1596.6 1915.2 1598.5C1915.2 1600.4 1914.2 1602.3 1913.5 1604.1C1912.5 1606.9 1910.3 1609.8 1909.6 1612.6C1909.4 1613.5 1909 1614.5 1909 1615.4C1909 1626.2 1909 1637 1909 1647.8C1909 1648.7 1909.3 1649.6 1909.6 1650.6C1910.2 1652.4 1915.9 1654.3 1919.2 1656.2C1922.4 1658.1 1926.7 1660 1929 1661.8C1930.8 1663.2 1933.2 1664.6 1933.2 1666.1C1933.2 1667 1931.6 1667.9 1930.4 1668.9C1928.7 1670.3 1924.2 1671.7 1923.4 1673.1C1922.6 1674.5 1922 1675.9 1922 1677.3C1922 1678.7 1926.1 1680.1 1927.6 1681.5C1928.9 1682.8 1931 1684 1931 1685.2C1931 1686.3 1929.9 1687.4 1929 1688.6C1927.6 1690.4 1924.1 1692.3 1922 1694.2C1919.9 1696.1 1917.6 1697.9 1916.4 1699.8C1915.1 1701.7 1913.5 1703.6 1913.5 1705.5C1913.5 1706.9 1914.7 1708.3 1916.4 1709.7C1917.8 1710.9 1925.3 1712.1 1933.2 1713.3C1940.6 1714.5 1958.1 1715.6 1969.8 1716.7C1981.5 1717.8 1993.9 1719 2003.6 1720.1C2011.7 1721 2022.4 1722 2025 1722.9C2028.3 1724.1 2030.9 1725.3 2030.9 1726.6C2030.9 1727.8 2028.4 1729 2025 1730.2C2021.8 1731.3 2001.1 1732.5 1989.5 1733.6C1975.1 1735 1957.9 1736.4 1947.3 1737.8C1936.8 1739.2 1926.7 1740.6 1922 1742C1917.3 1743.4 1912.1 1744.9 1912.1 1746.3C1912.1 1747.7 1913.7 1749.1 1915 1750.5C1916.6 1752.4 1919.8 1754.2 1922 1756.1C1924.2 1758 1927.4 1759.9 1928.2 1761.7C1928.6 1762.7 1929 1763.6 1929 1764.6C1929 1766 1925.4 1767.4 1923.4 1768.8C1920.8 1770.7 1917 1772.5 1915 1774.4C1912.9 1776.3 1910.9 1778.2 1910.2 1780C1909.6 1781.4 1909 1782.9 1909 1784.3C1909 1815 1909 1845.8 1909 1876.6C1909 1877.5 1909.2 1878.5 1909.3 1879.4C1909.6 1882.2 1909.7 1885 1909.9 1887.8C1910.1 1890.7 1910.2 1893.5 1910.7 1896.3C1911 1897.7 1912.9 1899.1 1915 1900.5C1917.6 1902.4 1925.1 1904.3 1930.4 1906.1C1935.8 1908 1942.4 1909.9 1947.3 1911.8C1951 1913.2 1957.2 1914.6 1957.2 1916C1957.2 1917.9 1956.6 1919.7 1955.8 1921.6C1954.8 1923.8 1948.6 1925.9 1941.7 1928.1L1909 1928.1Z" fill="#dc0000" stroke="rgba(255,255,255,0.92)" stroke-width="1.9" stroke-linejoin="round"/>
<circle cx="1909" cy="1724.8" r="6.2" fill="#fff"/>
<path d="M1897.3 1664.6H1955.4M1897.3 1724.8H1955.4M1897.3 1724.8H1955.4M1897.3 1762.5H1955.4M1897.3 1920.7H1955.4" stroke="#ed8080" stroke-width="4.4" fill="none" opacity="0.92"/>
<g class="q" fill="#ed8080" stroke="#ed8080"><text x="1883.9" y="1671.2">35</text><text x="1883.9" y="1731.4">27</text><text x="1883.9" y="1731.4">27</text><text x="1883.9" y="1769.1">22</text><text x="1883.9" y="1927.3">1</text></g>
<path d="M2025.1 1565.3L2025.1 1565.3C2025.1 1585.7 2025.3 1606.2 2025.6 1626.6C2025.7 1633.2 2025.8 1639.8 2026.1 1646.4C2026.3 1649.2 2026.7 1652 2027.5 1654.8C2028.1 1656.7 2031.3 1658.5 2033.2 1660.4C2035.1 1662.3 2037.1 1664.2 2038.8 1666.1C2040 1667.5 2042.2 1668.9 2042.2 1670.3C2042.2 1671.2 2041.9 1672.1 2041.6 1673.1C2041.2 1674.5 2037.6 1675.9 2036 1677.3C2033.8 1679.2 2030.8 1681.1 2030.4 1682.9C2030 1684.3 2029.8 1685.8 2029.8 1687.2C2029.8 1688.6 2032.3 1690 2034.6 1691.4C2036.9 1692.8 2042.4 1694.2 2047.2 1695.6C2052.1 1697 2059 1698.4 2064.1 1699.8C2069.3 1701.2 2074 1702.6 2078.2 1704C2081.8 1705.3 2086 1706.5 2088.1 1707.7C2089.3 1708.5 2090.9 1709.2 2090.9 1710C2090.9 1710.8 2088.5 1711.6 2086.6 1712.5C2083.6 1713.9 2077.3 1715.3 2072.6 1716.7C2067.9 1718.1 2061.3 1719.5 2058.5 1720.9C2056.6 1721.9 2054.3 1722.8 2054.3 1723.7C2054.3 1724.7 2055.6 1725.6 2057.1 1726.6C2058.6 1727.5 2065.5 1728.4 2069.8 1729.4C2075.3 1730.6 2080.8 1731.8 2086.6 1733C2092.1 1734.2 2098.9 1735.3 2103.5 1736.4C2107.4 1737.4 2112.2 1738.3 2113.4 1739.2C2114.1 1739.8 2114.8 1740.4 2114.8 1740.9C2114.8 1741.8 2111.7 1742.6 2109.2 1743.4C2104.9 1744.9 2094.2 1746.3 2086.6 1747.7C2079.1 1749.1 2070.2 1750.5 2064.1 1751.9C2058 1753.3 2052 1754.7 2048.7 1756.1C2044.1 1758 2041.2 1759.9 2038.8 1761.7C2036.4 1763.6 2034.6 1765.5 2033.2 1767.4C2031.4 1769.7 2029 1772.1 2029 1774.4C2029 1776.8 2029.6 1779.1 2030.4 1781.4C2031 1783.3 2034 1785.2 2035.4 1787.1C2036.5 1788.5 2038.2 1789.9 2038.2 1791.3C2038.2 1792.7 2037.3 1794.1 2036.6 1795.5C2035.5 1797.4 2033.3 1799.3 2031.8 1801.1C2030.3 1803 2028.6 1804.9 2027.5 1806.8C2026.7 1808.2 2025.7 1809.6 2025.6 1811C2025.3 1813.3 2025.2 1815.7 2025.2 1818C2025.2 1844.6 2025.2 1871.1 2025.2 1897.7C2025.2 1898.6 2025.4 1899.6 2025.6 1900.5C2026 1902.4 2027.5 1904.3 2029 1906.1C2030.4 1908 2032.7 1909.9 2034.6 1911.8C2036.5 1913.6 2038.9 1915.5 2040.2 1917.4C2041 1918.5 2042.2 1919.6 2042.2 1920.8C2042.2 1922 2040 1923.2 2038.8 1924.4C2036.9 1926.3 2034 1928.2 2032.6 1930.1C2030.9 1932.4 2029.6 1934.8 2029 1937.1C2028 1940.4 2027.5 1943.7 2027 1946.9C2026.4 1950.7 2025.8 1954.5 2025.6 1958.2C2025.4 1961 2025.2 1963.8 2025.1 1966.6L2025.1 1966.6Z" fill="#00d2be" stroke="rgba(255,255,255,0.92)" stroke-width="1.9" stroke-linejoin="round"/>
<circle cx="2025.1" cy="1739.9" r="6.2" fill="#fff"/>
<path d="M2013.5 1672.1H2071.6M2013.5 1709.8H2071.6M2013.5 1739.9H2071.6M2013.5 1739.9H2071.6M2013.5 1920.7H2071.6" stroke="#80e8de" stroke-width="4.4" fill="none" opacity="0.92"/>
<g class="q" fill="#80e8de" stroke="#80e8de"><text x="2000.1" y="1678.7">34</text><text x="2000.1" y="1716.4">29</text><text x="2000.1" y="1746.5">25</text><text x="2000.1" y="1746.5">25</text><text x="2000.1" y="1927.3">1</text></g>
<path d="M2141.3 1550.7L2141.3 1550.7C2141.3 1578.8 2141.4 1607 2141.8 1635.1C2141.9 1637.9 2143.5 1640.7 2144.3 1643.5C2145.2 1646.4 2146.2 1649.2 2147.2 1652C2148.1 1654.8 2148.9 1657.6 2150 1660.4C2151 1663.2 2152.5 1666.1 2153.6 1668.9C2154.6 1671.2 2155.8 1673.6 2156.4 1675.9C2156.9 1677.8 2157.6 1679.7 2157.6 1681.5C2157.6 1683.4 2157 1685.3 2157 1687.2C2157 1689 2157.2 1690.9 2157.6 1692.8C2157.8 1694.2 2159.5 1695.6 2161.2 1697C2162.9 1698.4 2166.3 1699.8 2169.7 1701.2C2173.1 1702.6 2178.4 1704 2182.3 1705.5C2186.3 1706.9 2190.3 1708.3 2193.6 1709.7C2196.5 1710.9 2200.2 1712.1 2201.5 1713.3C2202.4 1714.3 2203.4 1715.2 2203.4 1716.1C2203.4 1717.1 2202.1 1718 2200.6 1719C2198.9 1720.1 2193.3 1721.2 2189.4 1722.3C2184.5 1723.7 2178.3 1725.2 2173.9 1726.6C2170.1 1727.8 2165.8 1729 2164 1730.2C2162.7 1731.2 2161.2 1732.1 2161.2 1733C2161.2 1734 2162.6 1734.9 2164 1735.9C2165.8 1737 2172 1738.1 2176.7 1739.2C2182.5 1740.6 2190.6 1742 2196.4 1743.4C2202.2 1744.9 2208.7 1746.3 2211.9 1747.7C2214.4 1748.8 2216.5 1749.9 2217.5 1751C2218.2 1751.8 2218.9 1752.5 2218.9 1753.3C2218.9 1754.2 2216.6 1755.2 2214.7 1756.1C2211.8 1757.5 2205 1758.9 2199.2 1760.3C2193.4 1761.7 2185.6 1763.2 2179.5 1764.6C2173.5 1766 2167.1 1767.4 2162.6 1768.8C2158.1 1770.2 2153.5 1771.6 2151.4 1773C2148.6 1774.9 2147 1776.8 2145.8 1778.6C2144.5 1780.5 2143.4 1782.4 2142.9 1784.3C2142.2 1787.1 2141.6 1789.9 2141.5 1792.7C2141.4 1796.5 2141.3 1800.2 2141.3 1804C2141.3 1833.8 2141.3 1863.6 2141.3 1893.5C2141.3 1894.4 2141.4 1895.4 2141.5 1896.3C2141.8 1898.6 2142.2 1901 2142.9 1903.3C2143.5 1905.2 2145.4 1907.1 2147.2 1909C2148.9 1910.8 2152.1 1912.7 2154.2 1914.6C2156.3 1916.5 2158.2 1918.3 2159.8 1920.2C2161.1 1921.6 2162.4 1923 2163.2 1924.4C2163.9 1925.7 2164.5 1926.9 2164.9 1928.1L2141.3 1928.1Z" fill="#0600ef" stroke="rgba(255,255,255,0.92)" stroke-width="1.9" stroke-linejoin="round"/>
<circle cx="2141.3" cy="1755" r="6.2" fill="#fff"/>
<path d="M2129.7 1679.6H2187.8M2129.7 1717.3H2187.8M2129.7 1755H2187.8M2129.7 1755H2187.8M2129.7 1928.2H2187.8" stroke="#8380f7" stroke-width="4.4" fill="none" opacity="0.92"/>
<g class="q" fill="#8380f7" stroke="#8380f7"><text x="2116.3" y="1686.2">33</text><text x="2116.3" y="1723.9">28</text><text x="2116.3" y="1761.6">23</text><text x="2116.3" y="1761.6">23</text><text x="2116.3" y="1934.8">0</text></g>
<path d="M2257.5 1648.6L2257.5 1648.6C2257.5 1666.6 2257.6 1684.6 2258 1702.6C2258.1 1706.4 2259.1 1710.1 2259.7 1713.9C2260.3 1717.7 2260.8 1721.4 2261.7 1725.2C2262.4 1728 2263.2 1730.8 2264.5 1733.6C2265.6 1735.9 2267.6 1738.3 2269.6 1740.6C2271.2 1742.5 2273.7 1744.4 2275.2 1746.3C2276.3 1747.7 2278 1749.1 2278 1750.5C2278 1751.9 2277.8 1753.3 2277.5 1754.7C2277.1 1756.1 2274.5 1757.5 2273.8 1758.9C2273.1 1760.3 2272.4 1761.7 2272.4 1763.2C2272.4 1764.6 2274.7 1766 2276.6 1767.4C2278.6 1768.8 2283.2 1770.2 2286.5 1771.6C2289.8 1773 2293.9 1774.4 2296.3 1775.8C2298.7 1777.2 2300.7 1778.6 2302 1780C2302.8 1781 2303.9 1781.9 2303.9 1782.9C2303.9 1783.8 2302.9 1784.7 2302 1785.7C2300.5 1787.1 2295.8 1788.5 2293.5 1789.9C2291.3 1791.3 2288.5 1792.7 2287.9 1794.1C2287.4 1795 2287 1796 2287 1796.9C2287 1797.9 2289.2 1798.8 2290.7 1799.7C2292.9 1801.1 2296.9 1802.6 2299.1 1804C2301.4 1805.4 2304.1 1806.8 2304.8 1808.2C2305.2 1809.1 2305.6 1810.1 2305.6 1811C2305.6 1811.9 2304.4 1812.9 2303.4 1813.8C2301.9 1815.2 2298.7 1816.6 2296.3 1818C2294 1819.4 2290.4 1820.8 2289.3 1822.3C2288.2 1823.7 2287 1825.1 2287 1826.5C2287 1827.9 2288.3 1829.3 2288.7 1830.7C2289.2 1832.1 2289.9 1833.5 2289.9 1834.9C2289.9 1836.3 2288 1837.7 2286.5 1839.1C2284.5 1841 2279 1842.9 2276.6 1844.8C2274.2 1846.6 2271 1848.5 2271 1850.4C2271 1851.8 2271.4 1853.2 2271.8 1854.6C2272.5 1856.5 2276.3 1858.4 2278 1860.2C2279.3 1861.7 2281.4 1863.1 2281.4 1864.5C2281.4 1865.9 2280.4 1867.3 2279.4 1868.7C2278.2 1870.6 2274.5 1872.4 2272.4 1874.3C2269.8 1876.7 2267.2 1879 2265.4 1881.4C2263.7 1883.5 2262 1885.7 2261.1 1887.8C2260.1 1890.7 2259.1 1893.5 2258.9 1896.3C2258.6 1900 2258.3 1903.8 2258.3 1907.5C2258.3 1911.3 2258.6 1915.1 2258.9 1918.8C2259.2 1922.6 2259.9 1926.3 2260.6 1930.1C2261.3 1933.8 2262.3 1937.6 2263.4 1941.3C2264.5 1945.1 2265.9 1948.8 2267.3 1952.6C2268.4 1955.4 2270.3 1958.2 2271 1961C2271.4 1962.4 2271.8 1963.8 2271.8 1965.2C2271.8 1966.6 2270.5 1968.1 2269.6 1969.5C2268.1 1971.8 2265.6 1974.2 2264 1976.5C2262.4 1978.8 2260.8 1981.2 2259.7 1983.5C2258.9 1985.4 2258.1 1987.3 2257.5 1989.2L2257.5 1989.2Z" fill="#f596c8" stroke="rgba(255,255,255,0.92)" stroke-width="1.9" stroke-linejoin="round"/>
<circle cx="2257.5" cy="1807.7" r="6.2" fill="#fff"/>
<path d="M2245.9 1747.4H2304M2245.9 1785.1H2304M2245.9 1807.7H2304M2245.9 1837.8H2304M2245.9 1965.9H2304" stroke="#facbe4" stroke-width="4.4" fill="none" opacity="0.92"/>
<g class="q" fill="#facbe4" stroke="#facbe4"><text x="2232.5" y="1754">24</text><text x="2232.5" y="1791.7">19</text><text x="2232.5" y="1814.3">16</text><text x="2232.5" y="1844.4">12</text><text x="2232.5" y="1972.5">-5</text></g>
<path d="M2373.7 1678.7L2373.7 1678.7C2373.7 1688.6 2374 1698.4 2374.6 1708.3C2374.8 1712 2375.8 1715.8 2376.5 1719.5C2377.3 1723.3 2378.2 1727 2379.4 1730.8C2380.2 1733.6 2381.9 1736.4 2382.7 1739.2C2383.4 1741.6 2384.4 1743.9 2384.4 1746.3C2384.4 1748.6 2383.6 1751 2383.6 1753.3C2383.6 1755.2 2384.2 1757.1 2385 1758.9C2385.7 1760.8 2388.5 1762.7 2390.6 1764.6C2392.7 1766.4 2395.6 1768.3 2397.6 1770.2C2399.7 1772.1 2402.1 1773.9 2403.3 1775.8C2404.2 1777.2 2405.2 1778.6 2405.2 1780C2405.2 1781 2404.7 1781.9 2404.1 1782.9C2403.3 1784.3 2400.4 1785.7 2399.1 1787.1C2397.7 1788.5 2395.7 1789.9 2395.7 1791.3C2395.7 1792.7 2396.6 1794.1 2397.6 1795.5C2398.7 1796.9 2403.6 1798.3 2406.1 1799.7C2408.5 1801.1 2411.7 1802.6 2412.6 1804C2413.1 1804.9 2413.7 1805.8 2413.7 1806.8C2413.7 1808.2 2411.7 1809.6 2410.3 1811C2408.9 1812.4 2405 1813.8 2404.7 1815.2C2404.3 1816.6 2404.1 1818 2404.1 1819.4C2404.1 1820.8 2407.3 1822.3 2408.9 1823.7C2410.5 1825.1 2413 1826.5 2413.7 1827.9C2414.1 1828.8 2414.5 1829.8 2414.5 1830.7C2414.5 1832.1 2411.7 1833.5 2409.7 1834.9C2407.1 1836.8 2401.9 1838.7 2399.1 1840.5C2396.2 1842.4 2392 1844.3 2392 1846.2C2392 1847.6 2392.6 1849 2393.4 1850.4C2394.2 1851.8 2400.1 1853.2 2403.3 1854.6C2406.5 1856 2411.1 1857.4 2412.6 1858.8C2413.5 1859.8 2414.5 1860.7 2414.5 1861.7C2414.5 1862.6 2413 1863.5 2411.7 1864.5C2409.8 1865.9 2404.7 1867.3 2401.9 1868.7C2398.1 1870.6 2394.1 1872.4 2392 1874.3C2390.1 1876 2389.2 1877.7 2387.8 1879.4C2385.5 1882.2 2382.4 1885 2380.8 1887.8C2379.2 1890.7 2377.7 1893.5 2377.1 1896.3C2376.5 1899.1 2376 1901.9 2376 1904.7C2376 1907.5 2376.2 1910.4 2376.5 1913.2C2376.8 1916 2378.1 1918.8 2379.4 1921.6C2380.6 1924.4 2382.9 1927.2 2385 1930.1C2386.7 1932.4 2389 1934.8 2390.6 1937.1C2391.7 1938.7 2393.4 1940.3 2393.4 1941.9C2393.4 1943.4 2392.2 1944.9 2391.2 1946.4C2389.8 1948.4 2386.4 1950.5 2385 1952.6C2383.1 1955.4 2381.9 1958.2 2380.8 1961C2379.6 1963.8 2378.7 1966.6 2377.9 1969.5C2377.2 1972.3 2376.6 1975.1 2376 1977.9C2375.2 1981.7 2374.4 1985.4 2373.7 1989.2L2373.7 1989.2Z" fill="#f596c8" stroke="rgba(255,255,255,0.92)" stroke-width="1.9" stroke-linejoin="round"/>
<circle cx="2373.7" cy="1830.3" r="6.2" fill="#fff"/>
<path d="M2362.1 1747.4H2420.2M2362.1 1800.2H2420.2M2362.1 1830.3H2420.2M2362.1 1860.4H2420.2M2362.1 1943.3H2420.2" stroke="#facbe4" stroke-width="4.4" fill="none" opacity="0.92"/>
<g class="q" fill="#facbe4" stroke="#facbe4"><text x="2348.7" y="1754">24</text><text x="2348.7" y="1806.8">17</text><text x="2348.7" y="1836.9">13</text><text x="2348.7" y="1867">9</text><text x="2348.7" y="1949.9">-2</text></g>
<path d="M2489.9 1686.3L2489.9 1686.3C2489.9 1698.3 2490.1 1710.3 2490.5 1722.3C2490.6 1726.1 2491 1729.8 2491.4 1733.6C2491.7 1737.4 2491.8 1741.1 2492.5 1744.9C2492.9 1747.2 2494.5 1749.5 2496.2 1751.9C2497.4 1753.8 2500.3 1755.6 2501.8 1757.5C2502.9 1758.9 2504.6 1760.3 2504.6 1761.7C2504.6 1763.2 2502.9 1764.6 2501.8 1766C2500.3 1767.8 2496.2 1769.7 2496.2 1771.6C2496.2 1773 2496.2 1774.4 2496.2 1775.8C2496.2 1777.2 2499.2 1778.6 2501.8 1780C2504.4 1781.4 2510.5 1782.9 2514.4 1784.3C2518.4 1785.7 2523 1787.1 2525.7 1788.5C2528.1 1789.7 2531.3 1790.9 2531.3 1792.1C2531.3 1793.3 2529.9 1794.4 2528.5 1795.5C2526.8 1796.9 2520.8 1798.3 2517.3 1799.7C2513.8 1801.1 2508.5 1802.6 2507.4 1804C2506.7 1804.9 2506 1805.8 2506 1806.8C2506 1807.7 2509 1808.7 2511.6 1809.6C2514.8 1810.7 2522.7 1811.8 2528.5 1813C2534.8 1814.2 2542.7 1815.4 2548.2 1816.6C2552.5 1817.6 2557.7 1818.5 2559.5 1819.4C2560.9 1820.2 2562.3 1820.9 2562.3 1821.7C2562.3 1822.5 2559.3 1823.4 2556.7 1824.2C2552.9 1825.4 2542.6 1826.7 2537 1827.9C2530.5 1829.3 2521.3 1830.7 2520.1 1832.1C2519.3 1833 2518.7 1834 2518.7 1834.9C2518.7 1835.9 2522.8 1836.8 2525.7 1837.7C2529.2 1838.9 2534.6 1840 2539.8 1841.1C2544.1 1842 2551.3 1843 2553.8 1843.9C2555.9 1844.7 2558.1 1845.4 2558.1 1846.2C2558.1 1846.9 2555.8 1847.7 2553.8 1848.4C2550.9 1849.6 2542.4 1850.7 2537 1851.8C2530.2 1853.2 2521.6 1854.6 2517.3 1856C2512.9 1857.4 2507.4 1858.8 2507.4 1860.2C2507.4 1861.7 2507.4 1863.1 2507.4 1864.5C2507.4 1865.9 2510.2 1867.3 2510.2 1868.7C2510.2 1870.1 2508.7 1871.5 2507.4 1872.9C2505.7 1874.8 2501 1876.7 2499 1878.5C2496.6 1880.7 2494.2 1882.9 2493.3 1885C2492.2 1887.8 2491.5 1890.7 2491.1 1893.5C2490.7 1896.3 2490.4 1899.1 2490.2 1901.9C2490.1 1904.7 2490 1907.5 2490 1910.4C2490 1918.8 2490 1927.2 2490 1935.7C2490 1936.2 2490.1 1936.6 2490.2 1937.1C2490.8 1939 2492.8 1940.9 2494.7 1942.7C2496.7 1944.6 2500.2 1946.5 2503.2 1948.4C2506.2 1950.2 2510.3 1952.1 2513 1954C2514.8 1955.2 2517.8 1956.4 2517.8 1957.6C2517.8 1958.8 2516.8 1959.9 2515.9 1961C2514.6 1962.4 2510.2 1963.8 2507.4 1965.2C2504.6 1966.6 2500.3 1968.1 2499 1969.5C2497.5 1971.1 2496.2 1972.7 2496.2 1974.2L2489.9 1974.2Z" fill="#900000" stroke="rgba(255,255,255,0.92)" stroke-width="1.9" stroke-linejoin="round"/>
<circle cx="2489.9" cy="1830.3" r="6.2" fill="#fff"/>
<path d="M2478.3 1762.5H2536.4M2478.3 1815.2H2536.4M2478.3 1830.3H2536.4M2478.3 1852.9H2536.4M2478.3 1958.4H2536.4" stroke="#c88080" stroke-width="4.4" fill="none" opacity="0.92"/>
<g class="q" fill="#c88080" stroke="#c88080"><text x="2464.9" y="1769.1">22</text><text x="2464.9" y="1821.8">15</text><text x="2464.9" y="1836.9">13</text><text x="2464.9" y="1859.5">10</text><text x="2464.9" y="1965">-4</text></g>
<path d="M2606.1 1747L2606.1 1747C2606.1 1754.7 2606.2 1762.4 2606.5 1770.1C2606.6 1773.5 2608.4 1776.8 2610 1780.1C2611.6 1783.5 2614.4 1786.8 2617.5 1790.2C2619.8 1792.7 2625.1 1795.2 2626.3 1797.7C2626.9 1798.9 2627.5 1800.2 2627.5 1801.4C2627.5 1802.3 2625 1803.1 2625 1803.9C2625 1805.2 2626.2 1806.4 2627.5 1807.7C2628.9 1808.9 2635.5 1810.2 2640.1 1811.4C2643.1 1812.3 2648.5 1813.1 2650.1 1813.9C2651.6 1814.8 2653.1 1815.6 2653.1 1816.4C2653.1 1817.3 2651.3 1818.1 2651.3 1818.9C2651.3 1819.8 2652.6 1820.6 2653.8 1821.5C2655.7 1822.7 2663.7 1824 2667.6 1825.2C2671.5 1826.5 2676.6 1827.7 2677.6 1829C2678.3 1829.8 2678.9 1830.6 2678.9 1831.5C2678.9 1832.3 2676.7 1833.1 2675.1 1834C2673.6 1834.8 2668.9 1835.6 2668.9 1836.5C2668.9 1837.3 2669.4 1838.1 2670.1 1839C2670.8 1839.8 2675.9 1840.7 2677.6 1841.5C2679.9 1842.6 2682.6 1843.7 2682.6 1844.7C2682.6 1845.7 2680.5 1846.7 2678.9 1847.7C2676.9 1849 2673.2 1850.2 2670.1 1851.5C2667 1852.8 2662.7 1854 2660.1 1855.3C2657.5 1856.5 2655.4 1857.8 2653.8 1859C2652.3 1860.3 2651.6 1861.5 2650.1 1862.8C2648.5 1864 2646.3 1865.3 2643.8 1866.5C2641.4 1867.8 2637.8 1869 2635.1 1870.3C2631.4 1871.9 2627.9 1873.6 2625 1875.3C2622.2 1877 2619.4 1878.6 2617.5 1880.3C2614.8 1882.8 2612.7 1885.3 2611.3 1887.8C2609.8 1890.3 2608.6 1892.8 2608 1895.3C2607.3 1898.7 2606.7 1902 2606.5 1905.3C2606.3 1908.7 2606.1 1912 2606.1 1915.3C2606.1 1930.4 2606.1 1945.4 2606.1 1960.4C2606.1 1961.3 2606.3 1962.1 2606.5 1962.9C2606.8 1964.2 2612 1965.4 2615 1966.7C2618.1 1967.9 2622.5 1969.2 2625 1970.4C2627.6 1971.7 2630.6 1972.9 2631.3 1974.2C2632 1975.4 2632.6 1976.7 2632.6 1977.9C2632.6 1979.2 2629.8 1980.5 2627.5 1981.7C2625.3 1983 2620.4 1984.2 2617.5 1985.5C2614.7 1986.7 2611.3 1988 2610 1989.2C2608.2 1990.9 2607.1 1992.6 2606.5 1994.2C2606.3 1994.8 2606.2 1995.4 2606.1 1996L2606.1 1996Z" fill="#006f62" stroke="rgba(255,255,255,0.92)" stroke-width="1.9" stroke-linejoin="round"/>
<circle cx="2606.1" cy="1845.4" r="6.2" fill="#fff"/>
<path d="M2594.5 1800.2H2652.6M2594.5 1822.8H2652.6M2594.5 1845.4H2652.6M2594.5 1860.4H2652.6M2594.5 1973.4H2652.6" stroke="#80b7b0" stroke-width="4.4" fill="none" opacity="0.92"/>
<g class="q" fill="#80b7b0" stroke="#80b7b0"><text x="2581.1" y="1806.8">17</text><text x="2581.1" y="1829.4">14</text><text x="2581.1" y="1852">11</text><text x="2581.1" y="1867">9</text><text x="2581.1" y="1980">-6</text></g>
<path d="M2722.3 1784.6L2722.3 1784.6C2724.3 1786.1 2727.1 1787.5 2730.2 1788.9C2733 1790.2 2736.9 1791.4 2740.2 1792.7C2743.6 1793.9 2748.3 1795.2 2750.2 1796.4C2751.1 1797 2752.2 1797.6 2752.2 1798.2C2752.2 1798.8 2749.4 1799.5 2747.7 1800.2C2744.6 1801.4 2738.3 1802.7 2736.5 1803.9C2735.3 1804.8 2734 1805.6 2734 1806.4C2734 1807.3 2737.2 1808.1 2740.2 1808.9C2743.8 1809.9 2754.2 1810.9 2760.2 1811.9C2764.3 1812.6 2770.7 1813.3 2771.5 1813.9C2772.2 1814.5 2772.8 1815.1 2772.8 1815.7C2772.8 1816.4 2768 1817 2765.3 1817.7C2761.9 1818.5 2755.6 1819.4 2754 1820.2C2752.7 1820.9 2751.5 1821.5 2751.5 1822.2C2751.5 1822.8 2756.7 1823.4 2760.2 1824C2765.3 1824.8 2774.1 1825.6 2780.3 1826.5C2785.2 1827.1 2792.5 1827.8 2794.1 1828.5C2795.4 1829 2796.6 1829.6 2796.6 1830.2C2796.6 1830.9 2793.2 1831.6 2790.3 1832.2C2786.6 1833.1 2775.7 1833.9 2770.3 1834.7C2764.8 1835.6 2756.5 1836.4 2756.5 1837.2C2756.5 1837.8 2758.2 1838.4 2760.2 1839C2762.6 1839.6 2773.6 1840.3 2780.3 1841C2787.8 1841.7 2798.3 1842.5 2802.8 1843.2C2806.8 1843.9 2811.6 1844.6 2811.6 1845.2C2811.6 1845.8 2811.1 1846.4 2810.3 1847C2809.5 1847.7 2801 1848.3 2795.3 1849C2788.2 1849.8 2776.2 1850.7 2770.3 1851.5C2766.1 1852.1 2760.2 1852.7 2760.2 1853.3C2760.2 1853.9 2766.4 1854.6 2770.3 1855.3C2775.1 1856.1 2783.3 1856.9 2787.8 1857.8C2791.4 1858.4 2796.6 1859.1 2796.6 1859.8C2796.6 1860.4 2795.4 1861.1 2794.1 1861.8C2792.5 1862.5 2785.5 1863.3 2780.3 1864C2774.5 1864.9 2763.7 1865.7 2760.2 1866.5C2756.8 1867.4 2753.2 1868.2 2753.2 1869C2753.2 1869.9 2755.1 1870.7 2756.5 1871.5C2757.9 1872.4 2762.8 1873.2 2762.8 1874C2762.8 1874.9 2760.6 1875.7 2759 1876.5C2756.5 1877.8 2750.5 1879 2747.7 1880.3C2744 1882 2741.4 1883.6 2739 1885.3C2736.5 1887 2734.3 1888.6 2732.7 1890.3C2730.7 1892.4 2728.9 1894.5 2727.7 1896.6C2726.4 1898.7 2725.3 1900.7 2724.7 1902.8C2724 1905.3 2723.5 1907.8 2723.2 1910.3C2722.9 1912.8 2722.5 1915.3 2722.4 1917.9C2722.4 1920.4 2722.3 1922.9 2722.3 1925.4C2722.3 1940.4 2722.3 1955.4 2722.3 1970.4C2722.3 1970.9 2722.5 1971.3 2722.7 1971.7C2723.1 1972.5 2730.7 1973.4 2735.2 1974.2C2739.8 1975 2744.3 1975.9 2750.2 1976.7C2754.4 1977.3 2761.3 1977.9 2765.3 1978.4C2769.8 1979.1 2773.8 1979.8 2776.5 1980.5L2722.3 1980.5Z" fill="#005aff" stroke="rgba(255,255,255,0.92)" stroke-width="1.9" stroke-linejoin="round"/>
<circle cx="2722.3" cy="1845.4" r="6.2" fill="#fff"/>
<path d="M2710.7 1800.2H2768.8M2710.7 1830.3H2768.8M2710.7 1845.4H2768.8M2710.7 1875.5H2768.8M2710.7 1981H2768.8" stroke="#80acff" stroke-width="4.4" fill="none" opacity="0.92"/>
<g class="q" fill="#80acff" stroke="#80acff"><text x="2697.3" y="1806.8">17</text><text x="2697.3" y="1836.9">13</text><text x="2697.3" y="1852">11</text><text x="2697.3" y="1882.1">7</text><text x="2697.3" y="1987.6">-7</text></g>
<path d="M2838.5 1716.3L2838.5 1716.3C2838.5 1728.4 2838.7 1740.5 2839.1 1752.6C2839.3 1756.8 2840.7 1760.9 2841.6 1765.1C2842.4 1768.5 2843 1771.8 2844.1 1775.1C2845 1777.6 2846.5 1780.1 2847.9 1782.6C2849 1784.7 2850.8 1786.8 2851.6 1788.9C2852.2 1790.2 2852.9 1791.4 2852.9 1792.7C2852.9 1793.9 2850.9 1795.2 2850.4 1796.4C2849.8 1797.7 2849.1 1798.9 2849.1 1800.2C2849.1 1801.4 2852.7 1802.7 2855.4 1803.9C2858.1 1805.2 2863.3 1806.4 2866.7 1807.7C2869.4 1808.7 2872.8 1809.7 2874.2 1810.7C2875.4 1811.5 2876.7 1812.4 2876.7 1813.2C2876.7 1814 2875.3 1814.9 2874.2 1815.7C2872.7 1816.8 2868.2 1817.9 2866.7 1818.9C2865.5 1819.8 2864.2 1820.6 2864.2 1821.5C2864.2 1822.3 2864.7 1823.1 2865.4 1824C2866.3 1825 2870 1826.1 2872.9 1827.2C2875.7 1828.2 2880.1 1829.2 2882.9 1830.2C2885.8 1831.2 2889.5 1832.2 2890.5 1833.2C2891.5 1834.3 2892.5 1835.4 2892.5 1836.5C2892.5 1837.3 2891.3 1838.1 2890.5 1839C2889.3 1840.1 2886.2 1841.2 2885.4 1842.2C2884.8 1843.1 2884.2 1843.9 2884.2 1844.7C2884.2 1845.7 2888.1 1846.7 2889.2 1847.7C2890.3 1848.7 2891.7 1849.7 2891.7 1850.7C2891.7 1851.8 2890.5 1852.9 2889.2 1854C2887.9 1855.1 2883.4 1856.2 2881.7 1857.3C2880.1 1858.3 2878.2 1859.3 2877.9 1860.3C2877.6 1861.5 2877.7 1862.8 2877.4 1864C2877.2 1865.3 2876.3 1866.5 2875.4 1867.8C2874.2 1869.4 2871 1871.1 2869.2 1872.8C2867.3 1874.5 2865.6 1876.1 2864.2 1877.8C2862.3 1879.9 2861 1882 2859.2 1884.1C2857.3 1886.1 2854.6 1888.2 2852.9 1890.3C2850.9 1892.8 2849.5 1895.3 2847.9 1897.8C2846.3 1900.3 2844.5 1902.8 2843.4 1905.3C2842.3 1907.8 2841.4 1910.3 2840.9 1912.8C2840.2 1916.2 2839.5 1919.5 2839.4 1922.9C2839.1 1928.7 2838.9 1934.5 2838.9 1940.4C2838.9 1944.6 2839 1948.7 2839.1 1952.9C2839.2 1953.7 2839.2 1954.6 2839.4 1955.4C2839.7 1957.1 2843.5 1958.8 2846.6 1960.4C2849.8 1962.1 2856 1963.8 2860.4 1965.4C2864.3 1966.9 2868.7 1968.4 2871.7 1969.9C2873.6 1970.9 2876.7 1971.9 2876.7 1972.9C2876.7 1973.8 2874.5 1974.6 2872.9 1975.4C2870.6 1976.7 2866 1977.9 2862.9 1979.2C2859.8 1980.5 2855.2 1981.7 2854.1 1983C2852.7 1984.6 2851.6 1986.3 2851.6 1988L2838.5 1988Z" fill="#2b4562" stroke="rgba(255,255,255,0.92)" stroke-width="1.9" stroke-linejoin="round"/>
<circle cx="2838.5" cy="1852.9" r="6.2" fill="#fff"/>
<path d="M2826.9 1792.6H2885M2826.9 1830.3H2885M2826.9 1852.9H2885M2826.9 1883H2885M2826.9 1973.4H2885" stroke="#95a2b0" stroke-width="4.4" fill="none" opacity="0.92"/>
<g class="q" fill="#95a2b0" stroke="#95a2b0"><text x="2813.4" y="1799.2">18</text><text x="2813.4" y="1836.9">13</text><text x="2813.4" y="1859.5">10</text><text x="2813.4" y="1889.6">6</text><text x="2813.4" y="1980">-6</text></g>
<path d="M2954.7 1806.4L2954.7 1806.4C2956 1807.7 2957.3 1808.9 2957.6 1810.2C2957.9 1811.9 2958.1 1813.5 2958.1 1815.2C2958.1 1816.4 2955.9 1817.7 2955.6 1818.9C2955.2 1820.2 2954.9 1821.5 2954.9 1822.7C2954.9 1824 2955.2 1825.2 2955.6 1826.5C2956 1827.7 2964.6 1829 2970.6 1830.2C2976.6 1831.5 2985 1832.7 2993.1 1834C2998.5 1834.8 3007.3 1835.6 3010.6 1836.5C3012.3 1836.9 3014.4 1837.3 3014.4 1837.7C3014.4 1838.3 3009 1838.9 3005.6 1839.5C3000.3 1840.4 2990.7 1841.3 2985.6 1842.2C2981 1843.1 2974.3 1843.9 2974.3 1844.7C2974.3 1845.3 2976.2 1845.9 2978.1 1846.5C2980.8 1847.3 2991.4 1848.2 2998.1 1849C3004.8 1849.8 3013.1 1850.7 3018.1 1851.5C3021.7 1852.1 3026.9 1852.7 3026.9 1853.3C3026.9 1853.8 3025 1854.3 3023.2 1854.8C3020 1855.6 3007.2 1856.4 3000.6 1857.3C2994 1858.1 2983.1 1858.9 2983.1 1859.8C2983.1 1860.3 2984.1 1860.9 2985.6 1861.5C2987.3 1862.2 3000.1 1862.9 3008.1 1863.5C3018.2 1864.4 3030.6 1865.2 3040.7 1866C3047.8 1866.6 3056.5 1867.2 3060.7 1867.8C3063.1 1868.1 3066.2 1868.4 3066.2 1868.8C3066.2 1869.3 3053 1869.8 3045.7 1870.3C3033.5 1871.1 3014.5 1871.9 3005.6 1872.8C2998.5 1873.5 2989.4 1874.1 2989.4 1874.8C2989.4 1875.4 2992.5 1876 2995.6 1876.5C3000.1 1877.4 3016.6 1878.2 3025.7 1879C3034.8 1879.9 3045.3 1880.7 3050.7 1881.5C3053.4 1882 3057 1882.4 3057 1882.8C3057 1883.3 3053.8 1883.8 3050.7 1884.3C3046.1 1885.1 3030.1 1885.8 3020.7 1886.6C3010.1 1887.4 2996.4 1888.2 2990.6 1889.1C2986 1889.7 2980.6 1890.4 2980.6 1891.1C2980.6 1891.6 2983.1 1892.2 2985.6 1892.8C2988.4 1893.5 2998 1894.1 3003.1 1894.8C3008.3 1895.5 3015.2 1896.2 3016.9 1896.8C3018.2 1897.3 3019.4 1897.8 3019.4 1898.3C3019.4 1899 3014.6 1899.7 3010.6 1900.3C3005.6 1901.2 2992.2 1902 2985.6 1902.8C2979 1903.7 2970.1 1904.5 2969.3 1905.3C2968.5 1906.2 2968.1 1907 2968.1 1907.8C2968.1 1908.7 2973.6 1909.5 2975.6 1910.3C2977.6 1911.2 2980.6 1912 2980.6 1912.8C2980.6 1913.7 2977.6 1914.5 2975.6 1915.3C2972.5 1916.6 2965.8 1917.9 2963.1 1919.1C2960.3 1920.4 2956.8 1921.6 2956.8 1922.9C2956.8 1924.1 2958.5 1925.4 2959.3 1926.6C2960.1 1927.9 2961.8 1929.1 2961.8 1930.4C2961.8 1931.6 2959.2 1932.9 2958.1 1934.1C2956.9 1935.4 2955.2 1936.6 2955.1 1937.9C2954.8 1939.6 2954.7 1941.2 2954.7 1942.9C2954.7 1957.1 2954.7 1971.3 2954.7 1985.5C2954.7 1985.9 2954.9 1986.3 2955.1 1986.7C2955.6 1988 2962.4 1989.2 2965.6 1990.5C2968.8 1991.7 2972.4 1993 2974.3 1994.2C2975.4 1994.9 2976.3 1995.6 2976.8 1996.2L2954.7 1996.2Z" fill="#006f62" stroke="rgba(255,255,255,0.92)" stroke-width="1.9" stroke-linejoin="round"/>
<circle cx="2954.7" cy="1868" r="6.2" fill="#fff"/>
<path d="M2943 1837.8H3001.1M2943 1852.9H3001.1M2943 1868H3001.1M2943 1898.1H3001.1M2943 1973.4H3001.1" stroke="#80b7b0" stroke-width="4.4" fill="none" opacity="0.92"/>
<g class="q" fill="#80b7b0" stroke="#80b7b0"><text x="2929.6" y="1844.4">12</text><text x="2929.6" y="1859.5">10</text><text x="2929.6" y="1874.6">8</text><text x="2929.6" y="1904.7">4</text><text x="2929.6" y="1980">-6</text></g>
<path d="M3070.9 1716.3L3070.9 1716.3C3070.9 1728.4 3071.1 1740.5 3071.5 1752.6C3071.6 1756.8 3072.2 1760.9 3072.7 1765.1C3073.2 1769.3 3073.6 1773.5 3074.5 1777.6C3075 1780.1 3076 1782.6 3077 1785.1C3077.7 1786.8 3079.1 1788.5 3079.5 1790.2C3079.9 1791.8 3080 1793.5 3080.2 1795.2C3080.5 1796.8 3080.8 1798.5 3081.2 1800.2C3081.7 1801.8 3082.4 1803.5 3083.2 1805.2C3084.1 1806.8 3085.6 1808.5 3087 1810.2C3088.4 1811.9 3090.3 1813.5 3092 1815.2C3093.7 1816.9 3095.6 1818.5 3097 1820.2C3098.5 1821.9 3099.3 1823.5 3100.8 1825.2C3102.2 1826.9 3104.1 1828.5 3105.8 1830.2C3107.5 1831.9 3109.1 1833.6 3110.8 1835.2C3112 1836.5 3113.2 1837.7 3114.5 1839C3115.7 1840.1 3117.1 1841.2 3118.3 1842.2C3119.4 1843.2 3121.3 1844.2 3121.3 1845.2C3121.3 1846.2 3121.1 1847.2 3120.8 1848.2C3120.5 1849.3 3117.4 1850.4 3115.8 1851.5C3114.5 1852.3 3112.7 1853.2 3112 1854C3111.4 1854.8 3110.8 1855.7 3110.8 1856.5C3110.8 1857.3 3112.8 1858.2 3114.5 1859C3116.8 1860.1 3122.1 1861.2 3125.8 1862.3C3129.2 1863.3 3133.5 1864.3 3135.8 1865.3C3137.8 1866.1 3140.3 1866.9 3140.3 1867.8C3140.3 1868.4 3139.4 1869.1 3138.3 1869.8C3137.1 1870.6 3131.7 1871.4 3129.6 1872.3C3127.4 1873.1 3124.6 1874 3124.6 1874.8C3124.6 1875.6 3125.4 1876.5 3125.8 1877.3C3126.3 1878.3 3127.1 1879.3 3127.1 1880.3C3127.1 1881.3 3126.5 1882.3 3125.8 1883.3C3125.1 1884.4 3121 1885.5 3118.3 1886.6C3115.2 1887.8 3111.1 1889.1 3108.3 1890.3C3105.4 1891.6 3102.4 1892.8 3100.8 1894.1C3099.1 1895.3 3098.6 1896.6 3097 1897.8C3094.9 1899.5 3090.7 1901.2 3088.3 1902.8C3085.8 1904.5 3083.9 1906.2 3082 1907.8C3080.1 1909.5 3077.9 1911.2 3077 1912.8C3075.7 1915.3 3075 1917.9 3074.5 1920.4C3073.9 1923.7 3073.5 1927 3073.2 1930.4C3073 1933.7 3072.7 1937 3072.7 1940.4C3072.7 1943.7 3072.9 1947.1 3073.2 1950.4C3073.5 1952.9 3074.4 1955.4 3075.7 1957.9C3076.7 1959.6 3079 1961.3 3082 1962.9C3084.3 1964.2 3088.7 1965.4 3093.3 1966.7C3097.2 1967.8 3103.9 1968.8 3108.3 1969.9C3113 1971.1 3117.3 1972.3 3120.8 1973.4L3070.9 1973.4Z" fill="#ffffff" stroke="rgba(255,255,255,0.92)" stroke-width="1.9" stroke-linejoin="round"/>
<circle cx="3070.9" cy="1868" r="6.2" fill="#fff"/>
<path d="M3059.2 1807.7H3117.3M3059.2 1845.4H3117.3M3059.2 1868H3117.3M3059.2 1898.1H3117.3M3059.2 1973.4H3117.3" stroke="#ffffff" stroke-width="4.4" fill="none" opacity="1"/>
<g class="q" fill="#ffffff" stroke="#ffffff"><text x="3045.8" y="1814.3">16</text><text x="3045.8" y="1852">11</text><text x="3045.8" y="1874.6">8</text><text x="3045.8" y="1904.7">4</text><text x="3045.8" y="1980">-6</text></g>
<path d="M3187 1731.3L3187 1731.3C3187 1745.1 3187.3 1758.9 3187.9 1772.6C3188.1 1776 3189.4 1779.3 3190.4 1782.6C3191.4 1786 3192.8 1789.3 3193.9 1792.7C3195 1796 3196.1 1799.3 3197.2 1802.7C3198.3 1806 3199.2 1809.4 3200.4 1812.7C3201.3 1815.2 3202.2 1817.7 3203.4 1820.2C3204.4 1822.3 3205.9 1824.4 3207.2 1826.5C3208 1827.7 3209.3 1829 3209.7 1830.2C3210.1 1831.5 3210 1832.7 3210.4 1834C3210.8 1835.2 3212.2 1836.5 3213.5 1837.7C3215.1 1839.4 3217.6 1841.1 3219.7 1842.7C3221.8 1844.4 3224.1 1846.1 3226 1847.7C3227.8 1849.4 3229.9 1851.1 3231 1852.8C3232.1 1854.4 3232.6 1856.1 3233.5 1857.8C3234.3 1859.4 3235.4 1861.1 3236 1862.8C3236.5 1864.4 3236.9 1866.1 3237.2 1867.8C3237.6 1869.4 3237.6 1871.1 3238 1872.8C3238.3 1874.5 3239 1876.1 3239.7 1877.8C3240.3 1879 3241.9 1880.3 3242.2 1881.5C3242.6 1882.8 3243 1884.1 3243 1885.3C3243 1886.6 3241.9 1887.8 3241 1889.1C3240 1890.3 3238 1891.6 3236 1892.8C3234 1894.1 3230.6 1895.3 3228.5 1896.6C3227.1 1897.4 3224.7 1898.2 3224.7 1899.1C3224.7 1899.9 3226.1 1900.7 3227.2 1901.6C3228.3 1902.4 3231.7 1903.2 3232.2 1904.1C3232.6 1904.7 3233 1905.3 3233 1905.8C3233 1906.7 3229.5 1907.5 3227.2 1908.3C3224.2 1909.4 3218.7 1910.5 3216 1911.6C3212.8 1912.8 3210.4 1914.1 3208.4 1915.3C3205.8 1917 3204 1918.7 3202.2 1920.4C3200.3 1922 3198.6 1923.7 3197.2 1925.4C3195.7 1927 3194.4 1928.7 3193.4 1930.4C3192.2 1932.5 3191.2 1934.5 3190.4 1936.6C3189.6 1938.7 3188.7 1940.8 3188.4 1942.9C3188 1946.2 3187.7 1949.6 3187.7 1952.9C3187.7 1957.1 3187.7 1961.3 3187.7 1965.4C3187.7 1967.9 3188.1 1970.4 3188.9 1972.9C3189.4 1974.6 3192.1 1976.3 3194.7 1977.9C3196.6 1979.2 3201.4 1980.5 3203.4 1981.7C3206.8 1983.8 3209.9 1985.9 3210.9 1988L3187 1988Z" fill="#ff8700" stroke="rgba(255,255,255,0.92)" stroke-width="1.9" stroke-linejoin="round"/>
<circle cx="3187" cy="1875.5" r="6.2" fill="#fff"/>
<path d="M3175.4 1815.2H3233.5M3175.4 1852.9H3233.5M3175.4 1875.5H3233.5M3175.4 1905.6H3233.5M3175.4 1988.5H3233.5" stroke="#ffc380" stroke-width="4.4" fill="none" opacity="0.92"/>
<g class="q" fill="#ffc380" stroke="#ffc380"><text x="3162" y="1821.8">15</text><text x="3162" y="1859.5">10</text><text x="3162" y="1882.1">7</text><text x="3162" y="1912.2">3</text><text x="3162" y="1995.1">-8</text></g>
<path d="M3303.2 1814.4L3312.7 1814.4C3313.2 1815.1 3313.2 1815.8 3313.2 1816.4C3313.2 1817.3 3310 1818.1 3308.9 1818.9C3307.9 1819.8 3306.4 1820.6 3306.4 1821.5C3306.4 1822.7 3307.6 1824 3308.9 1825.2C3310.2 1826.5 3315 1827.7 3317.7 1829C3320.4 1830.2 3323.4 1831.5 3325.2 1832.7C3326.4 1833.6 3328.2 1834.4 3328.2 1835.2C3328.2 1836.1 3327.9 1836.9 3327.7 1837.7C3327.5 1838.6 3326.5 1839.4 3326.5 1840.2C3326.5 1841.2 3327 1842.2 3327.7 1843.2C3328.4 1844.3 3331.4 1845.4 3334 1846.5C3336.5 1847.6 3341.8 1848.7 3344 1849.7C3345.6 1850.6 3347.7 1851.4 3347.7 1852.3C3347.7 1852.8 3346.4 1853.4 3345.2 1854C3343.5 1854.8 3337.4 1855.7 3335.2 1856.5C3333 1857.3 3330.2 1858.2 3330.2 1859C3330.2 1859.6 3332.7 1860.2 3335.2 1860.8C3338.1 1861.4 3348.6 1862.1 3355.2 1862.8C3361.9 1863.4 3370.1 1864.1 3375.3 1864.8C3379.8 1865.4 3385.6 1865.9 3386.5 1866.5C3387.2 1866.9 3387.8 1867.4 3387.8 1867.8C3387.8 1868.3 3385.2 1868.8 3382.8 1869.3C3379.2 1870 3367.2 1870.8 3360.3 1871.5C3352.6 1872.4 3340.9 1873.2 3339 1874C3337.6 1874.6 3336.5 1875.2 3336.5 1875.8C3336.5 1876.5 3343.9 1877.1 3350.2 1877.8C3356.5 1878.5 3371.1 1879.1 3380.3 1879.8C3388.4 1880.4 3398.7 1881 3402.8 1881.5C3405.8 1882 3409.1 1882.4 3409.1 1882.8C3409.1 1883.2 3408 1883.6 3406.6 1884.1C3404.6 1884.6 3393.1 1885.2 3385.3 1885.8C3376.4 1886.5 3363.3 1887.1 3355.2 1887.8C3347.2 1888.5 3337.5 1889.1 3335.2 1889.8C3333.2 1890.4 3331.5 1891 3331.5 1891.6C3331.5 1892.1 3337.8 1892.7 3342.7 1893.3C3348.4 1894 3360.3 1894.7 3367.8 1895.3C3375.2 1896 3385.7 1896.7 3387.8 1897.3C3389.1 1897.7 3390.3 1898.2 3390.3 1898.6C3390.3 1899.2 3384.9 1899.7 3380.3 1900.3C3373.7 1901.2 3355.2 1902 3345.2 1902.8C3335.2 1903.7 3321.5 1904.5 3318.9 1905.3C3316.9 1906 3315.2 1906.7 3315.2 1907.3C3315.2 1907.9 3320.4 1908.5 3322.7 1909.1C3325.9 1909.9 3330.5 1910.8 3331.5 1911.6C3332.1 1912.2 3332.7 1912.8 3332.7 1913.3C3332.7 1914 3329.8 1914.7 3327.7 1915.3C3324.6 1916.4 3318.5 1917.4 3315.2 1918.4C3311.6 1919.4 3308.1 1920.5 3306.4 1921.6C3305.1 1922.4 3303.8 1923.3 3303.7 1924.1C3303.4 1925.4 3303.3 1926.6 3303.3 1927.9C3303.3 1946.2 3303.3 1964.6 3303.3 1983C3303.3 1983.6 3303.4 1984.3 3303.7 1985C3304 1985.8 3310.3 1986.6 3315.2 1987.5C3320.1 1988.3 3327.8 1989.1 3335.2 1990C3342.6 1990.8 3351.9 1991.6 3360.3 1992.5C3366.1 1993.1 3374.7 1993.6 3377.8 1994.2C3380.9 1994.8 3383.8 1995.4 3384 1996L3303.2 1996Z" fill="#005aff" stroke="rgba(255,255,255,0.92)" stroke-width="1.9" stroke-linejoin="round"/>
<circle cx="3303.2" cy="1883" r="6.2" fill="#fff"/>
<path d="M3291.6 1837.8H3349.7M3291.6 1868H3349.7M3291.6 1883H3349.7M3291.6 1898.1H3349.7M3291.6 1996H3349.7" stroke="#80acff" stroke-width="4.4" fill="none" opacity="0.92"/>
<g class="q" fill="#80acff" stroke="#80acff"><text x="3278.2" y="1844.4">12</text><text x="3278.2" y="1874.6">8</text><text x="3278.2" y="1889.6">6</text><text x="3278.2" y="1904.7">4</text><text x="3278.2" y="2002.6">-9</text></g>
<path d="M3419.4 1747.1L3419.4 1747.1C3419.4 1758.9 3419.5 1770.8 3419.8 1782.6C3419.9 1785.1 3421.6 1787.7 3421.6 1790.2C3421.6 1792.7 3421.6 1795.2 3421.6 1797.7C3421.6 1799.8 3423 1801.8 3424.1 1803.9C3425 1805.6 3427 1807.3 3427.9 1808.9C3428.7 1810.6 3429.9 1812.3 3429.9 1813.9C3429.9 1815.2 3428.5 1816.4 3427.9 1817.7C3427.2 1818.9 3425.9 1820.2 3425.9 1821.5C3425.9 1822.7 3426.2 1824 3426.6 1825.2C3427 1826.5 3429.8 1827.7 3431.6 1829C3433.5 1830.2 3436.7 1831.5 3437.9 1832.7C3439.1 1834 3440.4 1835.2 3440.4 1836.5C3440.4 1837.7 3439 1839 3438.4 1840.2C3437.8 1841.5 3436.6 1842.7 3436.6 1844C3436.6 1845.2 3439.9 1846.5 3441.6 1847.7C3444 1849.4 3447.5 1851.1 3449.1 1852.8C3450.8 1854.4 3452.1 1856.1 3452.9 1857.8C3453.5 1859 3453.7 1860.3 3454.2 1861.5C3454.6 1862.8 3454.7 1864 3455.4 1865.3C3456.1 1866.5 3461.7 1867.8 3464.2 1869C3466.6 1870.3 3469.3 1871.5 3470.4 1872.8C3471.4 1873.8 3472.4 1874.8 3472.4 1875.8C3472.4 1876.6 3470.3 1877.5 3469.2 1878.3C3467.8 1879.4 3464.9 1880.5 3464.9 1881.5C3464.9 1882.6 3468.2 1883.7 3470.4 1884.8C3472.5 1885.8 3476.3 1886.8 3477.9 1887.8C3479 1888.5 3480.4 1889.1 3480.4 1889.8C3480.4 1890.6 3477.4 1891.5 3475.4 1892.3C3472.7 1893.5 3467.1 1894.7 3465.4 1895.8C3463.5 1897.2 3461.7 1898.5 3461.7 1899.8C3461.7 1901.2 3462.9 1902.7 3462.9 1904.1C3462.9 1905.3 3460.1 1906.6 3457.9 1907.8C3455 1909.5 3448.2 1911.2 3445.4 1912.8C3442.6 1914.5 3440.7 1916.2 3439.1 1917.9C3437.6 1919.5 3437.2 1921.2 3435.4 1922.9C3433.6 1924.5 3426.9 1926.2 3425.4 1927.9C3423.4 1930 3422.2 1932 3421.6 1934.1C3421 1936.2 3420.5 1938.3 3420.3 1940.4C3420.1 1943.7 3419.8 1947.1 3419.8 1950.4C3419.8 1953.3 3419.8 1956.2 3419.8 1959.2C3419.8 1960.4 3421.6 1961.7 3422.9 1962.9C3424.5 1964.6 3427.5 1966.3 3429.1 1967.9C3431.2 1970 3431.9 1972.1 3434.1 1974.2C3435.9 1975.9 3438.6 1977.5 3441.6 1979.2C3444.6 1980.9 3450.4 1982.5 3452.9 1984.2C3454.5 1985.3 3456.7 1986.4 3456.7 1987.5C3456.7 1988.5 3452.2 1989.5 3450.4 1990.5C3447 1992.3 3444 1994.1 3441.6 1996L3419.4 1996Z" fill="#2b4562" stroke="rgba(255,255,255,0.92)" stroke-width="1.9" stroke-linejoin="round"/>
<circle cx="3419.4" cy="1890.6" r="6.2" fill="#fff"/>
<path d="M3407.8 1830.3H3465.9M3407.8 1868H3465.9M3407.8 1890.6H3465.9M3407.8 1905.6H3465.9M3407.8 1988.5H3465.9" stroke="#95a2b0" stroke-width="4.4" fill="none" opacity="0.92"/>
<g class="q" fill="#95a2b0" stroke="#95a2b0"><text x="3394.4" y="1836.9">13</text><text x="3394.4" y="1874.6">8</text><text x="3394.4" y="1897.2">5</text><text x="3394.4" y="1912.2">3</text><text x="3394.4" y="1995.1">-8</text></g>
<path d="M3535.6 1776.9L3535.6 1776.9C3535.6 1788 3535.8 1799.1 3536.3 1810.2C3536.4 1813.5 3537.2 1816.9 3538 1820.2C3538.8 1823.5 3540.2 1826.9 3541.8 1830.2C3543 1832.7 3545.9 1835.2 3546.8 1837.7C3547.4 1839.4 3547.4 1841.1 3548 1842.7C3548.7 1844.4 3550.2 1846.1 3551.8 1847.7C3553.4 1849.4 3555.8 1851.1 3558.1 1852.8C3560.3 1854.4 3563.1 1856.1 3565.6 1857.8C3568.1 1859.4 3570 1861.1 3573.1 1862.8C3575.4 1864 3579.7 1865.3 3581.8 1866.5C3584 1867.8 3585.4 1869 3586.9 1870.3C3588.3 1871.5 3589.4 1872.8 3590.6 1874C3591.9 1875.3 3593.1 1876.5 3594.4 1877.8C3595.6 1879 3596.7 1880.3 3598.1 1881.5C3599.6 1882.8 3601.3 1884.1 3603.1 1885.3C3604.6 1886.3 3607.3 1887.3 3608.1 1888.3C3608.7 1889 3609.4 1889.6 3609.4 1890.3C3609.4 1891.1 3605.2 1892 3603.1 1892.8C3601 1893.6 3597.8 1894.5 3596.9 1895.3C3595.5 1896.6 3594.4 1897.8 3594.4 1899.1C3594.4 1900.2 3597.8 1901.2 3598.1 1902.3C3598.4 1903.2 3598.6 1904 3598.6 1904.8C3598.6 1905.7 3595.7 1906.5 3593.1 1907.3C3590.6 1908.2 3580.6 1909 3580.6 1909.8C3580.6 1910.7 3581.8 1911.5 3581.8 1912.3C3581.8 1913.2 3573.3 1914 3570.6 1914.8C3567.3 1915.9 3564.5 1916.9 3563.1 1917.9C3561.3 1919.1 3561.3 1920.4 3559.3 1921.6C3557.3 1922.9 3548 1924.1 3545.5 1925.4C3543.1 1926.6 3540.5 1927.9 3540.5 1929.1C3540.5 1930.4 3541.8 1931.6 3541.8 1932.9C3541.8 1934.5 3540.7 1936.2 3540 1937.9C3539.4 1939.6 3538.4 1941.2 3538 1942.9C3537.4 1946.2 3537 1949.6 3536.8 1952.9C3536.5 1957.1 3536.3 1961.3 3536.3 1965.4C3536.3 1968.8 3536.4 1972.1 3536.8 1975.4C3537 1977.1 3538.2 1978.8 3540.5 1980.5C3542 1981.5 3550.2 1982.5 3558.1 1983.5C3563.3 1984.1 3576.8 1984.8 3580.6 1985.5C3584.4 1986.1 3588.1 1986.8 3588.1 1987.5C3588.1 1988 3587.9 1988.6 3587.6 1989.2C3587.2 1990 3583.3 1990.9 3583.1 1991.7C3582.8 1993.4 3582.6 1995.1 3582.6 1996.7L3535.6 1996.7Z" fill="#ffffff" stroke="rgba(255,255,255,0.92)" stroke-width="1.9" stroke-linejoin="round"/>
<circle cx="3535.6" cy="1890.6" r="6.2" fill="#fff"/>
<path d="M3524 1845.4H3582.1M3524 1875.5H3582.1M3524 1890.6H3582.1M3524 1913.2H3582.1M3524 1996H3582.1" stroke="#ffffff" stroke-width="4.4" fill="none" opacity="1"/>
<g class="q" fill="#ffffff" stroke="#ffffff"><text x="3510.6" y="1852">11</text><text x="3510.6" y="1882.1">7</text><text x="3510.6" y="1897.2">5</text><text x="3510.6" y="1919.8">2</text><text x="3510.6" y="2002.6">-9</text></g>
<path d="M3651.8 1799.7L3651.8 1799.7C3651.9 1802.4 3652.2 1805 3652.5 1807.7C3652.7 1810.2 3653.2 1812.7 3653.7 1815.2C3654.4 1818.5 3655.7 1821.9 3657 1825.2C3658.3 1828.5 3660.1 1831.9 3662 1835.2C3663.8 1838.6 3666 1841.9 3668.2 1845.2C3670.5 1848.6 3673 1851.9 3675.7 1855.3C3678.4 1858.6 3681.6 1861.9 3684.5 1865.3C3687.4 1868.6 3690.7 1871.9 3693.3 1875.3C3695.6 1878.2 3697.6 1881.1 3699.5 1884.1C3700.9 1886.1 3702.3 1888.2 3703.3 1890.3C3704.3 1892.4 3705.8 1894.5 3705.8 1896.6C3705.8 1898.2 3705.6 1899.9 3705.3 1901.6C3704.9 1903.7 3702.9 1905.8 3701.3 1907.8C3699.3 1910.3 3696.2 1912.8 3693.3 1915.3C3690.3 1917.9 3686.6 1920.4 3683.3 1922.9C3679.9 1925.4 3676.1 1927.9 3673.2 1930.4C3670.4 1932.9 3668 1935.4 3665.7 1937.9C3663.5 1940.4 3661.2 1942.9 3659.5 1945.4C3657.8 1947.9 3656.1 1950.4 3655.2 1952.9C3654.3 1955.4 3653.5 1957.9 3653.2 1960.4C3652.9 1962.9 3652.7 1965.4 3652.7 1967.9C3652.7 1970 3653.1 1972.1 3653.7 1974.2C3654.2 1975.9 3655.9 1977.5 3658.2 1979.2C3659.9 1980.5 3664 1981.7 3668.2 1983C3672.5 1984.2 3679.9 1985.5 3685.8 1986.7C3691.6 1988 3698.4 1989.2 3703.3 1990.5C3707.2 1991.5 3711.3 1992.5 3713.3 1993.5C3715 1994.3 3716.5 1995.1 3717.1 1996L3651.8 1996Z" fill="#900000" stroke="rgba(255,255,255,0.92)" stroke-width="1.9" stroke-linejoin="round"/>
<circle cx="3651.8" cy="1898.1" r="6.2" fill="#fff"/>
<path d="M3640.2 1845.4H3698.3M3640.2 1883H3698.3M3640.2 1898.1H3698.3M3640.2 1988.5H3698.3M3640.2 1996H3698.3" stroke="#c88080" stroke-width="4.4" fill="none" opacity="0.92"/>
<g class="q" fill="#c88080" stroke="#c88080"><text x="3626.8" y="1852">11</text><text x="3626.8" y="1889.6">6</text><text x="3626.8" y="1904.7">4</text><text x="3626.8" y="1995.1">-8</text><text x="3626.8" y="2002.6">-9</text></g>
</g>
<path d="M1328 1174.9V2078.9H3768" stroke="#d8dae0" stroke-width="1.8" fill="none" stroke-linejoin="miter"/>
<path d="M1328 1174.9h24.6M1328 1325.6h24.6M1328 1476.2h24.6M1328 1626.9h24.6M1328 1777.6h24.6M1328 1928.2h24.6M1328 2078.9h24.6M1444.2 2078.9v-24.6M1560.4 2078.9v-24.6M1676.6 2078.9v-24.6M1792.8 2078.9v-24.6M1909 2078.9v-24.6M2025.1 2078.9v-24.6M2141.3 2078.9v-24.6M2257.5 2078.9v-24.6M2373.7 2078.9v-24.6M2489.9 2078.9v-24.6M2606.1 2078.9v-24.6M2722.3 2078.9v-24.6M2838.5 2078.9v-24.6M2954.7 2078.9v-24.6M3070.9 2078.9v-24.6M3187 2078.9v-24.6M3303.2 2078.9v-24.6M3419.4 2078.9v-24.6M3535.6 2078.9v-24.6M3651.8 2078.9v-24.6" stroke="#d8dae0" stroke-width="1.7" fill="none"/>
<g class="t"><text x="1318.2" y="1183.7" text-anchor="end">100</text><text x="1318.2" y="1334.4" text-anchor="end">80</text><text x="1318.2" y="1485" text-anchor="end">60</text><text x="1318.2" y="1635.7" text-anchor="end">40</text><text x="1318.2" y="1786.4" text-anchor="end">20</text><text x="1318.2" y="1937" text-anchor="end">0</text><text x="1318.2" y="2087.7" text-anchor="end">-20</text><text x="1444.2" y="2108.5" text-anchor="middle">VER</text><text x="1560.4" y="2108.5" text-anchor="middle">LEC</text><text x="1676.6" y="2108.5" text-anchor="middle">HAM</text><text x="1792.8" y="2108.5" text-anchor="middle">NOR</text><text x="1909" y="2108.5" text-anchor="middle">SAI</text><text x="2025.1" y="2108.5" text-anchor="middle">RUS</text><text x="2141.3" y="2108.5" text-anchor="middle">PER</text><text x="2257.5" y="2108.5" text-anchor="middle">OCO</text><text x="2373.7" y="2108.5" text-anchor="middle">ALO</text><text x="2489.9" y="2108.5" text-anchor="middle">BOT</text><text x="2606.1" y="2108.5" text-anchor="middle">VET</text><text x="2722.3" y="2108.5" text-anchor="middle">ALB</text><text x="2838.5" y="2108.5" text-anchor="middle">GAS</text><text x="2954.7" y="2108.5" text-anchor="middle">STR</text><text x="3070.9" y="2108.5" text-anchor="middle">MAG</text><text x="3187" y="2108.5" text-anchor="middle">RIC</text><text x="3303.2" y="2108.5" text-anchor="middle">LAT</text><text x="3419.4" y="2108.5" text-anchor="middle">TSU</text><text x="3535.6" y="2108.5" text-anchor="middle">MSC</text><text x="3651.8" y="2108.5" text-anchor="middle">ZHO</text></g>
<text class="st" x="2548" y="1170.3" text-anchor="middle" textLength="219" lengthAdjust="spacingAndGlyphs">Driver Predictions (pts)</text>
</svg></body></html>
